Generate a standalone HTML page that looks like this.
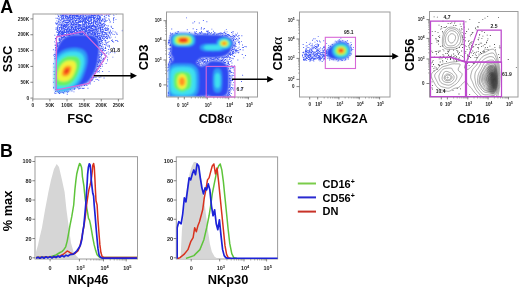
<!DOCTYPE html>
<html><head><meta charset="utf-8"><style>
html,body{margin:0;padding:0;background:#fff;width:520px;height:289px;overflow:hidden}
svg{display:block;will-change:transform}
</style></head><body>
<svg width="520" height="289" viewBox="0 0 520 289">
<defs><filter id="bl" x="-20%" y="-20%" width="140%" height="140%"><feGaussianBlur stdDeviation="0.9"/></filter><filter id="bl2"><feGaussianBlur stdDeviation="0.4"/></filter></defs>
<rect width="520" height="289" fill="#fff"/>
<clipPath id="c3"><rect x="33" y="14" width="90" height="85"/></clipPath>
<g clip-path="url(#c3)">
<path fill="#3a52f5" d="M60.5 13.6h0.9v0.9h-0.9zM63.2 14.0h0.9v0.9h-0.9zM66.7 13.6h0.9v0.9h-0.9zM71.3 13.6h0.9v0.9h-0.9zM79.7 13.7h0.9v0.9h-0.9zM83.2 13.8h0.9v0.9h-0.9zM91.4 13.1h0.9v0.9h-0.9zM92.8 13.5h0.9v0.9h-0.9zM97.3 13.2h0.9v0.9h-0.9zM99.8 13.9h0.9v0.9h-0.9zM106.6 13.5h0.9v0.9h-0.9zM109.0 13.5h0.9v0.9h-0.9zM56.9 14.4h0.9v0.9h-0.9zM74.5 14.7h0.9v0.9h-0.9zM78.3 14.2h0.9v0.9h-0.9zM79.5 14.2h0.9v0.9h-0.9zM84.6 15.0h0.9v0.9h-0.9zM86.8 14.3h0.9v0.9h-0.9zM87.2 14.7h0.9v0.9h-0.9zM91.0 14.7h0.9v0.9h-0.9zM93.9 15.0h0.9v0.9h-0.9zM98.1 15.0h0.9v0.9h-0.9zM101.7 14.6h0.9v0.9h-0.9zM107.7 14.5h0.9v0.9h-0.9zM108.8 14.3h0.9v0.9h-0.9zM60.2 15.2h0.9v0.9h-0.9zM64.7 15.9h0.9v0.9h-0.9zM65.5 16.0h0.9v0.9h-0.9zM71.9 15.6h0.9v0.9h-0.9zM75.8 15.6h0.9v0.9h-0.9zM80.7 15.2h0.9v0.9h-0.9zM82.6 15.3h0.9v0.9h-0.9zM84.6 15.6h0.9v0.9h-0.9zM88.7 15.8h0.9v0.9h-0.9zM91.9 15.2h0.9v0.9h-0.9zM108.8 15.9h0.9v0.9h-0.9zM62.0 16.4h0.9v0.9h-0.9zM63.1 16.8h0.9v0.9h-0.9zM66.9 17.0h0.9v0.9h-0.9zM67.4 16.4h0.9v0.9h-0.9zM73.5 16.1h0.9v0.9h-0.9zM75.6 16.3h0.9v0.9h-0.9zM80.0 16.1h0.9v0.9h-0.9zM84.7 16.9h0.9v0.9h-0.9zM87.2 16.4h0.9v0.9h-0.9zM90.1 16.9h0.9v0.9h-0.9zM91.2 16.2h0.9v0.9h-0.9zM93.2 16.5h0.9v0.9h-0.9zM94.2 16.9h0.9v0.9h-0.9zM96.8 17.0h0.9v0.9h-0.9zM103.8 16.3h0.9v0.9h-0.9zM61.2 17.5h0.9v0.9h-0.9zM62.4 17.8h0.9v0.9h-0.9zM69.8 17.3h0.9v0.9h-0.9zM72.0 18.0h0.9v0.9h-0.9zM73.9 17.4h0.9v0.9h-0.9zM74.7 17.5h0.9v0.9h-0.9zM80.4 17.2h0.9v0.9h-0.9zM81.7 18.0h0.9v0.9h-0.9zM88.9 17.1h0.9v0.9h-0.9zM90.3 17.6h0.9v0.9h-0.9zM91.8 17.2h0.9v0.9h-0.9zM92.9 18.0h0.9v0.9h-0.9zM93.5 17.8h0.9v0.9h-0.9zM98.1 17.8h0.9v0.9h-0.9zM99.3 17.5h0.9v0.9h-0.9zM100.4 17.4h0.9v0.9h-0.9zM58.4 18.2h0.9v0.9h-0.9zM69.5 18.8h0.9v0.9h-0.9zM70.1 18.6h0.9v0.9h-0.9zM72.1 18.2h0.9v0.9h-0.9zM74.9 18.1h0.9v0.9h-0.9zM83.8 18.8h0.9v0.9h-0.9zM85.7 18.8h0.9v0.9h-0.9zM86.7 18.6h0.9v0.9h-0.9zM90.7 18.8h0.9v0.9h-0.9zM97.7 18.8h0.9v0.9h-0.9zM99.1 18.7h0.9v0.9h-0.9zM100.1 18.5h0.9v0.9h-0.9zM108.7 18.7h0.9v0.9h-0.9zM113.2 18.1h0.9v0.9h-0.9zM60.5 19.4h0.9v0.9h-0.9zM64.1 19.9h0.9v0.9h-0.9zM66.4 19.9h0.9v0.9h-0.9zM71.8 19.2h0.9v0.9h-0.9zM73.4 19.6h0.9v0.9h-0.9zM74.7 20.0h0.9v0.9h-0.9zM75.7 20.0h0.9v0.9h-0.9zM76.7 19.7h0.9v0.9h-0.9zM78.2 19.7h0.9v0.9h-0.9zM79.4 19.3h0.9v0.9h-0.9zM84.8 20.0h0.9v0.9h-0.9zM85.3 19.8h0.9v0.9h-0.9zM95.2 19.7h0.9v0.9h-0.9zM97.4 20.0h0.9v0.9h-0.9zM99.1 20.0h0.9v0.9h-0.9zM101.3 19.7h0.9v0.9h-0.9zM102.7 19.9h0.9v0.9h-0.9zM106.6 20.0h0.9v0.9h-0.9zM109.2 19.8h0.9v0.9h-0.9zM115.5 19.2h0.9v0.9h-0.9zM56.4 20.4h0.9v0.9h-0.9zM60.7 20.4h0.9v0.9h-0.9zM63.3 20.7h0.9v0.9h-0.9zM69.2 20.6h0.9v0.9h-0.9zM70.3 20.4h0.9v0.9h-0.9zM74.8 20.3h0.9v0.9h-0.9zM75.6 20.2h0.9v0.9h-0.9zM82.8 20.1h0.9v0.9h-0.9zM83.8 20.8h0.9v0.9h-0.9zM90.8 20.7h0.9v0.9h-0.9zM93.8 20.5h0.9v0.9h-0.9zM94.4 20.8h0.9v0.9h-0.9zM95.7 21.0h0.9v0.9h-0.9zM104.3 20.8h0.9v0.9h-0.9zM105.6 20.8h0.9v0.9h-0.9zM61.7 21.7h0.9v0.9h-0.9zM62.2 21.6h0.9v0.9h-0.9zM68.5 21.3h0.9v0.9h-0.9zM71.9 21.1h0.9v0.9h-0.9zM73.1 21.6h0.9v0.9h-0.9zM78.6 21.8h0.9v0.9h-0.9zM80.3 21.3h0.9v0.9h-0.9zM81.9 21.1h0.9v0.9h-0.9zM83.4 21.1h0.9v0.9h-0.9zM85.9 21.3h0.9v0.9h-0.9zM90.9 22.0h0.9v0.9h-0.9zM97.0 21.5h0.9v0.9h-0.9zM99.8 21.5h0.9v0.9h-0.9zM101.1 21.4h0.9v0.9h-0.9zM104.6 21.4h0.9v0.9h-0.9zM109.5 21.7h0.9v0.9h-0.9zM110.1 21.4h0.9v0.9h-0.9zM55.1 22.6h0.9v0.9h-0.9zM57.2 22.5h0.9v0.9h-0.9zM67.4 22.1h0.9v0.9h-0.9zM71.9 22.2h0.9v0.9h-0.9zM75.7 22.1h0.9v0.9h-0.9zM78.1 22.1h0.9v0.9h-0.9zM84.3 23.0h0.9v0.9h-0.9zM87.7 22.9h0.9v0.9h-0.9zM91.6 22.2h0.9v0.9h-0.9zM95.8 22.2h0.9v0.9h-0.9zM98.4 22.8h0.9v0.9h-0.9zM100.3 23.0h0.9v0.9h-0.9zM103.0 23.0h0.9v0.9h-0.9zM104.1 22.7h0.9v0.9h-0.9zM59.1 23.4h0.9v0.9h-0.9zM63.9 23.9h0.9v0.9h-0.9zM68.0 23.7h0.9v0.9h-0.9zM69.5 23.3h0.9v0.9h-0.9zM70.5 23.7h0.9v0.9h-0.9zM71.3 23.8h0.9v0.9h-0.9zM72.7 23.7h0.9v0.9h-0.9zM73.1 23.8h0.9v0.9h-0.9zM89.4 23.4h0.9v0.9h-0.9zM102.0 24.0h0.9v0.9h-0.9zM102.9 23.1h0.9v0.9h-0.9zM104.5 24.0h0.9v0.9h-0.9zM61.4 24.5h0.9v0.9h-0.9zM62.4 24.5h0.9v0.9h-0.9zM63.5 25.0h0.9v0.9h-0.9zM64.1 24.5h0.9v0.9h-0.9zM72.8 24.8h0.9v0.9h-0.9zM74.5 24.2h0.9v0.9h-0.9zM75.5 24.2h0.9v0.9h-0.9zM76.3 24.7h0.9v0.9h-0.9zM77.6 24.5h0.9v0.9h-0.9zM79.4 24.9h0.9v0.9h-0.9zM80.1 24.2h0.9v0.9h-0.9zM84.3 24.5h0.9v0.9h-0.9zM86.0 24.2h0.9v0.9h-0.9zM90.5 24.9h0.9v0.9h-0.9zM91.5 25.0h0.9v0.9h-0.9zM93.0 24.5h0.9v0.9h-0.9zM93.6 24.8h0.9v0.9h-0.9zM96.0 24.2h0.9v0.9h-0.9zM97.2 25.0h0.9v0.9h-0.9zM101.5 24.3h0.9v0.9h-0.9zM104.8 24.2h0.9v0.9h-0.9zM65.2 25.3h0.9v0.9h-0.9zM66.7 25.6h0.9v0.9h-0.9zM71.7 25.4h0.9v0.9h-0.9zM72.3 25.4h0.9v0.9h-0.9zM82.8 25.9h0.9v0.9h-0.9zM85.6 26.0h0.9v0.9h-0.9zM86.3 25.5h0.9v0.9h-0.9zM88.0 26.0h0.9v0.9h-0.9zM91.6 25.6h0.9v0.9h-0.9zM92.3 25.1h0.9v0.9h-0.9zM93.2 25.5h0.9v0.9h-0.9zM94.7 25.6h0.9v0.9h-0.9zM96.7 25.9h0.9v0.9h-0.9zM99.5 25.1h0.9v0.9h-0.9zM101.4 25.8h0.9v0.9h-0.9zM104.0 25.5h0.9v0.9h-0.9zM104.1 25.7h0.9v0.9h-0.9zM107.8 25.5h0.9v0.9h-0.9zM57.9 26.4h0.9v0.9h-0.9zM60.9 26.6h0.9v0.9h-0.9zM62.6 26.3h0.9v0.9h-0.9zM63.5 26.3h0.9v0.9h-0.9zM68.6 26.1h0.9v0.9h-0.9zM71.1 26.3h0.9v0.9h-0.9zM72.1 27.0h0.9v0.9h-0.9zM74.5 26.9h0.9v0.9h-0.9zM75.5 26.7h0.9v0.9h-0.9zM78.9 26.2h0.9v0.9h-0.9zM79.4 26.7h0.9v0.9h-0.9zM83.6 26.2h0.9v0.9h-0.9zM85.0 27.0h0.9v0.9h-0.9zM85.5 26.8h0.9v0.9h-0.9zM86.5 26.8h0.9v0.9h-0.9zM89.1 26.1h0.9v0.9h-0.9zM91.3 26.4h0.9v0.9h-0.9zM95.0 26.8h0.9v0.9h-0.9zM95.2 26.6h0.9v0.9h-0.9zM96.7 26.1h0.9v0.9h-0.9zM100.4 27.0h0.9v0.9h-0.9zM101.5 26.5h0.9v0.9h-0.9zM58.6 27.7h0.9v0.9h-0.9zM61.7 27.7h0.9v0.9h-0.9zM63.0 27.5h0.9v0.9h-0.9zM63.8 27.8h0.9v0.9h-0.9zM73.7 27.7h0.9v0.9h-0.9zM75.2 27.9h0.9v0.9h-0.9zM77.7 27.9h0.9v0.9h-0.9zM79.5 27.3h0.9v0.9h-0.9zM80.4 27.4h0.9v0.9h-0.9zM81.2 27.9h0.9v0.9h-0.9zM85.4 27.9h0.9v0.9h-0.9zM86.1 27.5h0.9v0.9h-0.9zM90.0 27.9h0.9v0.9h-0.9zM90.4 27.4h0.9v0.9h-0.9zM91.6 28.0h0.9v0.9h-0.9zM96.3 27.5h0.9v0.9h-0.9zM98.0 28.0h0.9v0.9h-0.9zM99.6 27.7h0.9v0.9h-0.9zM105.0 27.3h0.9v0.9h-0.9zM106.7 27.2h0.9v0.9h-0.9zM61.2 28.2h0.9v0.9h-0.9zM63.8 28.4h0.9v0.9h-0.9zM64.4 28.9h0.9v0.9h-0.9zM66.5 29.0h0.9v0.9h-0.9zM71.5 28.8h0.9v0.9h-0.9zM72.8 28.1h0.9v0.9h-0.9zM73.3 28.1h0.9v0.9h-0.9zM75.6 28.9h0.9v0.9h-0.9zM76.4 28.3h0.9v0.9h-0.9zM77.1 28.1h0.9v0.9h-0.9zM78.7 28.2h0.9v0.9h-0.9zM79.7 28.1h0.9v0.9h-0.9zM81.0 28.1h0.9v0.9h-0.9zM81.4 28.9h0.9v0.9h-0.9zM82.4 28.8h0.9v0.9h-0.9zM83.3 28.2h0.9v0.9h-0.9zM85.6 28.7h0.9v0.9h-0.9zM86.1 28.8h0.9v0.9h-0.9zM88.4 28.9h0.9v0.9h-0.9zM89.1 28.7h0.9v0.9h-0.9zM90.8 28.1h0.9v0.9h-0.9zM91.7 28.2h0.9v0.9h-0.9zM94.5 28.9h0.9v0.9h-0.9zM98.8 28.4h0.9v0.9h-0.9zM99.9 28.5h0.9v0.9h-0.9zM102.1 28.7h0.9v0.9h-0.9zM104.7 28.8h0.9v0.9h-0.9zM107.3 28.8h0.9v0.9h-0.9zM112.0 28.2h0.9v0.9h-0.9zM57.3 29.5h0.9v0.9h-0.9zM61.0 29.1h0.9v0.9h-0.9zM62.5 29.5h0.9v0.9h-0.9zM65.5 29.2h0.9v0.9h-0.9zM68.8 29.1h0.9v0.9h-0.9zM69.3 30.0h0.9v0.9h-0.9zM73.0 29.1h0.9v0.9h-0.9zM73.7 29.9h0.9v0.9h-0.9zM74.6 29.6h0.9v0.9h-0.9zM75.7 29.1h0.9v0.9h-0.9zM80.0 29.5h0.9v0.9h-0.9zM80.2 29.8h0.9v0.9h-0.9zM81.8 29.2h0.9v0.9h-0.9zM82.4 29.5h0.9v0.9h-0.9zM83.8 29.5h0.9v0.9h-0.9zM84.6 29.5h0.9v0.9h-0.9zM85.4 29.7h0.9v0.9h-0.9zM88.0 29.6h0.9v0.9h-0.9zM89.7 29.8h0.9v0.9h-0.9zM92.8 29.3h0.9v0.9h-0.9zM93.3 29.6h0.9v0.9h-0.9zM95.0 29.4h0.9v0.9h-0.9zM96.0 29.1h0.9v0.9h-0.9zM97.7 29.6h0.9v0.9h-0.9zM100.4 29.1h0.9v0.9h-0.9zM102.1 29.4h0.9v0.9h-0.9zM109.9 29.8h0.9v0.9h-0.9zM122.9 29.1h0.9v0.9h-0.9zM57.0 30.1h0.9v0.9h-0.9zM57.7 30.6h0.9v0.9h-0.9zM61.6 30.4h0.9v0.9h-0.9zM63.4 30.3h0.9v0.9h-0.9zM64.2 30.5h0.9v0.9h-0.9zM65.7 30.7h0.9v0.9h-0.9zM66.3 30.4h0.9v0.9h-0.9zM68.3 31.0h0.9v0.9h-0.9zM70.5 30.4h0.9v0.9h-0.9zM72.5 30.9h0.9v0.9h-0.9zM73.2 30.9h0.9v0.9h-0.9zM74.7 30.4h0.9v0.9h-0.9zM76.0 30.7h0.9v0.9h-0.9zM77.2 30.8h0.9v0.9h-0.9zM79.0 30.1h0.9v0.9h-0.9zM79.9 30.2h0.9v0.9h-0.9zM81.5 30.8h0.9v0.9h-0.9zM82.2 30.2h0.9v0.9h-0.9zM84.9 30.1h0.9v0.9h-0.9zM87.3 30.4h0.9v0.9h-0.9zM88.8 30.4h0.9v0.9h-0.9zM89.5 30.4h0.9v0.9h-0.9zM91.5 30.4h0.9v0.9h-0.9zM92.4 30.5h0.9v0.9h-0.9zM93.6 30.4h0.9v0.9h-0.9zM95.4 30.9h0.9v0.9h-0.9zM99.9 30.7h0.9v0.9h-0.9zM100.6 30.9h0.9v0.9h-0.9zM112.5 30.7h0.9v0.9h-0.9zM121.8 30.3h0.9v0.9h-0.9zM56.1 31.5h0.9v0.9h-0.9zM57.1 31.9h0.9v0.9h-0.9zM59.7 31.3h0.9v0.9h-0.9zM60.3 31.2h0.9v0.9h-0.9zM61.9 32.0h0.9v0.9h-0.9zM62.5 31.6h0.9v0.9h-0.9zM64.7 31.5h0.9v0.9h-0.9zM66.0 31.3h0.9v0.9h-0.9zM66.5 31.1h0.9v0.9h-0.9zM67.3 31.5h0.9v0.9h-0.9zM69.8 31.1h0.9v0.9h-0.9zM71.0 32.0h0.9v0.9h-0.9zM71.4 31.9h0.9v0.9h-0.9zM72.2 31.8h0.9v0.9h-0.9zM73.5 31.1h0.9v0.9h-0.9zM74.1 32.0h0.9v0.9h-0.9zM75.9 31.7h0.9v0.9h-0.9zM76.5 31.2h0.9v0.9h-0.9zM77.4 31.8h0.9v0.9h-0.9zM80.0 31.1h0.9v0.9h-0.9zM80.4 31.9h0.9v0.9h-0.9zM82.2 31.7h0.9v0.9h-0.9zM83.8 31.7h0.9v0.9h-0.9zM84.7 31.1h0.9v0.9h-0.9zM86.2 31.1h0.9v0.9h-0.9zM87.3 31.6h0.9v0.9h-0.9zM88.3 31.8h0.9v0.9h-0.9zM90.3 31.2h0.9v0.9h-0.9zM92.0 31.5h0.9v0.9h-0.9zM93.4 31.9h0.9v0.9h-0.9zM94.1 31.7h0.9v0.9h-0.9zM96.9 31.1h0.9v0.9h-0.9zM97.4 31.2h0.9v0.9h-0.9zM100.6 31.8h0.9v0.9h-0.9zM101.8 31.5h0.9v0.9h-0.9zM102.1 31.1h0.9v0.9h-0.9zM105.5 32.0h0.9v0.9h-0.9zM110.1 31.3h0.9v0.9h-0.9zM114.7 31.6h0.9v0.9h-0.9zM57.9 32.2h0.9v0.9h-0.9zM58.1 32.9h0.9v0.9h-0.9zM60.9 32.4h0.9v0.9h-0.9zM63.4 32.5h0.9v0.9h-0.9zM64.6 32.1h0.9v0.9h-0.9zM65.9 32.2h0.9v0.9h-0.9zM68.1 32.3h0.9v0.9h-0.9zM69.1 32.9h0.9v0.9h-0.9zM70.5 32.1h0.9v0.9h-0.9zM71.1 32.8h0.9v0.9h-0.9zM72.2 32.9h0.9v0.9h-0.9zM74.3 32.5h0.9v0.9h-0.9zM75.7 32.8h0.9v0.9h-0.9zM77.9 32.2h0.9v0.9h-0.9zM78.6 32.7h0.9v0.9h-0.9zM79.4 32.7h0.9v0.9h-0.9zM80.7 33.0h0.9v0.9h-0.9zM82.5 32.5h0.9v0.9h-0.9zM85.2 32.9h0.9v0.9h-0.9zM87.1 32.1h0.9v0.9h-0.9zM88.7 32.8h0.9v0.9h-0.9zM89.7 32.3h0.9v0.9h-0.9zM90.1 32.7h0.9v0.9h-0.9zM91.6 32.4h0.9v0.9h-0.9zM92.5 32.2h0.9v0.9h-0.9zM93.7 32.1h0.9v0.9h-0.9zM94.6 32.4h0.9v0.9h-0.9zM95.2 33.0h0.9v0.9h-0.9zM97.0 32.4h0.9v0.9h-0.9zM98.9 32.9h0.9v0.9h-0.9zM103.9 32.1h0.9v0.9h-0.9zM104.7 32.2h0.9v0.9h-0.9zM105.2 32.9h0.9v0.9h-0.9zM111.3 32.6h0.9v0.9h-0.9zM115.8 32.7h0.9v0.9h-0.9zM58.5 33.5h0.9v0.9h-0.9zM60.5 33.7h0.9v0.9h-0.9zM62.0 33.2h0.9v0.9h-0.9zM62.7 34.0h0.9v0.9h-0.9zM64.2 34.0h0.9v0.9h-0.9zM65.2 34.0h0.9v0.9h-0.9zM66.3 33.4h0.9v0.9h-0.9zM67.1 33.7h0.9v0.9h-0.9zM68.3 33.5h0.9v0.9h-0.9zM69.3 33.7h0.9v0.9h-0.9zM70.4 33.5h0.9v0.9h-0.9zM71.8 33.7h0.9v0.9h-0.9zM72.6 34.0h0.9v0.9h-0.9zM74.7 33.6h0.9v0.9h-0.9zM75.7 33.1h0.9v0.9h-0.9zM76.3 33.5h0.9v0.9h-0.9zM77.8 33.4h0.9v0.9h-0.9zM79.9 34.0h0.9v0.9h-0.9zM80.1 33.5h0.9v0.9h-0.9zM81.1 34.0h0.9v0.9h-0.9zM82.1 34.0h0.9v0.9h-0.9zM83.1 33.1h0.9v0.9h-0.9zM84.5 33.5h0.9v0.9h-0.9zM86.7 33.1h0.9v0.9h-0.9zM87.4 33.9h0.9v0.9h-0.9zM88.4 33.9h0.9v0.9h-0.9zM90.4 33.4h0.9v0.9h-0.9zM91.9 33.4h0.9v0.9h-0.9zM92.2 33.9h0.9v0.9h-0.9zM94.0 33.7h0.9v0.9h-0.9zM94.3 33.9h0.9v0.9h-0.9zM95.1 33.3h0.9v0.9h-0.9zM96.6 33.5h0.9v0.9h-0.9zM99.0 33.1h0.9v0.9h-0.9zM99.8 33.4h0.9v0.9h-0.9zM101.3 33.9h0.9v0.9h-0.9zM104.4 33.5h0.9v0.9h-0.9zM109.5 33.2h0.9v0.9h-0.9zM54.4 34.8h0.9v0.9h-0.9zM57.7 35.0h0.9v0.9h-0.9zM58.1 34.2h0.9v0.9h-0.9zM60.7 34.1h0.9v0.9h-0.9zM61.6 34.2h0.9v0.9h-0.9zM62.1 34.2h0.9v0.9h-0.9zM63.1 34.6h0.9v0.9h-0.9zM64.4 34.1h0.9v0.9h-0.9zM65.6 34.3h0.9v0.9h-0.9zM66.4 34.8h0.9v0.9h-0.9zM68.0 34.9h0.9v0.9h-0.9zM68.7 35.0h0.9v0.9h-0.9zM69.3 34.6h0.9v0.9h-0.9zM91.3 34.2h0.9v0.9h-0.9zM93.0 34.8h0.9v0.9h-0.9zM93.1 34.8h0.9v0.9h-0.9zM94.4 34.3h0.9v0.9h-0.9zM95.4 34.6h0.9v0.9h-0.9zM96.8 34.1h0.9v0.9h-0.9zM98.9 34.9h0.9v0.9h-0.9zM102.4 34.1h0.9v0.9h-0.9zM103.5 34.2h0.9v0.9h-0.9zM105.6 34.1h0.9v0.9h-0.9zM110.0 34.5h0.9v0.9h-0.9zM58.8 35.4h0.9v0.9h-0.9zM60.9 35.5h0.9v0.9h-0.9zM62.9 35.8h0.9v0.9h-0.9zM63.8 35.7h0.9v0.9h-0.9zM64.3 35.6h0.9v0.9h-0.9zM65.6 35.2h0.9v0.9h-0.9zM66.7 35.3h0.9v0.9h-0.9zM94.6 35.4h0.9v0.9h-0.9zM95.1 36.0h0.9v0.9h-0.9zM96.9 35.9h0.9v0.9h-0.9zM97.8 35.2h0.9v0.9h-0.9zM98.3 35.3h0.9v0.9h-0.9zM99.8 35.1h0.9v0.9h-0.9zM100.5 35.9h0.9v0.9h-0.9zM101.4 36.0h0.9v0.9h-0.9zM103.0 35.8h0.9v0.9h-0.9zM103.3 35.4h0.9v0.9h-0.9zM104.4 35.8h0.9v0.9h-0.9zM107.8 35.8h0.9v0.9h-0.9zM57.0 36.1h0.9v0.9h-0.9zM57.4 36.3h0.9v0.9h-0.9zM61.2 36.9h0.9v0.9h-0.9zM62.3 37.0h0.9v0.9h-0.9zM63.4 36.5h0.9v0.9h-0.9zM64.9 37.0h0.9v0.9h-0.9zM96.0 36.4h0.9v0.9h-0.9zM96.9 36.2h0.9v0.9h-0.9zM97.7 36.1h0.9v0.9h-0.9zM99.2 36.2h0.9v0.9h-0.9zM100.3 37.0h0.9v0.9h-0.9zM102.4 37.0h0.9v0.9h-0.9zM103.5 36.2h0.9v0.9h-0.9zM104.9 37.0h0.9v0.9h-0.9zM105.4 36.5h0.9v0.9h-0.9zM107.0 36.8h0.9v0.9h-0.9zM109.0 36.4h0.9v0.9h-0.9zM110.6 36.7h0.9v0.9h-0.9zM114.9 36.7h0.9v0.9h-0.9zM54.9 38.0h0.9v0.9h-0.9zM55.6 38.0h0.9v0.9h-0.9zM56.2 37.3h0.9v0.9h-0.9zM59.5 37.9h0.9v0.9h-0.9zM60.7 37.5h0.9v0.9h-0.9zM61.6 37.5h0.9v0.9h-0.9zM62.9 37.2h0.9v0.9h-0.9zM96.8 37.3h0.9v0.9h-0.9zM97.7 37.7h0.9v0.9h-0.9zM98.8 37.3h0.9v0.9h-0.9zM99.9 37.8h0.9v0.9h-0.9zM100.3 37.7h0.9v0.9h-0.9zM102.5 37.9h0.9v0.9h-0.9zM106.1 37.8h0.9v0.9h-0.9zM108.6 37.2h0.9v0.9h-0.9zM109.5 37.8h0.9v0.9h-0.9zM55.7 38.8h0.9v0.9h-0.9zM58.4 38.6h0.9v0.9h-0.9zM59.4 38.8h0.9v0.9h-0.9zM60.8 39.0h0.9v0.9h-0.9zM61.4 38.4h0.9v0.9h-0.9zM97.8 38.1h0.9v0.9h-0.9zM98.6 38.7h0.9v0.9h-0.9zM99.5 38.5h0.9v0.9h-0.9zM101.8 38.1h0.9v0.9h-0.9zM102.9 38.9h0.9v0.9h-0.9zM103.7 38.1h0.9v0.9h-0.9zM106.4 38.1h0.9v0.9h-0.9zM107.2 38.4h0.9v0.9h-0.9zM55.6 39.8h0.9v0.9h-0.9zM58.7 39.8h0.9v0.9h-0.9zM59.8 39.8h0.9v0.9h-0.9zM60.1 39.4h0.9v0.9h-0.9zM99.0 39.4h0.9v0.9h-0.9zM99.1 39.1h0.9v0.9h-0.9zM100.9 39.4h0.9v0.9h-0.9zM104.4 39.9h0.9v0.9h-0.9zM111.9 39.5h0.9v0.9h-0.9zM58.8 40.1h0.9v0.9h-0.9zM59.9 40.9h0.9v0.9h-0.9zM98.9 40.9h0.9v0.9h-0.9zM99.5 41.0h0.9v0.9h-0.9zM100.5 40.7h0.9v0.9h-0.9zM101.3 40.1h0.9v0.9h-0.9zM105.3 40.1h0.9v0.9h-0.9zM108.6 40.9h0.9v0.9h-0.9zM112.0 41.0h0.9v0.9h-0.9zM116.6 40.1h0.9v0.9h-0.9zM54.1 41.4h0.9v0.9h-0.9zM55.9 41.7h0.9v0.9h-0.9zM56.3 41.7h0.9v0.9h-0.9zM58.6 41.9h0.9v0.9h-0.9zM59.5 41.4h0.9v0.9h-0.9zM98.9 41.4h0.9v0.9h-0.9zM101.3 41.1h0.9v0.9h-0.9zM104.8 41.5h0.9v0.9h-0.9zM107.5 41.9h0.9v0.9h-0.9zM113.2 41.5h0.9v0.9h-0.9zM55.6 42.4h0.9v0.9h-0.9zM56.1 42.9h0.9v0.9h-0.9zM57.4 42.3h0.9v0.9h-0.9zM58.5 42.9h0.9v0.9h-0.9zM99.1 42.3h0.9v0.9h-0.9zM100.1 42.7h0.9v0.9h-0.9zM101.2 42.4h0.9v0.9h-0.9zM102.2 42.2h0.9v0.9h-0.9zM106.5 42.2h0.9v0.9h-0.9zM55.6 43.9h0.9v0.9h-0.9zM56.9 44.0h0.9v0.9h-0.9zM57.2 43.2h0.9v0.9h-0.9zM99.8 43.5h0.9v0.9h-0.9zM100.4 43.1h0.9v0.9h-0.9zM102.5 43.5h0.9v0.9h-0.9zM104.0 44.0h0.9v0.9h-0.9zM105.3 43.7h0.9v0.9h-0.9zM106.2 43.3h0.9v0.9h-0.9zM54.5 44.7h0.9v0.9h-0.9zM55.4 45.0h0.9v0.9h-0.9zM56.4 44.6h0.9v0.9h-0.9zM57.3 45.0h0.9v0.9h-0.9zM99.4 44.7h0.9v0.9h-0.9zM101.9 44.4h0.9v0.9h-0.9zM105.6 44.8h0.9v0.9h-0.9zM107.6 44.8h0.9v0.9h-0.9zM56.6 45.9h0.9v0.9h-0.9zM99.1 45.1h0.9v0.9h-0.9zM101.4 45.8h0.9v0.9h-0.9zM109.1 45.2h0.9v0.9h-0.9zM55.1 47.0h0.9v0.9h-0.9zM57.0 46.1h0.9v0.9h-0.9zM100.8 46.3h0.9v0.9h-0.9zM101.2 46.1h0.9v0.9h-0.9zM102.7 46.6h0.9v0.9h-0.9zM105.0 46.8h0.9v0.9h-0.9zM107.4 46.2h0.9v0.9h-0.9zM108.8 46.3h0.9v0.9h-0.9zM109.1 46.5h0.9v0.9h-0.9zM55.7 47.5h0.9v0.9h-0.9zM100.8 47.7h0.9v0.9h-0.9zM102.0 47.9h0.9v0.9h-0.9zM102.6 47.7h0.9v0.9h-0.9zM104.8 47.8h0.9v0.9h-0.9zM105.3 48.0h0.9v0.9h-0.9zM113.0 47.6h0.9v0.9h-0.9zM55.5 48.1h0.9v0.9h-0.9zM100.0 48.6h0.9v0.9h-0.9zM101.4 48.2h0.9v0.9h-0.9zM102.5 48.9h0.9v0.9h-0.9zM104.6 48.2h0.9v0.9h-0.9zM52.9 49.3h0.9v0.9h-0.9zM54.9 49.6h0.9v0.9h-0.9zM55.5 49.8h0.9v0.9h-0.9zM99.6 49.5h0.9v0.9h-0.9zM100.4 49.7h0.9v0.9h-0.9zM101.5 49.8h0.9v0.9h-0.9zM103.0 49.1h0.9v0.9h-0.9zM108.2 49.1h0.9v0.9h-0.9zM56.0 50.3h0.9v0.9h-0.9zM99.4 50.9h0.9v0.9h-0.9zM102.3 50.1h0.9v0.9h-0.9zM103.5 50.2h0.9v0.9h-0.9zM105.2 50.1h0.9v0.9h-0.9zM99.6 52.0h0.9v0.9h-0.9zM100.8 51.9h0.9v0.9h-0.9zM102.3 51.4h0.9v0.9h-0.9zM107.8 51.4h0.9v0.9h-0.9zM109.8 52.0h0.9v0.9h-0.9zM112.0 51.4h0.9v0.9h-0.9zM101.0 52.9h0.9v0.9h-0.9zM101.7 52.7h0.9v0.9h-0.9zM102.9 52.5h0.9v0.9h-0.9zM106.4 52.3h0.9v0.9h-0.9zM114.4 52.3h0.9v0.9h-0.9zM54.2 54.0h0.9v0.9h-0.9zM99.7 53.8h0.9v0.9h-0.9zM101.1 54.0h0.9v0.9h-0.9zM104.0 53.1h0.9v0.9h-0.9zM105.7 53.2h0.9v0.9h-0.9zM108.4 53.5h0.9v0.9h-0.9zM53.1 54.7h0.9v0.9h-0.9zM55.0 54.6h0.9v0.9h-0.9zM98.2 54.5h0.9v0.9h-0.9zM99.4 54.3h0.9v0.9h-0.9zM102.2 54.2h0.9v0.9h-0.9zM104.6 55.0h0.9v0.9h-0.9zM54.1 55.9h0.9v0.9h-0.9zM98.4 55.7h0.9v0.9h-0.9zM101.1 55.1h0.9v0.9h-0.9zM104.8 55.2h0.9v0.9h-0.9zM105.4 55.5h0.9v0.9h-0.9zM98.9 56.5h0.9v0.9h-0.9zM99.8 56.4h0.9v0.9h-0.9zM100.5 56.2h0.9v0.9h-0.9zM104.7 56.9h0.9v0.9h-0.9zM107.2 56.7h0.9v0.9h-0.9zM112.4 56.7h0.9v0.9h-0.9zM54.6 58.0h0.9v0.9h-0.9zM98.1 57.5h0.9v0.9h-0.9zM99.2 57.1h0.9v0.9h-0.9zM100.7 57.7h0.9v0.9h-0.9zM101.2 57.6h0.9v0.9h-0.9zM102.9 57.8h0.9v0.9h-0.9zM54.3 58.4h0.9v0.9h-0.9zM98.9 58.7h0.9v0.9h-0.9zM102.8 58.9h0.9v0.9h-0.9zM103.1 58.4h0.9v0.9h-0.9zM98.1 59.6h0.9v0.9h-0.9zM99.2 59.6h0.9v0.9h-0.9zM100.3 59.8h0.9v0.9h-0.9zM101.5 59.7h0.9v0.9h-0.9zM102.5 59.3h0.9v0.9h-0.9zM107.0 59.2h0.9v0.9h-0.9zM98.7 60.4h0.9v0.9h-0.9zM99.4 60.5h0.9v0.9h-0.9zM100.6 60.5h0.9v0.9h-0.9zM102.7 61.0h0.9v0.9h-0.9zM107.1 60.4h0.9v0.9h-0.9zM97.2 61.3h0.9v0.9h-0.9zM98.2 61.3h0.9v0.9h-0.9zM99.4 61.1h0.9v0.9h-0.9zM100.3 61.8h0.9v0.9h-0.9zM98.0 62.1h0.9v0.9h-0.9zM98.2 62.3h0.9v0.9h-0.9zM99.4 62.4h0.9v0.9h-0.9zM100.4 62.8h0.9v0.9h-0.9zM53.2 63.3h0.9v0.9h-0.9zM97.4 63.6h0.9v0.9h-0.9zM98.9 63.7h0.9v0.9h-0.9zM101.2 63.7h0.9v0.9h-0.9zM105.7 63.1h0.9v0.9h-0.9zM97.1 64.4h0.9v0.9h-0.9zM98.4 64.9h0.9v0.9h-0.9zM99.1 64.9h0.9v0.9h-0.9zM101.7 64.2h0.9v0.9h-0.9zM97.0 65.8h0.9v0.9h-0.9zM97.9 65.9h0.9v0.9h-0.9zM98.9 65.8h0.9v0.9h-0.9zM99.7 65.8h0.9v0.9h-0.9zM100.1 66.0h0.9v0.9h-0.9zM101.8 65.8h0.9v0.9h-0.9zM53.5 66.7h0.9v0.9h-0.9zM96.6 66.4h0.9v0.9h-0.9zM97.6 66.2h0.9v0.9h-0.9zM96.7 68.0h0.9v0.9h-0.9zM96.3 69.0h0.9v0.9h-0.9zM100.3 68.2h0.9v0.9h-0.9zM95.7 69.9h0.9v0.9h-0.9zM96.3 69.7h0.9v0.9h-0.9zM99.0 69.9h0.9v0.9h-0.9zM95.4 70.6h0.9v0.9h-0.9zM96.4 70.7h0.9v0.9h-0.9zM102.2 71.0h0.9v0.9h-0.9zM53.6 71.1h0.9v0.9h-0.9zM94.4 71.3h0.9v0.9h-0.9zM95.1 71.4h0.9v0.9h-0.9zM96.9 71.7h0.9v0.9h-0.9zM97.8 71.1h0.9v0.9h-0.9zM98.8 71.6h0.9v0.9h-0.9zM108.6 71.2h0.9v0.9h-0.9zM95.0 72.8h0.9v0.9h-0.9zM53.8 74.0h0.9v0.9h-0.9zM93.4 73.4h0.9v0.9h-0.9zM94.6 73.1h0.9v0.9h-0.9zM93.8 74.6h0.9v0.9h-0.9zM93.0 76.7h0.9v0.9h-0.9zM95.5 77.0h0.9v0.9h-0.9zM100.4 76.6h0.9v0.9h-0.9zM91.2 77.3h0.9v0.9h-0.9zM92.9 77.2h0.9v0.9h-0.9zM93.8 77.2h0.9v0.9h-0.9zM98.7 77.2h0.9v0.9h-0.9zM103.6 77.6h0.9v0.9h-0.9zM53.5 78.1h0.9v0.9h-0.9zM90.9 78.9h0.9v0.9h-0.9zM92.0 78.8h0.9v0.9h-0.9zM92.9 78.4h0.9v0.9h-0.9zM89.6 79.8h0.9v0.9h-0.9zM91.6 80.0h0.9v0.9h-0.9zM95.6 79.1h0.9v0.9h-0.9zM97.1 79.2h0.9v0.9h-0.9zM98.3 79.8h0.9v0.9h-0.9zM91.0 80.2h0.9v0.9h-0.9zM91.1 80.4h0.9v0.9h-0.9zM93.8 80.9h0.9v0.9h-0.9zM53.3 81.8h0.9v0.9h-0.9zM88.7 81.5h0.9v0.9h-0.9zM88.3 83.0h0.9v0.9h-0.9zM89.7 82.3h0.9v0.9h-0.9zM85.5 83.8h0.9v0.9h-0.9zM87.7 83.6h0.9v0.9h-0.9zM89.7 83.6h0.9v0.9h-0.9zM83.8 84.8h0.9v0.9h-0.9zM84.3 85.0h0.9v0.9h-0.9zM85.7 84.4h0.9v0.9h-0.9zM86.5 85.0h0.9v0.9h-0.9zM81.2 85.4h0.9v0.9h-0.9zM84.3 85.2h0.9v0.9h-0.9zM53.3 86.7h0.9v0.9h-0.9zM77.1 86.7h0.9v0.9h-0.9zM79.1 86.4h0.9v0.9h-0.9zM53.2 87.5h0.9v0.9h-0.9zM74.5 87.8h0.9v0.9h-0.9zM77.7 87.5h0.9v0.9h-0.9zM80.0 87.7h0.9v0.9h-0.9zM81.6 87.8h0.9v0.9h-0.9zM82.6 88.0h0.9v0.9h-0.9zM83.6 87.8h0.9v0.9h-0.9zM87.5 87.8h0.9v0.9h-0.9zM72.7 88.7h0.9v0.9h-0.9zM74.0 88.5h0.9v0.9h-0.9zM74.2 88.8h0.9v0.9h-0.9zM78.4 88.6h0.9v0.9h-0.9zM79.4 88.1h0.9v0.9h-0.9zM55.0 89.2h0.9v0.9h-0.9zM70.1 89.2h0.9v0.9h-0.9zM55.0 91.0h0.9v0.9h-0.9zM68.2 90.9h0.9v0.9h-0.9zM71.5 90.5h0.9v0.9h-0.9zM56.7 91.1h0.9v0.9h-0.9zM57.9 92.0h0.9v0.9h-0.9zM58.8 91.1h0.9v0.9h-0.9zM59.7 91.8h0.9v0.9h-0.9zM60.9 91.7h0.9v0.9h-0.9zM62.1 91.8h0.9v0.9h-0.9zM63.2 91.9h0.9v0.9h-0.9zM64.3 91.1h0.9v0.9h-0.9zM66.4 91.1h0.9v0.9h-0.9zM67.2 91.8h0.9v0.9h-0.9zM73.5 91.4h0.9v0.9h-0.9zM54.2 92.6h0.9v0.9h-0.9zM55.4 93.0h0.9v0.9h-0.9zM58.8 92.8h0.9v0.9h-0.9zM59.3 93.0h0.9v0.9h-0.9zM63.3 92.8h0.9v0.9h-0.9zM66.8 93.8h0.9v0.9h-0.9zM55.2 13.3h0.9v0.9h-0.9zM59.6 13.3h0.9v0.9h-0.9zM60.9 13.7h0.9v0.9h-0.9zM62.7 13.3h0.9v0.9h-0.9zM64.0 13.7h0.9v0.9h-0.9zM64.4 14.0h0.9v0.9h-0.9zM65.7 13.9h0.9v0.9h-0.9zM66.7 13.8h0.9v0.9h-0.9zM67.5 13.5h0.9v0.9h-0.9zM68.4 13.4h0.9v0.9h-0.9zM69.6 14.0h0.9v0.9h-0.9zM70.6 13.7h0.9v0.9h-0.9zM71.9 13.2h0.9v0.9h-0.9zM73.0 13.7h0.9v0.9h-0.9zM73.2 13.1h0.9v0.9h-0.9zM74.1 13.6h0.9v0.9h-0.9zM76.0 13.3h0.9v0.9h-0.9zM76.1 13.3h0.9v0.9h-0.9zM77.1 13.6h0.9v0.9h-0.9zM78.1 13.9h0.9v0.9h-0.9zM80.0 13.6h0.9v0.9h-0.9zM80.6 13.5h0.9v0.9h-0.9zM81.9 13.8h0.9v0.9h-0.9zM82.8 13.6h0.9v0.9h-0.9zM83.7 13.9h0.9v0.9h-0.9zM85.4 13.3h0.9v0.9h-0.9zM86.3 13.8h0.9v0.9h-0.9zM87.6 13.1h0.9v0.9h-0.9zM88.2 13.4h0.9v0.9h-0.9zM89.3 13.3h0.9v0.9h-0.9zM90.5 13.6h0.9v0.9h-0.9zM91.2 14.0h0.9v0.9h-0.9zM94.3 13.9h0.9v0.9h-0.9zM95.2 13.2h0.9v0.9h-0.9zM96.9 13.8h0.9v0.9h-0.9zM98.1 14.0h0.9v0.9h-0.9zM99.5 13.5h0.9v0.9h-0.9zM100.4 13.4h0.9v0.9h-0.9zM104.1 13.6h0.9v0.9h-0.9zM110.0 13.7h0.9v0.9h-0.9zM112.9 13.6h0.9v0.9h-0.9zM113.6 13.2h0.9v0.9h-0.9zM115.8 13.5h0.9v0.9h-0.9zM58.4 14.7h0.9v0.9h-0.9zM60.6 14.9h0.9v0.9h-0.9zM62.0 14.5h0.9v0.9h-0.9zM62.3 14.3h0.9v0.9h-0.9zM64.6 15.0h0.9v0.9h-0.9zM65.4 14.8h0.9v0.9h-0.9zM66.3 14.3h0.9v0.9h-0.9zM67.4 14.6h0.9v0.9h-0.9zM68.9 14.8h0.9v0.9h-0.9zM70.0 14.8h0.9v0.9h-0.9zM70.6 14.5h0.9v0.9h-0.9zM71.6 14.6h0.9v0.9h-0.9zM72.5 14.9h0.9v0.9h-0.9zM73.4 14.8h0.9v0.9h-0.9zM74.7 14.5h0.9v0.9h-0.9zM76.0 14.5h0.9v0.9h-0.9zM76.8 14.7h0.9v0.9h-0.9zM77.8 14.8h0.9v0.9h-0.9zM78.5 14.6h0.9v0.9h-0.9zM79.7 14.9h0.9v0.9h-0.9zM80.4 15.0h0.9v0.9h-0.9zM81.6 14.4h0.9v0.9h-0.9zM82.6 14.6h0.9v0.9h-0.9zM83.3 14.5h0.9v0.9h-0.9zM85.1 14.4h0.9v0.9h-0.9zM86.5 14.1h0.9v0.9h-0.9zM87.4 14.6h0.9v0.9h-0.9zM88.6 14.5h0.9v0.9h-0.9zM89.5 14.1h0.9v0.9h-0.9zM91.0 15.0h0.9v0.9h-0.9zM91.7 14.8h0.9v0.9h-0.9zM92.7 15.0h0.9v0.9h-0.9zM93.6 14.2h0.9v0.9h-0.9zM94.7 14.5h0.9v0.9h-0.9zM96.0 14.3h0.9v0.9h-0.9zM96.7 14.4h0.9v0.9h-0.9zM98.4 14.6h0.9v0.9h-0.9zM101.0 14.4h0.9v0.9h-0.9zM101.3 14.3h0.9v0.9h-0.9zM106.1 14.4h0.9v0.9h-0.9zM113.4 14.9h0.9v0.9h-0.9zM58.2 15.8h0.9v0.9h-0.9zM60.9 15.5h0.9v0.9h-0.9zM61.9 15.4h0.9v0.9h-0.9zM62.8 15.1h0.9v0.9h-0.9zM63.3 15.3h0.9v0.9h-0.9zM64.7 15.5h0.9v0.9h-0.9zM66.0 15.8h0.9v0.9h-0.9zM66.4 15.7h0.9v0.9h-0.9zM67.3 15.9h0.9v0.9h-0.9zM68.7 15.5h0.9v0.9h-0.9zM69.6 15.5h0.9v0.9h-0.9zM70.3 15.7h0.9v0.9h-0.9zM71.7 15.5h0.9v0.9h-0.9zM72.9 15.2h0.9v0.9h-0.9zM74.0 15.6h0.9v0.9h-0.9zM74.7 15.3h0.9v0.9h-0.9zM75.4 15.2h0.9v0.9h-0.9zM76.6 15.5h0.9v0.9h-0.9zM77.2 15.3h0.9v0.9h-0.9zM78.5 15.9h0.9v0.9h-0.9zM79.6 15.9h0.9v0.9h-0.9zM80.9 15.6h0.9v0.9h-0.9zM82.0 15.7h0.9v0.9h-0.9zM82.4 15.7h0.9v0.9h-0.9zM83.1 15.9h0.9v0.9h-0.9zM85.7 15.2h0.9v0.9h-0.9zM86.3 16.0h0.9v0.9h-0.9zM87.8 15.8h0.9v0.9h-0.9zM88.8 15.3h0.9v0.9h-0.9zM90.0 15.8h0.9v0.9h-0.9zM90.2 15.3h0.9v0.9h-0.9zM91.5 15.9h0.9v0.9h-0.9zM92.8 15.1h0.9v0.9h-0.9zM93.1 15.5h0.9v0.9h-0.9zM94.6 15.6h0.9v0.9h-0.9zM95.4 15.2h0.9v0.9h-0.9zM97.0 15.3h0.9v0.9h-0.9zM97.4 16.0h0.9v0.9h-0.9zM98.7 15.6h0.9v0.9h-0.9zM99.8 15.4h0.9v0.9h-0.9zM101.6 15.1h0.9v0.9h-0.9zM104.0 15.7h0.9v0.9h-0.9zM104.2 15.8h0.9v0.9h-0.9zM105.7 15.1h0.9v0.9h-0.9zM108.2 15.6h0.9v0.9h-0.9zM58.0 16.2h0.9v0.9h-0.9zM58.8 16.7h0.9v0.9h-0.9zM60.3 16.8h0.9v0.9h-0.9zM61.2 16.4h0.9v0.9h-0.9zM63.3 16.2h0.9v0.9h-0.9zM65.2 16.9h0.9v0.9h-0.9zM66.7 16.5h0.9v0.9h-0.9zM67.1 16.3h0.9v0.9h-0.9zM68.9 17.0h0.9v0.9h-0.9zM69.1 16.6h0.9v0.9h-0.9zM70.6 16.8h0.9v0.9h-0.9zM71.8 16.2h0.9v0.9h-0.9zM72.1 16.3h0.9v0.9h-0.9zM73.4 16.9h0.9v0.9h-0.9zM74.2 16.8h0.9v0.9h-0.9zM75.8 16.5h0.9v0.9h-0.9zM76.5 16.4h0.9v0.9h-0.9zM77.5 16.1h0.9v0.9h-0.9zM78.7 16.6h0.9v0.9h-0.9zM80.0 16.1h0.9v0.9h-0.9zM80.1 16.7h0.9v0.9h-0.9zM81.5 17.0h0.9v0.9h-0.9zM82.3 16.7h0.9v0.9h-0.9zM83.1 16.8h0.9v0.9h-0.9zM84.6 16.8h0.9v0.9h-0.9zM86.0 16.7h0.9v0.9h-0.9zM86.1 17.0h0.9v0.9h-0.9zM87.2 16.8h0.9v0.9h-0.9zM89.0 16.2h0.9v0.9h-0.9zM89.3 16.9h0.9v0.9h-0.9zM90.7 16.8h0.9v0.9h-0.9zM92.3 16.7h0.9v0.9h-0.9zM93.1 16.4h0.9v0.9h-0.9zM94.9 17.0h0.9v0.9h-0.9zM95.7 16.2h0.9v0.9h-0.9zM98.9 16.9h0.9v0.9h-0.9zM99.1 16.1h0.9v0.9h-0.9zM100.1 16.5h0.9v0.9h-0.9zM113.5 17.0h0.9v0.9h-0.9zM55.6 17.8h0.9v0.9h-0.9zM57.1 17.8h0.9v0.9h-0.9zM61.0 17.9h0.9v0.9h-0.9zM62.9 17.8h0.9v0.9h-0.9zM63.5 17.8h0.9v0.9h-0.9zM65.0 17.3h0.9v0.9h-0.9zM65.7 17.8h0.9v0.9h-0.9zM66.9 17.9h0.9v0.9h-0.9zM68.0 17.3h0.9v0.9h-0.9zM68.5 17.6h0.9v0.9h-0.9zM69.6 17.2h0.9v0.9h-0.9zM70.4 17.1h0.9v0.9h-0.9zM71.4 17.4h0.9v0.9h-0.9zM72.2 17.2h0.9v0.9h-0.9zM73.7 17.4h0.9v0.9h-0.9zM74.3 17.6h0.9v0.9h-0.9zM75.5 18.0h0.9v0.9h-0.9zM76.9 17.8h0.9v0.9h-0.9zM77.7 17.4h0.9v0.9h-0.9zM78.6 17.3h0.9v0.9h-0.9zM79.2 17.5h0.9v0.9h-0.9zM80.4 17.3h0.9v0.9h-0.9zM81.3 17.4h0.9v0.9h-0.9zM82.3 17.9h0.9v0.9h-0.9zM84.0 17.4h0.9v0.9h-0.9zM84.8 17.5h0.9v0.9h-0.9zM85.9 17.7h0.9v0.9h-0.9zM86.4 17.9h0.9v0.9h-0.9zM87.8 17.1h0.9v0.9h-0.9zM88.1 17.5h0.9v0.9h-0.9zM89.6 17.1h0.9v0.9h-0.9zM90.7 17.9h0.9v0.9h-0.9zM91.2 17.1h0.9v0.9h-0.9zM93.0 17.3h0.9v0.9h-0.9zM93.9 17.9h0.9v0.9h-0.9zM94.1 17.7h0.9v0.9h-0.9zM96.4 18.0h0.9v0.9h-0.9zM97.1 17.6h0.9v0.9h-0.9zM98.4 17.7h0.9v0.9h-0.9zM104.3 17.7h0.9v0.9h-0.9zM105.6 17.3h0.9v0.9h-0.9zM58.4 18.8h0.9v0.9h-0.9zM59.1 18.6h0.9v0.9h-0.9zM61.9 18.6h0.9v0.9h-0.9zM62.1 18.6h0.9v0.9h-0.9zM63.4 18.2h0.9v0.9h-0.9zM64.6 18.5h0.9v0.9h-0.9zM66.3 18.5h0.9v0.9h-0.9zM67.6 18.8h0.9v0.9h-0.9zM68.1 18.2h0.9v0.9h-0.9zM69.6 18.3h0.9v0.9h-0.9zM70.3 18.5h0.9v0.9h-0.9zM71.6 18.8h0.9v0.9h-0.9zM72.3 18.2h0.9v0.9h-0.9zM73.1 18.2h0.9v0.9h-0.9zM74.7 18.1h0.9v0.9h-0.9zM75.9 18.5h0.9v0.9h-0.9zM76.1 18.6h0.9v0.9h-0.9zM77.5 18.1h0.9v0.9h-0.9zM78.2 18.1h0.9v0.9h-0.9zM79.2 18.4h0.9v0.9h-0.9zM80.1 18.2h0.9v0.9h-0.9zM82.0 18.2h0.9v0.9h-0.9zM82.7 18.3h0.9v0.9h-0.9zM83.7 18.2h0.9v0.9h-0.9zM84.7 18.3h0.9v0.9h-0.9zM85.4 18.3h0.9v0.9h-0.9zM86.1 18.8h0.9v0.9h-0.9zM87.9 18.1h0.9v0.9h-0.9zM88.8 18.2h0.9v0.9h-0.9zM89.4 18.4h0.9v0.9h-0.9zM90.4 19.0h0.9v0.9h-0.9zM91.1 18.9h0.9v0.9h-0.9zM93.0 18.4h0.9v0.9h-0.9zM93.2 18.5h0.9v0.9h-0.9zM94.2 18.1h0.9v0.9h-0.9zM95.7 18.5h0.9v0.9h-0.9zM96.9 18.5h0.9v0.9h-0.9zM97.8 18.8h0.9v0.9h-0.9zM98.2 18.7h0.9v0.9h-0.9zM99.3 18.6h0.9v0.9h-0.9zM102.0 18.4h0.9v0.9h-0.9zM102.3 18.6h0.9v0.9h-0.9zM103.4 18.7h0.9v0.9h-0.9zM104.5 18.8h0.9v0.9h-0.9zM108.2 18.4h0.9v0.9h-0.9zM113.0 18.8h0.9v0.9h-0.9zM58.5 19.8h0.9v0.9h-0.9zM60.1 19.8h0.9v0.9h-0.9zM61.2 19.2h0.9v0.9h-0.9zM63.0 19.6h0.9v0.9h-0.9zM63.7 19.6h0.9v0.9h-0.9zM65.3 19.9h0.9v0.9h-0.9zM66.6 19.2h0.9v0.9h-0.9zM68.6 19.6h0.9v0.9h-0.9zM69.6 20.0h0.9v0.9h-0.9zM70.5 19.1h0.9v0.9h-0.9zM71.3 19.3h0.9v0.9h-0.9zM72.6 19.5h0.9v0.9h-0.9zM73.9 19.2h0.9v0.9h-0.9zM74.1 19.4h0.9v0.9h-0.9zM75.7 19.8h0.9v0.9h-0.9zM76.9 19.4h0.9v0.9h-0.9zM77.4 19.4h0.9v0.9h-0.9zM78.5 19.3h0.9v0.9h-0.9zM79.5 19.8h0.9v0.9h-0.9zM81.0 19.2h0.9v0.9h-0.9zM81.9 19.6h0.9v0.9h-0.9zM82.7 19.2h0.9v0.9h-0.9zM83.2 19.5h0.9v0.9h-0.9zM84.7 19.1h0.9v0.9h-0.9zM85.2 19.9h0.9v0.9h-0.9zM87.0 19.8h0.9v0.9h-0.9zM87.5 19.3h0.9v0.9h-0.9zM88.2 19.3h0.9v0.9h-0.9zM89.7 20.0h0.9v0.9h-0.9zM90.7 19.7h0.9v0.9h-0.9zM91.5 19.2h0.9v0.9h-0.9zM93.6 19.5h0.9v0.9h-0.9zM94.3 19.6h0.9v0.9h-0.9zM95.8 19.3h0.9v0.9h-0.9zM97.0 20.0h0.9v0.9h-0.9zM97.4 19.9h0.9v0.9h-0.9zM98.1 19.1h0.9v0.9h-0.9zM99.5 19.6h0.9v0.9h-0.9zM102.0 19.2h0.9v0.9h-0.9zM104.9 19.8h0.9v0.9h-0.9zM57.9 21.0h0.9v0.9h-0.9zM60.7 20.7h0.9v0.9h-0.9zM62.5 20.8h0.9v0.9h-0.9zM63.6 20.9h0.9v0.9h-0.9zM64.7 20.7h0.9v0.9h-0.9zM65.4 20.1h0.9v0.9h-0.9zM66.7 20.2h0.9v0.9h-0.9zM67.4 20.2h0.9v0.9h-0.9zM68.4 20.1h0.9v0.9h-0.9zM69.5 20.9h0.9v0.9h-0.9zM70.3 20.9h0.9v0.9h-0.9zM71.7 20.6h0.9v0.9h-0.9zM72.2 20.7h0.9v0.9h-0.9zM73.5 20.8h0.9v0.9h-0.9zM74.9 20.2h0.9v0.9h-0.9zM75.2 20.8h0.9v0.9h-0.9zM76.3 20.1h0.9v0.9h-0.9zM77.9 20.7h0.9v0.9h-0.9zM79.0 20.9h0.9v0.9h-0.9zM79.9 20.8h0.9v0.9h-0.9zM80.3 20.2h0.9v0.9h-0.9zM81.4 20.6h0.9v0.9h-0.9zM82.3 21.0h0.9v0.9h-0.9zM83.7 20.2h0.9v0.9h-0.9zM84.8 20.9h0.9v0.9h-0.9zM86.0 21.0h0.9v0.9h-0.9zM86.9 20.2h0.9v0.9h-0.9zM87.6 20.2h0.9v0.9h-0.9zM88.5 20.5h0.9v0.9h-0.9zM89.2 21.0h0.9v0.9h-0.9zM91.0 20.3h0.9v0.9h-0.9zM91.2 20.4h0.9v0.9h-0.9zM92.9 20.5h0.9v0.9h-0.9zM94.4 20.7h0.9v0.9h-0.9zM96.0 20.7h0.9v0.9h-0.9zM96.6 20.9h0.9v0.9h-0.9zM97.4 20.1h0.9v0.9h-0.9zM98.7 20.8h0.9v0.9h-0.9zM99.1 20.3h0.9v0.9h-0.9zM100.7 20.1h0.9v0.9h-0.9zM101.6 20.6h0.9v0.9h-0.9zM113.2 20.3h0.9v0.9h-0.9zM57.9 21.7h0.9v0.9h-0.9zM58.8 21.7h0.9v0.9h-0.9zM59.3 21.5h0.9v0.9h-0.9zM61.9 21.8h0.9v0.9h-0.9zM63.0 21.4h0.9v0.9h-0.9zM64.5 21.9h0.9v0.9h-0.9zM65.5 21.7h0.9v0.9h-0.9zM66.4 21.8h0.9v0.9h-0.9zM67.5 21.4h0.9v0.9h-0.9zM69.0 21.2h0.9v0.9h-0.9zM69.2 21.1h0.9v0.9h-0.9zM70.6 21.9h0.9v0.9h-0.9zM72.7 21.6h0.9v0.9h-0.9zM73.7 21.9h0.9v0.9h-0.9zM75.0 21.7h0.9v0.9h-0.9zM75.7 21.7h0.9v0.9h-0.9zM76.7 21.9h0.9v0.9h-0.9zM77.3 21.7h0.9v0.9h-0.9zM78.2 21.4h0.9v0.9h-0.9zM79.4 21.1h0.9v0.9h-0.9zM80.8 21.2h0.9v0.9h-0.9zM81.2 21.2h0.9v0.9h-0.9zM82.4 21.7h0.9v0.9h-0.9zM83.7 21.2h0.9v0.9h-0.9zM84.4 22.0h0.9v0.9h-0.9zM85.2 21.3h0.9v0.9h-0.9zM86.1 22.0h0.9v0.9h-0.9zM87.9 21.3h0.9v0.9h-0.9zM88.8 21.2h0.9v0.9h-0.9zM89.1 21.5h0.9v0.9h-0.9zM90.4 21.1h0.9v0.9h-0.9zM91.2 21.9h0.9v0.9h-0.9zM93.0 21.4h0.9v0.9h-0.9zM93.2 22.0h0.9v0.9h-0.9zM94.9 21.1h0.9v0.9h-0.9zM95.1 21.4h0.9v0.9h-0.9zM97.4 21.5h0.9v0.9h-0.9zM98.8 22.0h0.9v0.9h-0.9zM99.7 21.6h0.9v0.9h-0.9zM101.3 21.2h0.9v0.9h-0.9zM103.6 21.3h0.9v0.9h-0.9zM113.0 21.9h0.9v0.9h-0.9zM55.7 22.7h0.9v0.9h-0.9zM56.6 23.0h0.9v0.9h-0.9zM60.3 22.3h0.9v0.9h-0.9zM62.4 22.9h0.9v0.9h-0.9zM63.6 22.7h0.9v0.9h-0.9zM64.8 22.3h0.9v0.9h-0.9zM65.5 22.4h0.9v0.9h-0.9zM66.4 22.7h0.9v0.9h-0.9zM67.2 22.3h0.9v0.9h-0.9zM68.3 22.1h0.9v0.9h-0.9zM69.8 22.2h0.9v0.9h-0.9zM71.0 22.8h0.9v0.9h-0.9zM71.1 22.7h0.9v0.9h-0.9zM72.6 22.4h0.9v0.9h-0.9zM73.5 22.9h0.9v0.9h-0.9zM74.6 22.7h0.9v0.9h-0.9zM76.0 22.6h0.9v0.9h-0.9zM76.7 22.7h0.9v0.9h-0.9zM77.9 22.2h0.9v0.9h-0.9zM78.1 22.5h0.9v0.9h-0.9zM79.3 22.2h0.9v0.9h-0.9zM80.3 22.1h0.9v0.9h-0.9zM81.8 22.3h0.9v0.9h-0.9zM82.1 22.5h0.9v0.9h-0.9zM84.0 22.2h0.9v0.9h-0.9zM84.7 23.0h0.9v0.9h-0.9zM85.3 22.1h0.9v0.9h-0.9zM87.0 22.2h0.9v0.9h-0.9zM87.7 22.3h0.9v0.9h-0.9zM88.5 22.8h0.9v0.9h-0.9zM89.5 23.0h0.9v0.9h-0.9zM90.6 23.0h0.9v0.9h-0.9zM91.4 23.0h0.9v0.9h-0.9zM92.4 22.4h0.9v0.9h-0.9zM93.4 22.6h0.9v0.9h-0.9zM94.7 22.3h0.9v0.9h-0.9zM95.1 22.9h0.9v0.9h-0.9zM96.5 22.6h0.9v0.9h-0.9zM98.4 22.4h0.9v0.9h-0.9zM100.0 22.5h0.9v0.9h-0.9zM55.9 23.8h0.9v0.9h-0.9zM57.8 23.8h0.9v0.9h-0.9zM59.7 23.8h0.9v0.9h-0.9zM61.0 23.4h0.9v0.9h-0.9zM61.2 24.0h0.9v0.9h-0.9zM62.7 23.7h0.9v0.9h-0.9zM64.0 23.9h0.9v0.9h-0.9zM64.7 23.9h0.9v0.9h-0.9zM65.9 23.8h0.9v0.9h-0.9zM66.7 23.7h0.9v0.9h-0.9zM67.5 23.4h0.9v0.9h-0.9zM68.2 23.9h0.9v0.9h-0.9zM69.4 23.1h0.9v0.9h-0.9zM70.8 23.5h0.9v0.9h-0.9zM71.3 23.9h0.9v0.9h-0.9zM72.3 23.8h0.9v0.9h-0.9zM73.8 23.1h0.9v0.9h-0.9zM75.0 23.8h0.9v0.9h-0.9zM75.6 24.0h0.9v0.9h-0.9zM76.1 23.7h0.9v0.9h-0.9zM77.4 23.3h0.9v0.9h-0.9zM78.2 24.0h0.9v0.9h-0.9zM79.1 23.9h0.9v0.9h-0.9zM80.7 23.9h0.9v0.9h-0.9zM82.0 23.8h0.9v0.9h-0.9zM83.0 23.6h0.9v0.9h-0.9zM83.5 23.7h0.9v0.9h-0.9zM84.3 23.9h0.9v0.9h-0.9zM85.2 23.3h0.9v0.9h-0.9zM86.3 23.3h0.9v0.9h-0.9zM87.9 23.5h0.9v0.9h-0.9zM88.4 23.6h0.9v0.9h-0.9zM89.9 23.7h0.9v0.9h-0.9zM90.3 23.9h0.9v0.9h-0.9zM91.1 23.1h0.9v0.9h-0.9zM93.0 23.4h0.9v0.9h-0.9zM93.2 23.7h0.9v0.9h-0.9zM95.0 23.3h0.9v0.9h-0.9zM95.7 24.0h0.9v0.9h-0.9zM97.4 23.6h0.9v0.9h-0.9zM98.4 23.9h0.9v0.9h-0.9zM99.4 23.2h0.9v0.9h-0.9zM100.6 23.3h0.9v0.9h-0.9zM101.9 23.8h0.9v0.9h-0.9zM102.8 23.6h0.9v0.9h-0.9zM57.6 24.6h0.9v0.9h-0.9zM58.7 24.9h0.9v0.9h-0.9zM59.4 24.2h0.9v0.9h-0.9zM60.5 24.7h0.9v0.9h-0.9zM61.1 25.0h0.9v0.9h-0.9zM62.7 25.0h0.9v0.9h-0.9zM64.3 24.8h0.9v0.9h-0.9zM65.4 24.7h0.9v0.9h-0.9zM66.1 24.6h0.9v0.9h-0.9zM67.4 24.5h0.9v0.9h-0.9zM68.6 24.4h0.9v0.9h-0.9zM69.9 24.7h0.9v0.9h-0.9zM70.9 24.2h0.9v0.9h-0.9zM71.7 24.4h0.9v0.9h-0.9zM73.0 24.6h0.9v0.9h-0.9zM73.7 24.2h0.9v0.9h-0.9zM74.6 24.2h0.9v0.9h-0.9zM75.8 24.6h0.9v0.9h-0.9zM76.5 24.2h0.9v0.9h-0.9zM77.7 25.0h0.9v0.9h-0.9zM78.4 24.5h0.9v0.9h-0.9zM79.2 24.7h0.9v0.9h-0.9zM80.3 24.9h0.9v0.9h-0.9zM81.6 25.0h0.9v0.9h-0.9zM82.8 24.2h0.9v0.9h-0.9zM83.3 24.7h0.9v0.9h-0.9zM84.2 24.1h0.9v0.9h-0.9zM85.8 24.3h0.9v0.9h-0.9zM86.8 24.9h0.9v0.9h-0.9zM87.9 24.4h0.9v0.9h-0.9zM88.8 25.0h0.9v0.9h-0.9zM89.8 24.9h0.9v0.9h-0.9zM91.9 24.6h0.9v0.9h-0.9zM93.1 24.7h0.9v0.9h-0.9zM96.4 24.2h0.9v0.9h-0.9zM97.6 24.5h0.9v0.9h-0.9zM99.0 25.0h0.9v0.9h-0.9zM99.6 24.8h0.9v0.9h-0.9zM100.6 24.4h0.9v0.9h-0.9zM101.3 25.0h0.9v0.9h-0.9zM104.0 24.7h0.9v0.9h-0.9zM105.8 24.9h0.9v0.9h-0.9zM57.2 25.8h0.9v0.9h-0.9zM60.5 25.6h0.9v0.9h-0.9zM61.4 25.1h0.9v0.9h-0.9zM62.9 25.5h0.9v0.9h-0.9zM63.8 25.9h0.9v0.9h-0.9zM64.8 25.8h0.9v0.9h-0.9zM66.5 25.2h0.9v0.9h-0.9zM67.6 25.6h0.9v0.9h-0.9zM69.0 25.9h0.9v0.9h-0.9zM69.9 25.2h0.9v0.9h-0.9zM70.6 26.0h0.9v0.9h-0.9zM71.1 25.6h0.9v0.9h-0.9zM72.3 25.6h0.9v0.9h-0.9zM73.8 25.2h0.9v0.9h-0.9zM74.8 25.5h0.9v0.9h-0.9zM75.4 25.8h0.9v0.9h-0.9zM76.1 26.0h0.9v0.9h-0.9zM77.4 25.5h0.9v0.9h-0.9zM78.5 25.7h0.9v0.9h-0.9zM79.2 25.1h0.9v0.9h-0.9zM80.1 25.5h0.9v0.9h-0.9zM81.5 25.9h0.9v0.9h-0.9zM82.2 25.4h0.9v0.9h-0.9zM83.4 25.3h0.9v0.9h-0.9zM84.3 25.8h0.9v0.9h-0.9zM85.6 25.4h0.9v0.9h-0.9zM86.5 25.7h0.9v0.9h-0.9zM87.6 26.0h0.9v0.9h-0.9zM88.4 25.8h0.9v0.9h-0.9zM89.1 26.0h0.9v0.9h-0.9zM91.0 26.0h0.9v0.9h-0.9zM91.8 26.0h0.9v0.9h-0.9zM92.3 25.6h0.9v0.9h-0.9zM94.0 25.5h0.9v0.9h-0.9zM94.1 25.4h0.9v0.9h-0.9zM95.9 25.4h0.9v0.9h-0.9zM97.0 25.9h0.9v0.9h-0.9zM97.5 25.9h0.9v0.9h-0.9zM99.8 25.5h0.9v0.9h-0.9zM101.6 25.3h0.9v0.9h-0.9zM103.1 25.5h0.9v0.9h-0.9zM107.6 25.3h0.9v0.9h-0.9zM110.7 25.8h0.9v0.9h-0.9zM57.1 26.9h0.9v0.9h-0.9zM59.2 26.9h0.9v0.9h-0.9zM60.1 26.7h0.9v0.9h-0.9zM61.6 26.5h0.9v0.9h-0.9zM62.6 26.3h0.9v0.9h-0.9zM64.1 26.2h0.9v0.9h-0.9zM65.7 26.1h0.9v0.9h-0.9zM66.2 26.6h0.9v0.9h-0.9zM68.2 26.9h0.9v0.9h-0.9zM70.0 26.7h0.9v0.9h-0.9zM71.0 26.7h0.9v0.9h-0.9zM71.7 26.5h0.9v0.9h-0.9zM72.3 26.7h0.9v0.9h-0.9zM73.7 26.3h0.9v0.9h-0.9zM74.9 26.2h0.9v0.9h-0.9zM75.6 27.0h0.9v0.9h-0.9zM76.3 26.6h0.9v0.9h-0.9zM77.5 26.6h0.9v0.9h-0.9zM78.1 26.2h0.9v0.9h-0.9zM79.6 26.6h0.9v0.9h-0.9zM80.7 27.0h0.9v0.9h-0.9zM81.9 26.9h0.9v0.9h-0.9zM82.2 26.6h0.9v0.9h-0.9zM83.7 26.8h0.9v0.9h-0.9zM84.2 26.5h0.9v0.9h-0.9zM85.8 26.9h0.9v0.9h-0.9zM86.4 26.6h0.9v0.9h-0.9zM87.9 27.0h0.9v0.9h-0.9zM88.5 26.5h0.9v0.9h-0.9zM89.6 26.3h0.9v0.9h-0.9zM90.5 26.3h0.9v0.9h-0.9zM91.2 26.5h0.9v0.9h-0.9zM92.7 26.1h0.9v0.9h-0.9zM94.0 26.3h0.9v0.9h-0.9zM94.5 26.6h0.9v0.9h-0.9zM95.4 26.1h0.9v0.9h-0.9zM96.3 26.9h0.9v0.9h-0.9zM98.0 26.7h0.9v0.9h-0.9zM99.0 26.5h0.9v0.9h-0.9zM99.9 26.8h0.9v0.9h-0.9zM101.7 26.2h0.9v0.9h-0.9zM102.7 26.8h0.9v0.9h-0.9zM110.9 26.8h0.9v0.9h-0.9zM55.6 27.6h0.9v0.9h-0.9zM56.7 27.6h0.9v0.9h-0.9zM57.1 28.0h0.9v0.9h-0.9zM59.0 27.1h0.9v0.9h-0.9zM59.6 27.6h0.9v0.9h-0.9zM61.0 27.6h0.9v0.9h-0.9zM61.4 28.0h0.9v0.9h-0.9zM62.7 27.2h0.9v0.9h-0.9zM63.2 27.9h0.9v0.9h-0.9zM65.0 27.1h0.9v0.9h-0.9zM65.2 27.1h0.9v0.9h-0.9zM66.5 27.7h0.9v0.9h-0.9zM67.4 27.3h0.9v0.9h-0.9zM68.5 27.8h0.9v0.9h-0.9zM69.3 27.6h0.9v0.9h-0.9zM71.0 27.3h0.9v0.9h-0.9zM71.9 27.1h0.9v0.9h-0.9zM73.0 27.6h0.9v0.9h-0.9zM73.2 27.6h0.9v0.9h-0.9zM74.7 27.3h0.9v0.9h-0.9zM75.1 27.2h0.9v0.9h-0.9zM76.9 28.0h0.9v0.9h-0.9zM77.6 27.2h0.9v0.9h-0.9zM78.3 27.6h0.9v0.9h-0.9zM79.3 27.7h0.9v0.9h-0.9zM80.1 27.2h0.9v0.9h-0.9zM81.1 27.6h0.9v0.9h-0.9zM82.9 27.7h0.9v0.9h-0.9zM83.7 28.0h0.9v0.9h-0.9zM85.0 27.5h0.9v0.9h-0.9zM85.9 27.9h0.9v0.9h-0.9zM86.4 27.4h0.9v0.9h-0.9zM87.2 27.5h0.9v0.9h-0.9zM88.7 27.4h0.9v0.9h-0.9zM89.4 27.1h0.9v0.9h-0.9zM90.7 27.2h0.9v0.9h-0.9zM91.2 27.7h0.9v0.9h-0.9zM92.1 27.9h0.9v0.9h-0.9zM93.2 27.6h0.9v0.9h-0.9zM94.3 27.7h0.9v0.9h-0.9zM95.1 27.4h0.9v0.9h-0.9zM96.5 28.0h0.9v0.9h-0.9zM97.6 27.6h0.9v0.9h-0.9zM99.5 27.4h0.9v0.9h-0.9zM100.2 27.8h0.9v0.9h-0.9zM101.7 27.4h0.9v0.9h-0.9zM102.4 27.3h0.9v0.9h-0.9zM104.1 27.9h0.9v0.9h-0.9zM106.4 27.9h0.9v0.9h-0.9zM107.7 27.9h0.9v0.9h-0.9zM112.6 27.9h0.9v0.9h-0.9zM57.1 28.7h0.9v0.9h-0.9zM59.0 28.8h0.9v0.9h-0.9zM61.0 28.8h0.9v0.9h-0.9zM62.0 28.4h0.9v0.9h-0.9zM62.6 28.7h0.9v0.9h-0.9zM63.6 28.4h0.9v0.9h-0.9zM64.1 28.6h0.9v0.9h-0.9zM65.1 28.4h0.9v0.9h-0.9zM67.0 28.6h0.9v0.9h-0.9zM67.5 28.1h0.9v0.9h-0.9zM68.5 28.9h0.9v0.9h-0.9zM69.7 28.7h0.9v0.9h-0.9zM70.7 28.6h0.9v0.9h-0.9zM71.1 28.1h0.9v0.9h-0.9zM72.6 28.2h0.9v0.9h-0.9zM73.8 29.0h0.9v0.9h-0.9zM75.0 28.4h0.9v0.9h-0.9zM76.5 28.4h0.9v0.9h-0.9zM77.7 28.1h0.9v0.9h-0.9zM78.1 28.6h0.9v0.9h-0.9zM79.1 28.1h0.9v0.9h-0.9zM81.0 28.8h0.9v0.9h-0.9zM81.4 28.4h0.9v0.9h-0.9zM82.2 28.3h0.9v0.9h-0.9zM83.1 29.0h0.9v0.9h-0.9zM84.2 28.2h0.9v0.9h-0.9zM85.9 28.8h0.9v0.9h-0.9zM86.5 28.3h0.9v0.9h-0.9zM87.5 28.1h0.9v0.9h-0.9zM88.8 28.8h0.9v0.9h-0.9zM89.6 28.9h0.9v0.9h-0.9zM90.8 28.6h0.9v0.9h-0.9zM91.9 28.6h0.9v0.9h-0.9zM92.2 28.2h0.9v0.9h-0.9zM93.3 29.0h0.9v0.9h-0.9zM94.8 28.7h0.9v0.9h-0.9zM95.2 28.5h0.9v0.9h-0.9zM96.3 28.4h0.9v0.9h-0.9zM97.4 28.9h0.9v0.9h-0.9zM100.0 28.2h0.9v0.9h-0.9zM102.4 28.9h0.9v0.9h-0.9zM105.0 28.4h0.9v0.9h-0.9zM105.7 28.6h0.9v0.9h-0.9zM107.6 29.0h0.9v0.9h-0.9zM108.2 28.4h0.9v0.9h-0.9zM55.6 29.1h0.9v0.9h-0.9zM57.8 29.5h0.9v0.9h-0.9zM59.5 29.8h0.9v0.9h-0.9zM60.8 29.6h0.9v0.9h-0.9zM64.2 29.1h0.9v0.9h-0.9zM65.3 29.2h0.9v0.9h-0.9zM66.2 29.1h0.9v0.9h-0.9zM67.3 29.6h0.9v0.9h-0.9zM68.5 29.8h0.9v0.9h-0.9zM69.3 29.6h0.9v0.9h-0.9zM70.3 29.3h0.9v0.9h-0.9zM71.6 29.6h0.9v0.9h-0.9zM72.1 29.4h0.9v0.9h-0.9zM74.0 30.0h0.9v0.9h-0.9zM74.6 29.8h0.9v0.9h-0.9zM75.1 29.3h0.9v0.9h-0.9zM76.4 29.3h0.9v0.9h-0.9zM78.0 29.2h0.9v0.9h-0.9zM78.3 29.1h0.9v0.9h-0.9zM79.8 29.5h0.9v0.9h-0.9zM80.6 29.5h0.9v0.9h-0.9zM81.6 29.2h0.9v0.9h-0.9zM82.6 29.7h0.9v0.9h-0.9zM84.0 29.1h0.9v0.9h-0.9zM84.1 29.2h0.9v0.9h-0.9zM85.1 29.6h0.9v0.9h-0.9zM86.5 29.8h0.9v0.9h-0.9zM87.9 29.5h0.9v0.9h-0.9zM88.6 29.3h0.9v0.9h-0.9zM89.5 30.0h0.9v0.9h-0.9zM90.5 29.9h0.9v0.9h-0.9zM91.5 29.7h0.9v0.9h-0.9zM92.5 30.0h0.9v0.9h-0.9zM93.7 29.2h0.9v0.9h-0.9zM94.8 29.2h0.9v0.9h-0.9zM95.9 29.7h0.9v0.9h-0.9zM96.5 29.7h0.9v0.9h-0.9zM97.6 29.7h0.9v0.9h-0.9zM99.8 29.5h0.9v0.9h-0.9zM100.5 30.0h0.9v0.9h-0.9zM101.6 29.2h0.9v0.9h-0.9zM103.3 29.6h0.9v0.9h-0.9zM104.9 30.0h0.9v0.9h-0.9zM105.7 29.9h0.9v0.9h-0.9zM106.9 29.7h0.9v0.9h-0.9zM107.5 29.7h0.9v0.9h-0.9zM57.9 30.8h0.9v0.9h-0.9zM59.0 30.9h0.9v0.9h-0.9zM59.9 30.1h0.9v0.9h-0.9zM60.3 30.9h0.9v0.9h-0.9zM61.4 31.0h0.9v0.9h-0.9zM62.4 30.9h0.9v0.9h-0.9zM63.8 30.1h0.9v0.9h-0.9zM64.4 30.2h0.9v0.9h-0.9zM66.0 30.1h0.9v0.9h-0.9zM66.7 30.6h0.9v0.9h-0.9zM67.9 30.8h0.9v0.9h-0.9zM68.6 30.5h0.9v0.9h-0.9zM69.5 30.8h0.9v0.9h-0.9zM70.2 31.0h0.9v0.9h-0.9zM71.4 30.1h0.9v0.9h-0.9zM73.4 30.4h0.9v0.9h-0.9zM74.2 30.6h0.9v0.9h-0.9zM75.8 30.1h0.9v0.9h-0.9zM76.2 30.2h0.9v0.9h-0.9zM77.1 30.4h0.9v0.9h-0.9zM78.4 30.1h0.9v0.9h-0.9zM79.2 30.9h0.9v0.9h-0.9zM81.0 30.8h0.9v0.9h-0.9zM81.9 30.6h0.9v0.9h-0.9zM82.2 30.8h0.9v0.9h-0.9zM83.5 31.0h0.9v0.9h-0.9zM84.7 30.1h0.9v0.9h-0.9zM85.5 30.8h0.9v0.9h-0.9zM86.2 30.3h0.9v0.9h-0.9zM87.7 30.4h0.9v0.9h-0.9zM88.6 30.7h0.9v0.9h-0.9zM89.7 30.3h0.9v0.9h-0.9zM90.7 30.4h0.9v0.9h-0.9zM91.1 30.8h0.9v0.9h-0.9zM92.4 30.1h0.9v0.9h-0.9zM94.5 30.3h0.9v0.9h-0.9zM95.9 30.7h0.9v0.9h-0.9zM96.3 30.5h0.9v0.9h-0.9zM98.2 30.6h0.9v0.9h-0.9zM102.9 30.8h0.9v0.9h-0.9zM106.0 30.2h0.9v0.9h-0.9zM107.7 30.7h0.9v0.9h-0.9zM58.8 31.3h0.9v0.9h-0.9zM60.7 31.9h0.9v0.9h-0.9zM61.2 31.9h0.9v0.9h-0.9zM62.2 31.6h0.9v0.9h-0.9zM63.5 31.6h0.9v0.9h-0.9zM64.3 31.4h0.9v0.9h-0.9zM65.3 32.0h0.9v0.9h-0.9zM66.9 31.7h0.9v0.9h-0.9zM67.5 31.3h0.9v0.9h-0.9zM69.4 31.8h0.9v0.9h-0.9zM70.8 31.4h0.9v0.9h-0.9zM71.5 31.1h0.9v0.9h-0.9zM72.7 31.1h0.9v0.9h-0.9zM74.0 31.2h0.9v0.9h-0.9zM74.6 31.9h0.9v0.9h-0.9zM75.1 32.0h0.9v0.9h-0.9zM76.1 31.8h0.9v0.9h-0.9zM77.9 31.2h0.9v0.9h-0.9zM79.0 32.0h0.9v0.9h-0.9zM79.7 31.6h0.9v0.9h-0.9zM80.8 31.4h0.9v0.9h-0.9zM81.6 31.7h0.9v0.9h-0.9zM83.0 31.7h0.9v0.9h-0.9zM84.0 32.0h0.9v0.9h-0.9zM84.8 31.2h0.9v0.9h-0.9zM85.2 31.7h0.9v0.9h-0.9zM88.0 32.0h0.9v0.9h-0.9zM88.6 31.8h0.9v0.9h-0.9zM89.1 31.5h0.9v0.9h-0.9zM90.3 31.4h0.9v0.9h-0.9zM93.3 31.5h0.9v0.9h-0.9zM94.5 31.4h0.9v0.9h-0.9zM95.7 32.0h0.9v0.9h-0.9zM97.0 31.4h0.9v0.9h-0.9zM99.4 31.6h0.9v0.9h-0.9zM101.0 31.8h0.9v0.9h-0.9zM102.3 32.0h0.9v0.9h-0.9zM103.4 31.6h0.9v0.9h-0.9zM109.0 31.9h0.9v0.9h-0.9zM109.1 31.6h0.9v0.9h-0.9zM57.7 32.2h0.9v0.9h-0.9zM58.8 32.2h0.9v0.9h-0.9zM59.3 32.3h0.9v0.9h-0.9zM61.9 32.9h0.9v0.9h-0.9zM62.7 32.6h0.9v0.9h-0.9zM64.0 32.2h0.9v0.9h-0.9zM65.3 32.1h0.9v0.9h-0.9zM66.1 32.9h0.9v0.9h-0.9zM67.4 32.4h0.9v0.9h-0.9zM68.1 32.8h0.9v0.9h-0.9zM69.5 32.1h0.9v0.9h-0.9zM70.1 32.2h0.9v0.9h-0.9zM72.0 32.7h0.9v0.9h-0.9zM73.0 32.4h0.9v0.9h-0.9zM73.5 32.9h0.9v0.9h-0.9zM74.5 33.0h0.9v0.9h-0.9zM75.8 32.6h0.9v0.9h-0.9zM76.2 33.0h0.9v0.9h-0.9zM77.1 32.4h0.9v0.9h-0.9zM78.9 32.2h0.9v0.9h-0.9zM79.5 32.8h0.9v0.9h-0.9zM80.5 32.7h0.9v0.9h-0.9zM81.8 32.7h0.9v0.9h-0.9zM82.3 32.6h0.9v0.9h-0.9zM83.8 32.2h0.9v0.9h-0.9zM85.0 32.7h0.9v0.9h-0.9zM85.5 32.2h0.9v0.9h-0.9zM86.7 32.6h0.9v0.9h-0.9zM87.8 32.1h0.9v0.9h-0.9zM89.0 32.2h0.9v0.9h-0.9zM89.8 32.6h0.9v0.9h-0.9zM90.7 32.9h0.9v0.9h-0.9zM91.7 32.5h0.9v0.9h-0.9zM92.1 32.4h0.9v0.9h-0.9zM93.5 33.0h0.9v0.9h-0.9zM94.5 32.8h0.9v0.9h-0.9zM95.9 32.4h0.9v0.9h-0.9zM96.5 32.4h0.9v0.9h-0.9zM97.3 32.8h0.9v0.9h-0.9zM98.2 32.5h0.9v0.9h-0.9zM102.1 32.9h0.9v0.9h-0.9zM105.9 32.8h0.9v0.9h-0.9zM107.5 32.3h0.9v0.9h-0.9zM108.8 32.5h0.9v0.9h-0.9zM110.9 32.3h0.9v0.9h-0.9zM116.4 32.7h0.9v0.9h-0.9zM58.0 33.5h0.9v0.9h-0.9zM59.0 33.5h0.9v0.9h-0.9zM59.8 33.2h0.9v0.9h-0.9zM60.7 33.1h0.9v0.9h-0.9zM61.7 33.8h0.9v0.9h-0.9zM62.8 33.3h0.9v0.9h-0.9zM63.5 33.2h0.9v0.9h-0.9zM64.7 33.9h0.9v0.9h-0.9zM65.8 33.9h0.9v0.9h-0.9zM68.3 33.3h0.9v0.9h-0.9zM69.2 33.4h0.9v0.9h-0.9zM70.9 33.5h0.9v0.9h-0.9zM71.3 33.8h0.9v0.9h-0.9zM73.0 33.4h0.9v0.9h-0.9zM73.4 33.7h0.9v0.9h-0.9zM75.2 33.2h0.9v0.9h-0.9zM77.0 33.4h0.9v0.9h-0.9zM77.8 33.4h0.9v0.9h-0.9zM78.5 33.3h0.9v0.9h-0.9zM79.2 33.6h0.9v0.9h-0.9zM80.6 33.9h0.9v0.9h-0.9zM81.6 33.6h0.9v0.9h-0.9zM82.1 33.4h0.9v0.9h-0.9zM84.0 34.0h0.9v0.9h-0.9zM84.8 33.5h0.9v0.9h-0.9zM85.1 33.4h0.9v0.9h-0.9zM87.0 33.1h0.9v0.9h-0.9zM87.6 33.3h0.9v0.9h-0.9zM88.1 33.7h0.9v0.9h-0.9zM90.3 33.9h0.9v0.9h-0.9zM91.5 33.8h0.9v0.9h-0.9zM92.5 33.8h0.9v0.9h-0.9zM93.4 33.2h0.9v0.9h-0.9zM94.2 33.8h0.9v0.9h-0.9zM95.1 33.8h0.9v0.9h-0.9zM97.2 33.4h0.9v0.9h-0.9zM98.4 33.2h0.9v0.9h-0.9zM100.7 33.2h0.9v0.9h-0.9zM102.3 33.7h0.9v0.9h-0.9zM103.9 33.9h0.9v0.9h-0.9zM106.5 33.8h0.9v0.9h-0.9zM109.5 33.4h0.9v0.9h-0.9zM112.4 33.8h0.9v0.9h-0.9zM113.9 33.9h0.9v0.9h-0.9zM56.9 34.6h0.9v0.9h-0.9zM57.1 34.3h0.9v0.9h-0.9zM59.2 34.8h0.9v0.9h-0.9zM60.3 34.7h0.9v0.9h-0.9zM62.6 34.4h0.9v0.9h-0.9zM63.3 34.9h0.9v0.9h-0.9zM64.1 35.0h0.9v0.9h-0.9zM65.6 34.3h0.9v0.9h-0.9zM66.6 35.0h0.9v0.9h-0.9zM67.9 34.8h0.9v0.9h-0.9zM68.2 34.4h0.9v0.9h-0.9zM69.6 35.0h0.9v0.9h-0.9zM93.6 34.4h0.9v0.9h-0.9zM94.6 34.6h0.9v0.9h-0.9zM95.2 34.7h0.9v0.9h-0.9zM96.9 34.4h0.9v0.9h-0.9zM97.5 34.6h0.9v0.9h-0.9zM99.1 34.4h0.9v0.9h-0.9zM101.6 34.9h0.9v0.9h-0.9zM106.8 34.5h0.9v0.9h-0.9zM108.2 34.7h0.9v0.9h-0.9zM116.6 34.1h0.9v0.9h-0.9zM58.0 35.8h0.9v0.9h-0.9zM59.5 35.5h0.9v0.9h-0.9zM61.3 35.9h0.9v0.9h-0.9zM62.2 35.1h0.9v0.9h-0.9zM64.4 35.2h0.9v0.9h-0.9zM66.4 35.2h0.9v0.9h-0.9zM94.5 35.4h0.9v0.9h-0.9zM95.9 35.7h0.9v0.9h-0.9zM96.7 35.7h0.9v0.9h-0.9zM97.7 35.2h0.9v0.9h-0.9zM101.1 35.3h0.9v0.9h-0.9zM103.4 35.3h0.9v0.9h-0.9zM106.0 35.7h0.9v0.9h-0.9zM108.0 35.6h0.9v0.9h-0.9zM59.7 36.4h0.9v0.9h-0.9zM60.6 36.1h0.9v0.9h-0.9zM64.1 36.5h0.9v0.9h-0.9zM99.0 37.0h0.9v0.9h-0.9zM100.4 36.9h0.9v0.9h-0.9zM102.1 36.5h0.9v0.9h-0.9zM106.2 36.1h0.9v0.9h-0.9zM59.2 37.7h0.9v0.9h-0.9zM60.8 37.2h0.9v0.9h-0.9zM61.4 37.1h0.9v0.9h-0.9zM62.3 37.4h0.9v0.9h-0.9zM96.7 37.7h0.9v0.9h-0.9zM97.1 37.1h0.9v0.9h-0.9zM99.6 37.3h0.9v0.9h-0.9zM100.1 38.0h0.9v0.9h-0.9zM104.2 37.7h0.9v0.9h-0.9zM106.9 37.9h0.9v0.9h-0.9zM59.2 38.3h0.9v0.9h-0.9zM100.1 38.8h0.9v0.9h-0.9zM59.2 39.1h0.9v0.9h-0.9zM98.2 39.3h0.9v0.9h-0.9zM99.8 39.5h0.9v0.9h-0.9zM100.9 39.2h0.9v0.9h-0.9zM101.8 40.0h0.9v0.9h-0.9zM102.2 39.9h0.9v0.9h-0.9zM104.4 39.5h0.9v0.9h-0.9zM111.2 40.0h0.9v0.9h-0.9zM59.5 40.4h0.9v0.9h-0.9zM115.3 40.1h0.9v0.9h-0.9zM117.4 41.0h0.9v0.9h-0.9zM59.3 41.8h0.9v0.9h-0.9zM98.7 41.3h0.9v0.9h-0.9zM105.3 41.6h0.9v0.9h-0.9zM107.6 41.7h0.9v0.9h-0.9zM59.0 42.1h0.9v0.9h-0.9zM100.2 44.9h0.9v0.9h-0.9zM100.2 45.1h0.9v0.9h-0.9zM104.1 50.4h0.9v0.9h-0.9z"/>
<g filter="url(#bl)">
<path d="M66.5 91.5 65.5 91.6 64.5 91.7 63.5 91.7 62.5 91.7 61.5 91.7 60.5 91.7 59.5 91.7 58.5 91.7 57.5 91.6 56.5 91.5 56.0 91.3 55.5 90.9 55.1 90.0 55.0 89.5 54.8 88.5 54.7 87.5 54.6 86.5 54.6 85.5 54.5 84.5 54.5 83.8 54.5 83.0 54.4 82.0 54.4 81.0 54.4 80.0 54.4 79.0 54.3 78.0 54.3 77.0 54.3 76.0 54.4 75.0 54.4 74.0 54.4 73.0 54.4 72.0 54.4 71.0 54.5 70.0 54.5 69.4 54.5 68.5 54.5 67.5 54.6 66.5 54.6 65.5 54.7 64.5 54.7 63.5 54.8 62.5 54.8 61.5 54.9 60.5 55.0 59.5 55.0 59.0 55.1 58.0 55.2 57.0 55.3 56.0 55.4 55.0 55.5 54.2 55.6 53.5 55.8 52.5 55.9 51.5 56.0 51.0 56.3 50.0 56.5 49.2 56.7 48.5 57.0 47.8 57.3 47.0 57.6 46.5 58.0 45.6 58.3 45.0 58.6 44.5 59.0 43.8 59.5 43.0 59.8 42.5 60.1 42.0 60.5 41.5 61.0 40.8 61.5 40.2 62.0 39.6 62.5 39.1 63.0 38.6 63.5 38.2 64.0 37.8 64.5 37.5 65.2 37.0 66.0 36.5 66.5 36.3 67.1 36.0 68.0 35.7 68.5 35.5 69.5 35.2 70.4 35.0 71.0 34.9 72.0 34.7 73.0 34.6 74.0 34.5 74.8 34.5 75.5 34.5 76.5 34.4 77.5 34.4 78.5 34.4 79.5 34.4 80.5 34.4 81.5 34.4 82.5 34.4 83.5 34.4 84.5 34.4 85.5 34.4 86.5 34.4 87.5 34.5 88.0 34.5 89.0 34.6 90.0 34.7 91.0 34.9 91.5 35.0 92.5 35.3 93.2 35.5 94.0 35.8 94.5 36.1 95.2 36.5 95.9 37.0 96.5 37.5 96.9 38.0 97.3 38.5 97.6 39.0 98.0 39.7 98.4 40.5 98.6 41.0 98.9 42.0 99.0 42.5 99.2 43.5 99.3 44.5 99.4 45.5 99.5 46.5 99.5 47.0 99.5 48.0 99.5 49.0 99.5 49.5 99.4 50.5 99.3 51.5 99.2 52.5 99.1 53.5 99.0 54.5 98.9 55.0 98.8 56.0 98.7 57.0 98.5 58.0 98.4 58.5 98.3 59.5 98.1 60.5 98.0 61.2 97.9 62.0 97.7 63.0 97.5 63.8 97.4 64.5 97.1 65.5 97.0 66.0 96.7 67.0 96.5 67.6 96.2 68.5 96.0 69.0 95.6 70.0 95.4 70.5 95.0 71.4 94.7 72.0 94.5 72.5 94.0 73.5 93.7 74.0 93.5 74.5 93.0 75.3 92.6 76.0 92.3 76.5 92.0 77.0 91.5 77.8 91.0 78.5 90.7 79.0 90.3 79.5 90.0 80.0 89.5 80.6 89.0 81.2 88.5 81.8 88.0 82.3 87.5 82.7 87.0 83.1 86.4 83.5 85.5 84.0 85.0 84.2 84.3 84.5 83.5 84.8 83.0 85.0 82.0 85.4 81.5 85.5 80.5 85.9 80.0 86.1 79.0 86.4 78.5 86.6 77.5 86.9 77.0 87.1 76.0 87.4 75.5 87.6 74.6 88.0 74.0 88.3 73.5 88.5 72.6 89.0 72.0 89.3 71.5 89.6 70.8 90.0 70.0 90.4 69.5 90.6 68.5 91.0 68.0 91.1 67.0 91.4 66.5 91.5Z" fill="#2f4af2"/>
<path d="M63.0 91.5 62.0 91.5 61.0 91.5 60.0 91.5 59.0 91.5 58.0 91.5 57.3 91.5 56.5 91.4 55.7 91.0 55.4 90.5 55.0 89.5 54.9 89.0 54.8 88.0 54.7 87.0 54.6 86.0 54.6 85.0 54.5 84.0 54.5 83.0 54.5 82.5 54.4 81.5 54.4 80.5 54.4 79.5 54.4 78.5 54.4 77.5 54.4 76.5 54.4 75.5 54.4 74.5 54.5 73.5 54.5 72.5 54.5 72.0 54.5 71.0 54.6 70.0 54.6 69.0 54.6 68.0 54.7 67.0 54.7 66.0 54.8 65.0 54.8 64.0 54.9 63.0 55.0 62.4 55.1 61.5 55.2 60.5 55.4 59.5 55.5 58.7 55.7 58.0 56.0 57.0 56.2 56.5 56.5 55.9 57.0 55.2 57.5 54.6 58.0 54.1 58.5 53.6 59.0 53.2 59.5 52.8 60.0 52.4 60.6 52.0 61.3 51.5 62.0 51.1 62.5 50.8 63.0 50.5 64.0 50.0 64.5 49.8 65.2 49.5 66.0 49.2 66.7 49.0 67.5 48.8 68.5 48.5 69.0 48.5 70.0 48.3 71.0 48.2 72.0 48.1 73.0 48.1 74.0 48.1 75.0 48.1 76.0 48.1 77.0 48.1 78.0 48.2 79.0 48.4 79.5 48.5 80.5 48.8 81.2 49.0 82.0 49.3 82.5 49.6 83.2 50.0 83.9 50.5 84.5 51.0 85.0 51.5 85.4 52.0 85.7 52.5 86.0 53.0 86.5 54.0 86.7 54.5 87.0 55.5 87.1 56.0 87.3 57.0 87.4 58.0 87.5 59.0 87.4 60.0 87.4 61.0 87.3 62.0 87.2 63.0 87.0 63.9 86.9 64.5 86.7 65.5 86.5 66.1 86.3 67.0 86.0 68.0 85.8 68.5 85.5 69.5 85.4 70.0 85.0 71.0 84.9 71.5 84.5 72.5 84.4 73.0 84.0 74.0 83.8 74.5 83.5 75.3 83.2 76.0 83.0 76.6 82.6 77.5 82.4 78.0 82.0 78.7 81.6 79.5 81.4 80.0 81.0 80.6 80.5 81.5 80.2 82.0 79.9 82.5 79.5 83.0 79.0 83.7 78.5 84.3 78.0 84.8 77.5 85.3 77.0 85.7 76.5 86.0 75.8 86.5 75.0 87.0 74.5 87.2 74.0 87.5 73.1 88.0 72.5 88.4 72.0 88.6 71.4 89.0 70.5 89.5 70.0 89.8 69.5 90.1 68.6 90.5 68.0 90.7 67.2 91.0 66.5 91.2 65.5 91.4 64.5 91.4 63.5 91.5 63.0 91.5Z" fill="#2f9cf8"/>
<path d="M66.0 89.5 65.0 89.7 64.0 89.8 63.0 89.9 62.0 89.9 61.0 89.9 60.0 89.9 59.0 89.9 58.0 89.9 57.0 89.7 56.5 89.5 56.0 89.0 55.6 88.0 55.5 87.5 55.3 86.5 55.2 85.5 55.1 84.5 55.0 83.5 55.0 83.0 54.9 82.0 54.9 81.0 54.9 80.0 54.9 79.0 54.9 78.0 54.9 77.0 54.9 76.0 54.9 75.0 54.9 74.0 54.9 73.0 55.0 72.0 55.0 71.5 55.0 70.5 55.1 69.5 55.1 68.5 55.2 67.5 55.3 66.5 55.4 65.5 55.5 64.5 55.5 64.0 55.7 63.0 55.9 62.0 56.0 61.5 56.4 60.5 56.6 60.0 57.0 59.3 57.5 58.6 58.0 58.0 58.4 57.5 58.9 57.0 59.5 56.5 60.0 56.0 60.5 55.6 61.0 55.2 61.5 54.8 62.0 54.5 62.8 54.0 63.5 53.6 64.0 53.4 64.8 53.0 65.5 52.7 66.1 52.5 67.0 52.2 67.9 52.0 68.5 51.9 69.5 51.7 70.5 51.6 71.5 51.5 72.5 51.5 73.5 51.5 74.5 51.5 75.5 51.6 76.5 51.7 77.5 51.9 78.1 52.0 79.0 52.3 79.5 52.5 80.5 53.0 81.0 53.3 81.5 53.7 82.0 54.2 82.5 54.8 83.0 55.5 83.3 56.0 83.5 56.5 83.9 57.5 84.0 58.0 84.2 59.0 84.3 60.0 84.3 61.0 84.3 62.0 84.2 63.0 84.1 64.0 84.0 64.7 83.8 65.5 83.6 66.5 83.5 67.0 83.2 68.0 83.0 68.8 82.8 69.5 82.5 70.4 82.3 71.0 82.0 71.9 81.8 72.5 81.5 73.3 81.2 74.0 81.0 74.6 80.7 75.5 80.4 76.0 80.0 77.0 79.7 77.5 79.5 78.0 79.0 78.9 78.7 79.5 78.4 80.0 78.0 80.6 77.5 81.4 77.0 82.0 76.7 82.5 76.3 83.0 75.8 83.5 75.4 84.0 74.9 84.5 74.3 85.0 73.7 85.5 73.0 86.0 72.5 86.4 72.0 86.7 71.5 87.0 70.5 87.5 70.0 87.8 69.5 88.0 68.5 88.5 68.0 88.7 67.3 89.0 66.5 89.3 66.0 89.5Z" fill="#3ee0f0"/>
<path d="M64.0 86.0 63.0 86.1 62.0 86.1 61.0 86.1 60.0 86.1 59.4 86.0 58.5 85.9 57.5 85.5 57.0 85.2 56.5 84.7 56.2 84.0 56.0 83.3 55.9 82.5 55.8 81.5 55.7 80.5 55.6 79.5 55.6 78.5 55.6 77.5 55.6 76.5 55.6 75.5 55.6 74.5 55.7 73.5 55.8 72.5 55.8 71.5 55.9 70.5 56.0 69.7 56.1 69.0 56.3 68.0 56.5 67.0 56.6 66.5 57.0 65.5 57.2 65.0 57.5 64.4 58.0 63.5 58.3 63.0 58.7 62.5 59.0 62.0 59.5 61.4 60.0 60.8 60.5 60.3 61.0 59.8 61.5 59.4 62.0 59.0 62.6 58.5 63.4 58.0 64.0 57.6 64.5 57.4 65.3 57.0 66.0 56.7 66.7 56.5 67.5 56.3 68.5 56.1 69.2 56.0 70.0 55.9 71.0 55.9 72.0 55.9 73.0 55.9 74.0 56.0 74.5 56.1 75.5 56.3 76.3 56.5 77.0 56.8 77.5 57.1 78.1 57.5 78.6 58.0 79.0 58.5 79.5 59.3 79.8 60.0 80.0 60.5 80.2 61.5 80.4 62.5 80.4 63.5 80.3 64.5 80.2 65.5 80.0 66.5 79.9 67.0 79.7 68.0 79.5 68.7 79.3 69.5 79.0 70.4 78.8 71.0 78.5 71.9 78.3 72.5 78.0 73.3 77.7 74.0 77.5 74.5 77.1 75.5 76.8 76.0 76.5 76.7 76.0 77.5 75.7 78.0 75.4 78.5 75.0 79.1 74.5 79.8 74.0 80.5 73.5 81.0 73.1 81.5 72.6 82.0 72.0 82.5 71.5 82.9 71.0 83.3 70.5 83.7 70.0 84.0 69.1 84.5 68.5 84.8 68.0 85.0 67.0 85.4 66.5 85.5 65.5 85.8 64.5 86.0 64.0 86.0Z" fill="#66f266"/>
<path d="M66.5 81.1 65.5 81.3 64.5 81.4 63.5 81.4 62.5 81.4 61.5 81.3 60.5 81.1 60.0 81.0 59.1 80.5 58.5 80.0 58.2 79.5 57.9 79.0 57.5 78.0 57.5 77.5 57.4 76.5 57.4 75.5 57.5 74.5 57.6 74.0 57.8 73.0 58.0 72.2 58.2 71.5 58.5 70.6 58.7 70.0 59.0 69.2 59.3 68.5 59.5 68.0 60.0 67.0 60.3 66.5 60.6 66.0 61.0 65.3 61.5 64.7 62.0 64.1 62.5 63.5 63.0 63.1 63.5 62.7 64.0 62.3 64.5 62.0 65.4 61.5 66.0 61.2 66.7 61.0 67.5 60.8 68.5 60.6 69.5 60.6 70.5 60.6 71.5 60.6 72.5 60.8 73.3 61.0 74.0 61.3 74.5 61.7 75.0 62.1 75.5 62.8 75.8 63.5 76.0 64.2 76.1 65.0 76.1 66.0 76.1 67.0 76.0 67.5 75.8 68.5 75.5 69.5 75.4 70.0 75.0 71.0 74.9 71.5 74.5 72.5 74.3 73.0 74.0 73.8 73.7 74.5 73.4 75.0 73.0 75.7 72.5 76.5 72.2 77.0 71.8 77.5 71.3 78.0 70.8 78.5 70.3 79.0 69.7 79.5 69.0 80.0 68.5 80.3 68.0 80.5 67.0 80.9 66.5 81.1Z" fill="#f2f23a"/>
<path d="M67.0 76.0 66.0 76.3 65.0 76.3 64.0 76.3 63.1 76.0 62.5 75.6 62.1 75.0 62.0 74.5 61.9 73.5 62.0 72.6 62.1 72.0 62.4 71.0 62.6 70.5 63.0 69.5 63.3 69.0 63.5 68.5 64.0 67.8 64.5 67.3 65.0 66.8 65.5 66.4 66.4 66.0 67.0 65.8 68.0 65.7 69.0 65.7 70.0 65.9 70.5 66.1 71.0 66.5 71.4 67.5 71.5 68.0 71.5 68.7 71.4 69.5 71.1 70.5 71.0 71.0 70.6 72.0 70.4 72.5 70.0 73.3 69.5 74.0 69.1 74.5 68.6 75.0 68.0 75.5 67.5 75.8 67.0 76.0Z" fill="#ff9422"/>
<path d="M67.0 73.5 66.5 73.7 66.0 73.8 65.5 73.8 65.0 73.7 64.7 73.5 64.5 73.4 64.3 73.0 64.2 72.5 64.2 72.0 64.3 71.5 64.5 71.0 64.5 70.9 64.7 70.5 64.9 70.0 65.0 69.8 65.2 69.5 65.5 69.1 65.6 69.0 66.0 68.7 66.3 68.5 66.5 68.4 67.0 68.3 67.5 68.2 68.0 68.3 68.5 68.4 68.7 68.5 69.0 68.8 69.1 69.0 69.2 69.5 69.2 70.0 69.1 70.5 69.0 70.7 68.9 71.0 68.7 71.5 68.5 72.0 68.5 72.0 68.2 72.5 68.0 72.8 67.8 73.0 67.5 73.2 67.1 73.5 67.0 73.5Z" fill="#f03a1e"/>
</g></g>
<rect x="33" y="14" width="90" height="85" fill="none" stroke="#9c9c9c" stroke-width="1.0"/>
<line x1="62" y1="14.3" x2="110" y2="14.3" stroke="#d8a0d8" stroke-width="0.9" opacity="0.8"/>
<line x1="30.4" y1="98.1" x2="33" y2="98.1" stroke="#666" stroke-width="0.8"/>
<text x="29.2" y="99.83" text-anchor="end" font-size="4.8" font-weight="bold" fill="#222" font-family="Liberation Sans, sans-serif">0</text>
<line x1="30.4" y1="82.26" x2="33" y2="82.26" stroke="#666" stroke-width="0.8"/>
<text x="29.2" y="83.99" text-anchor="end" font-size="4.8" font-weight="bold" fill="#222" font-family="Liberation Sans, sans-serif">50K</text>
<line x1="30.4" y1="66.42" x2="33" y2="66.42" stroke="#666" stroke-width="0.8"/>
<text x="29.2" y="68.15" text-anchor="end" font-size="4.8" font-weight="bold" fill="#222" font-family="Liberation Sans, sans-serif">100K</text>
<line x1="30.4" y1="50.58" x2="33" y2="50.58" stroke="#666" stroke-width="0.8"/>
<text x="29.2" y="52.31" text-anchor="end" font-size="4.8" font-weight="bold" fill="#222" font-family="Liberation Sans, sans-serif">150K</text>
<line x1="30.4" y1="34.74" x2="33" y2="34.74" stroke="#666" stroke-width="0.8"/>
<text x="29.2" y="36.47" text-anchor="end" font-size="4.8" font-weight="bold" fill="#222" font-family="Liberation Sans, sans-serif">200K</text>
<line x1="30.4" y1="18.9" x2="33" y2="18.9" stroke="#666" stroke-width="0.8"/>
<text x="29.2" y="20.63" text-anchor="end" font-size="4.8" font-weight="bold" fill="#222" font-family="Liberation Sans, sans-serif">250K</text>
<line x1="32.8" y1="99" x2="32.8" y2="101.4" stroke="#666" stroke-width="0.8"/>
<text x="32.8" y="106.8" text-anchor="middle" font-size="4.8" font-weight="bold" fill="#222" font-family="Liberation Sans, sans-serif">0</text>
<line x1="49.92" y1="99" x2="49.92" y2="101.4" stroke="#666" stroke-width="0.8"/>
<text x="49.92" y="106.8" text-anchor="middle" font-size="4.8" font-weight="bold" fill="#222" font-family="Liberation Sans, sans-serif">50K</text>
<line x1="67.04" y1="99" x2="67.04" y2="101.4" stroke="#666" stroke-width="0.8"/>
<text x="67.04" y="106.8" text-anchor="middle" font-size="4.8" font-weight="bold" fill="#222" font-family="Liberation Sans, sans-serif">100K</text>
<line x1="84.16" y1="99" x2="84.16" y2="101.4" stroke="#666" stroke-width="0.8"/>
<text x="84.16" y="106.8" text-anchor="middle" font-size="4.8" font-weight="bold" fill="#222" font-family="Liberation Sans, sans-serif">150K</text>
<line x1="101.28" y1="99" x2="101.28" y2="101.4" stroke="#666" stroke-width="0.8"/>
<text x="101.28" y="106.8" text-anchor="middle" font-size="4.8" font-weight="bold" fill="#222" font-family="Liberation Sans, sans-serif">200K</text>
<line x1="118.4" y1="99" x2="118.4" y2="101.4" stroke="#666" stroke-width="0.8"/>
<text x="118.4" y="106.8" text-anchor="middle" font-size="4.8" font-weight="bold" fill="#222" font-family="Liberation Sans, sans-serif">250K</text>
<polygon points="56.5,36.8 82.7,31.6 106.3,56 88.8,83.4 56.2,90" fill="none" stroke="#d868d8" stroke-width="1.2"/>
<text x="115.2" y="51.8" text-anchor="middle" font-size="5.0" font-weight="bold" fill="#1a1a1a" font-family="Liberation Sans, sans-serif">91.8</text>
<text transform="translate(11.8 59) rotate(-90)" text-anchor="middle" font-size="12.8" font-weight="bold" font-family="Liberation Sans, sans-serif">SSC</text>
<text x="80" y="123.2" text-anchor="middle" font-size="12.8" font-weight="bold" font-family="Liberation Sans, sans-serif">FSC</text>
<line x1="93.8" y1="75.8" x2="131" y2="75.8" stroke="#000" stroke-width="1.5"/>
<polygon points="137,75.8 130.5,72.5 130.5,79.1" fill="#000"/>
<clipPath id="c47"><rect x="166.5" y="12" width="91" height="85"/></clipPath>
<g clip-path="url(#c47)">
<path fill="#3a52f5" d="M186.1 17.4h0.9v0.9h-0.9zM202.9 20.1h0.9v0.9h-0.9zM194.2 21.3h0.9v0.9h-0.9zM206.4 21.3h0.9v0.9h-0.9zM192.5 22.5h0.9v0.9h-0.9zM198.8 22.5h0.9v0.9h-0.9zM201.0 27.3h0.9v0.9h-0.9zM171.3 28.6h0.9v0.9h-0.9zM192.7 28.3h0.9v0.9h-0.9zM196.3 29.0h0.9v0.9h-0.9zM200.8 28.6h0.9v0.9h-0.9zM203.2 28.7h0.9v0.9h-0.9zM203.9 28.1h0.9v0.9h-0.9zM211.4 28.7h0.9v0.9h-0.9zM186.8 29.3h0.9v0.9h-0.9zM225.9 29.2h0.9v0.9h-0.9zM206.0 30.8h0.9v0.9h-0.9zM207.6 30.2h0.9v0.9h-0.9zM213.1 30.8h0.9v0.9h-0.9zM224.4 30.7h0.9v0.9h-0.9zM176.9 31.4h0.9v0.9h-0.9zM178.0 31.3h0.9v0.9h-0.9zM193.9 31.6h0.9v0.9h-0.9zM195.8 31.1h0.9v0.9h-0.9zM201.1 31.1h0.9v0.9h-0.9zM207.1 31.1h0.9v0.9h-0.9zM208.1 31.6h0.9v0.9h-0.9zM208.9 32.0h0.9v0.9h-0.9zM214.2 31.9h0.9v0.9h-0.9zM223.4 31.9h0.9v0.9h-0.9zM224.1 31.9h0.9v0.9h-0.9zM226.6 31.4h0.9v0.9h-0.9zM232.6 31.1h0.9v0.9h-0.9zM169.9 32.6h0.9v0.9h-0.9zM171.8 33.0h0.9v0.9h-0.9zM175.0 32.5h0.9v0.9h-0.9zM176.0 33.0h0.9v0.9h-0.9zM177.0 32.9h0.9v0.9h-0.9zM189.1 32.2h0.9v0.9h-0.9zM194.8 32.2h0.9v0.9h-0.9zM199.3 32.1h0.9v0.9h-0.9zM200.2 32.6h0.9v0.9h-0.9zM201.4 32.1h0.9v0.9h-0.9zM205.3 32.9h0.9v0.9h-0.9zM207.1 32.6h0.9v0.9h-0.9zM211.1 32.3h0.9v0.9h-0.9zM213.5 33.0h0.9v0.9h-0.9zM214.6 32.5h0.9v0.9h-0.9zM218.5 33.0h0.9v0.9h-0.9zM219.7 32.4h0.9v0.9h-0.9zM220.7 32.6h0.9v0.9h-0.9zM222.3 33.0h0.9v0.9h-0.9zM224.5 32.5h0.9v0.9h-0.9zM224.8 32.9h0.9v0.9h-0.9zM231.0 32.1h0.9v0.9h-0.9zM232.5 32.5h0.9v0.9h-0.9zM237.0 32.7h0.9v0.9h-0.9zM170.0 33.7h0.9v0.9h-0.9zM171.5 33.4h0.9v0.9h-0.9zM194.5 33.3h0.9v0.9h-0.9zM195.3 33.2h0.9v0.9h-0.9zM195.8 33.1h0.9v0.9h-0.9zM197.0 33.7h0.9v0.9h-0.9zM198.6 33.3h0.9v0.9h-0.9zM199.9 33.2h0.9v0.9h-0.9zM201.6 33.2h0.9v0.9h-0.9zM203.2 33.5h0.9v0.9h-0.9zM203.8 33.2h0.9v0.9h-0.9zM204.6 34.0h0.9v0.9h-0.9zM206.5 33.8h0.9v0.9h-0.9zM207.1 33.8h0.9v0.9h-0.9zM208.3 33.3h0.9v0.9h-0.9zM208.6 33.3h0.9v0.9h-0.9zM210.2 33.3h0.9v0.9h-0.9zM212.5 34.0h0.9v0.9h-0.9zM213.7 33.9h0.9v0.9h-0.9zM216.2 33.8h0.9v0.9h-0.9zM217.4 33.6h0.9v0.9h-0.9zM217.7 33.9h0.9v0.9h-0.9zM219.4 33.4h0.9v0.9h-0.9zM219.9 33.5h0.9v0.9h-0.9zM221.3 33.3h0.9v0.9h-0.9zM222.5 33.6h0.9v0.9h-0.9zM222.7 33.7h0.9v0.9h-0.9zM225.3 33.6h0.9v0.9h-0.9zM225.7 33.2h0.9v0.9h-0.9zM227.0 34.0h0.9v0.9h-0.9zM228.3 34.0h0.9v0.9h-0.9zM234.9 33.7h0.9v0.9h-0.9zM169.7 35.0h0.9v0.9h-0.9zM171.5 34.3h0.9v0.9h-0.9zM222.3 35.0h0.9v0.9h-0.9zM224.3 34.8h0.9v0.9h-0.9zM225.0 34.9h0.9v0.9h-0.9zM226.0 34.8h0.9v0.9h-0.9zM227.6 34.5h0.9v0.9h-0.9zM231.8 34.4h0.9v0.9h-0.9zM233.0 35.0h0.9v0.9h-0.9zM236.2 34.2h0.9v0.9h-0.9zM238.4 35.0h0.9v0.9h-0.9zM169.7 35.6h0.9v0.9h-0.9zM225.6 35.8h0.9v0.9h-0.9zM227.2 35.8h0.9v0.9h-0.9zM228.5 35.3h0.9v0.9h-0.9zM229.3 35.1h0.9v0.9h-0.9zM230.2 36.0h0.9v0.9h-0.9zM231.3 35.9h0.9v0.9h-0.9zM232.9 35.3h0.9v0.9h-0.9zM234.1 35.6h0.9v0.9h-0.9zM235.4 35.3h0.9v0.9h-0.9zM235.9 35.2h0.9v0.9h-0.9zM237.4 36.0h0.9v0.9h-0.9zM238.6 35.2h0.9v0.9h-0.9zM241.4 35.3h0.9v0.9h-0.9zM230.3 36.3h0.9v0.9h-0.9zM232.4 36.1h0.9v0.9h-0.9zM234.0 36.3h0.9v0.9h-0.9zM234.7 36.7h0.9v0.9h-0.9zM169.3 37.4h0.9v0.9h-0.9zM231.5 37.6h0.9v0.9h-0.9zM231.9 37.7h0.9v0.9h-0.9zM233.1 37.2h0.9v0.9h-0.9zM236.2 38.0h0.9v0.9h-0.9zM238.5 37.5h0.9v0.9h-0.9zM238.9 38.0h0.9v0.9h-0.9zM232.5 38.2h0.9v0.9h-0.9zM233.2 38.7h0.9v0.9h-0.9zM234.1 38.4h0.9v0.9h-0.9zM235.2 38.9h0.9v0.9h-0.9zM236.1 38.4h0.9v0.9h-0.9zM168.2 39.8h0.9v0.9h-0.9zM169.2 39.5h0.9v0.9h-0.9zM233.1 39.6h0.9v0.9h-0.9zM234.8 39.3h0.9v0.9h-0.9zM237.2 39.4h0.9v0.9h-0.9zM237.7 39.5h0.9v0.9h-0.9zM169.2 40.1h0.9v0.9h-0.9zM233.0 40.1h0.9v0.9h-0.9zM236.4 40.7h0.9v0.9h-0.9zM168.0 41.5h0.9v0.9h-0.9zM169.0 41.6h0.9v0.9h-0.9zM234.3 41.5h0.9v0.9h-0.9zM234.7 41.5h0.9v0.9h-0.9zM238.7 41.1h0.9v0.9h-0.9zM241.0 41.2h0.9v0.9h-0.9zM167.9 42.3h0.9v0.9h-0.9zM168.7 42.5h0.9v0.9h-0.9zM234.9 42.8h0.9v0.9h-0.9zM238.0 42.1h0.9v0.9h-0.9zM239.2 42.2h0.9v0.9h-0.9zM167.8 43.7h0.9v0.9h-0.9zM170.4 43.4h0.9v0.9h-0.9zM234.4 43.7h0.9v0.9h-0.9zM235.4 43.7h0.9v0.9h-0.9zM238.9 43.6h0.9v0.9h-0.9zM169.9 44.3h0.9v0.9h-0.9zM232.6 44.5h0.9v0.9h-0.9zM234.0 44.8h0.9v0.9h-0.9zM242.1 44.5h0.9v0.9h-0.9zM169.4 45.1h0.9v0.9h-0.9zM170.3 45.1h0.9v0.9h-0.9zM233.3 45.2h0.9v0.9h-0.9zM234.8 45.2h0.9v0.9h-0.9zM235.6 46.0h0.9v0.9h-0.9zM232.5 46.3h0.9v0.9h-0.9zM233.9 46.2h0.9v0.9h-0.9zM235.0 46.4h0.9v0.9h-0.9zM238.7 46.7h0.9v0.9h-0.9zM244.5 46.1h0.9v0.9h-0.9zM245.8 46.3h0.9v0.9h-0.9zM170.2 48.0h0.9v0.9h-0.9zM232.1 47.2h0.9v0.9h-0.9zM233.8 47.6h0.9v0.9h-0.9zM237.6 47.8h0.9v0.9h-0.9zM242.3 47.1h0.9v0.9h-0.9zM243.0 47.1h0.9v0.9h-0.9zM167.8 48.6h0.9v0.9h-0.9zM169.0 48.6h0.9v0.9h-0.9zM170.5 48.8h0.9v0.9h-0.9zM230.8 48.4h0.9v0.9h-0.9zM232.1 48.6h0.9v0.9h-0.9zM233.0 48.9h0.9v0.9h-0.9zM233.7 48.4h0.9v0.9h-0.9zM235.6 48.8h0.9v0.9h-0.9zM240.1 48.9h0.9v0.9h-0.9zM170.1 49.7h0.9v0.9h-0.9zM230.9 49.9h0.9v0.9h-0.9zM232.0 49.3h0.9v0.9h-0.9zM233.5 49.9h0.9v0.9h-0.9zM233.7 49.1h0.9v0.9h-0.9zM234.9 49.7h0.9v0.9h-0.9zM235.7 49.8h0.9v0.9h-0.9zM239.4 49.3h0.9v0.9h-0.9zM242.6 49.6h0.9v0.9h-0.9zM170.1 50.9h0.9v0.9h-0.9zM231.0 50.1h0.9v0.9h-0.9zM231.8 51.0h0.9v0.9h-0.9zM233.0 50.9h0.9v0.9h-0.9zM235.1 50.2h0.9v0.9h-0.9zM235.8 50.7h0.9v0.9h-0.9zM236.6 50.2h0.9v0.9h-0.9zM237.6 50.1h0.9v0.9h-0.9zM230.2 51.9h0.9v0.9h-0.9zM231.9 51.9h0.9v0.9h-0.9zM232.9 51.4h0.9v0.9h-0.9zM233.7 51.7h0.9v0.9h-0.9zM235.4 51.1h0.9v0.9h-0.9zM236.7 51.6h0.9v0.9h-0.9zM238.5 51.7h0.9v0.9h-0.9zM168.8 52.3h0.9v0.9h-0.9zM229.5 52.8h0.9v0.9h-0.9zM229.6 52.9h0.9v0.9h-0.9zM232.1 52.7h0.9v0.9h-0.9zM233.5 52.6h0.9v0.9h-0.9zM235.3 52.6h0.9v0.9h-0.9zM237.9 52.3h0.9v0.9h-0.9zM169.3 53.6h0.9v0.9h-0.9zM228.3 53.6h0.9v0.9h-0.9zM228.8 53.2h0.9v0.9h-0.9zM230.1 53.6h0.9v0.9h-0.9zM231.5 53.6h0.9v0.9h-0.9zM232.2 53.6h0.9v0.9h-0.9zM232.9 53.1h0.9v0.9h-0.9zM168.2 54.2h0.9v0.9h-0.9zM169.9 54.8h0.9v0.9h-0.9zM227.2 54.8h0.9v0.9h-0.9zM227.9 54.7h0.9v0.9h-0.9zM229.0 54.1h0.9v0.9h-0.9zM230.0 54.4h0.9v0.9h-0.9zM231.2 54.1h0.9v0.9h-0.9zM231.9 54.9h0.9v0.9h-0.9zM241.8 54.1h0.9v0.9h-0.9zM245.0 55.0h0.9v0.9h-0.9zM169.3 55.5h0.9v0.9h-0.9zM170.0 55.5h0.9v0.9h-0.9zM224.9 55.7h0.9v0.9h-0.9zM226.0 55.9h0.9v0.9h-0.9zM226.6 55.9h0.9v0.9h-0.9zM227.7 55.5h0.9v0.9h-0.9zM229.9 55.2h0.9v0.9h-0.9zM233.4 55.7h0.9v0.9h-0.9zM168.8 57.0h0.9v0.9h-0.9zM170.8 56.4h0.9v0.9h-0.9zM222.2 56.8h0.9v0.9h-0.9zM223.8 56.6h0.9v0.9h-0.9zM226.3 56.5h0.9v0.9h-0.9zM228.3 56.2h0.9v0.9h-0.9zM228.7 56.8h0.9v0.9h-0.9zM229.9 56.9h0.9v0.9h-0.9zM234.1 56.1h0.9v0.9h-0.9zM169.4 57.4h0.9v0.9h-0.9zM170.2 58.0h0.9v0.9h-0.9zM171.4 57.9h0.9v0.9h-0.9zM171.6 57.1h0.9v0.9h-0.9zM205.7 57.9h0.9v0.9h-0.9zM215.0 57.5h0.9v0.9h-0.9zM215.8 57.1h0.9v0.9h-0.9zM217.2 57.7h0.9v0.9h-0.9zM218.0 57.5h0.9v0.9h-0.9zM218.9 57.3h0.9v0.9h-0.9zM221.2 57.5h0.9v0.9h-0.9zM222.5 57.3h0.9v0.9h-0.9zM223.1 57.4h0.9v0.9h-0.9zM224.4 57.1h0.9v0.9h-0.9zM225.1 57.2h0.9v0.9h-0.9zM226.5 57.5h0.9v0.9h-0.9zM227.3 57.2h0.9v0.9h-0.9zM229.2 57.7h0.9v0.9h-0.9zM229.7 57.6h0.9v0.9h-0.9zM231.5 57.8h0.9v0.9h-0.9zM243.3 57.4h0.9v0.9h-0.9zM169.9 58.5h0.9v0.9h-0.9zM170.7 58.8h0.9v0.9h-0.9zM199.8 58.2h0.9v0.9h-0.9zM201.2 58.9h0.9v0.9h-0.9zM202.4 58.4h0.9v0.9h-0.9zM202.7 58.4h0.9v0.9h-0.9zM205.5 58.2h0.9v0.9h-0.9zM206.0 58.1h0.9v0.9h-0.9zM207.2 58.5h0.9v0.9h-0.9zM207.7 58.9h0.9v0.9h-0.9zM209.0 58.5h0.9v0.9h-0.9zM210.0 58.2h0.9v0.9h-0.9zM210.7 58.1h0.9v0.9h-0.9zM212.5 58.8h0.9v0.9h-0.9zM213.1 58.6h0.9v0.9h-0.9zM214.2 58.3h0.9v0.9h-0.9zM214.6 58.3h0.9v0.9h-0.9zM216.4 58.2h0.9v0.9h-0.9zM217.1 58.6h0.9v0.9h-0.9zM218.2 58.9h0.9v0.9h-0.9zM222.3 59.0h0.9v0.9h-0.9zM222.8 58.6h0.9v0.9h-0.9zM223.6 58.4h0.9v0.9h-0.9zM225.0 59.0h0.9v0.9h-0.9zM232.7 58.3h0.9v0.9h-0.9zM169.2 59.2h0.9v0.9h-0.9zM170.2 59.6h0.9v0.9h-0.9zM171.0 59.5h0.9v0.9h-0.9zM171.6 59.4h0.9v0.9h-0.9zM199.3 59.7h0.9v0.9h-0.9zM200.4 59.3h0.9v0.9h-0.9zM201.4 59.9h0.9v0.9h-0.9zM202.4 59.3h0.9v0.9h-0.9zM203.2 59.2h0.9v0.9h-0.9zM204.2 59.1h0.9v0.9h-0.9zM205.5 59.2h0.9v0.9h-0.9zM205.6 59.4h0.9v0.9h-0.9zM207.0 59.7h0.9v0.9h-0.9zM209.3 59.9h0.9v0.9h-0.9zM210.4 59.2h0.9v0.9h-0.9zM210.6 59.6h0.9v0.9h-0.9zM211.6 59.1h0.9v0.9h-0.9zM213.4 59.3h0.9v0.9h-0.9zM213.7 59.5h0.9v0.9h-0.9zM215.5 59.5h0.9v0.9h-0.9zM215.7 59.9h0.9v0.9h-0.9zM216.7 59.7h0.9v0.9h-0.9zM218.3 59.3h0.9v0.9h-0.9zM219.2 59.7h0.9v0.9h-0.9zM220.4 59.4h0.9v0.9h-0.9zM220.7 59.7h0.9v0.9h-0.9zM221.7 59.8h0.9v0.9h-0.9zM223.9 59.8h0.9v0.9h-0.9zM225.2 59.1h0.9v0.9h-0.9zM226.3 59.7h0.9v0.9h-0.9zM227.5 59.6h0.9v0.9h-0.9zM229.3 59.1h0.9v0.9h-0.9zM237.4 59.6h0.9v0.9h-0.9zM169.0 60.5h0.9v0.9h-0.9zM170.5 60.5h0.9v0.9h-0.9zM171.1 60.8h0.9v0.9h-0.9zM172.5 60.8h0.9v0.9h-0.9zM197.8 60.9h0.9v0.9h-0.9zM199.2 60.5h0.9v0.9h-0.9zM200.4 60.4h0.9v0.9h-0.9zM200.8 60.9h0.9v0.9h-0.9zM202.0 60.3h0.9v0.9h-0.9zM203.0 60.3h0.9v0.9h-0.9zM203.7 61.0h0.9v0.9h-0.9zM204.8 60.6h0.9v0.9h-0.9zM206.9 60.6h0.9v0.9h-0.9zM207.6 60.9h0.9v0.9h-0.9zM209.2 60.3h0.9v0.9h-0.9zM220.5 60.6h0.9v0.9h-0.9zM221.1 60.3h0.9v0.9h-0.9zM222.0 60.2h0.9v0.9h-0.9zM222.8 60.8h0.9v0.9h-0.9zM224.5 60.3h0.9v0.9h-0.9zM228.2 60.9h0.9v0.9h-0.9zM230.9 60.3h0.9v0.9h-0.9zM169.4 61.4h0.9v0.9h-0.9zM196.8 61.1h0.9v0.9h-0.9zM198.1 61.9h0.9v0.9h-0.9zM199.4 61.7h0.9v0.9h-0.9zM199.8 61.7h0.9v0.9h-0.9zM202.2 61.1h0.9v0.9h-0.9zM204.1 61.2h0.9v0.9h-0.9zM204.9 61.3h0.9v0.9h-0.9zM206.3 61.4h0.9v0.9h-0.9zM207.1 61.3h0.9v0.9h-0.9zM223.2 61.5h0.9v0.9h-0.9zM224.0 62.0h0.9v0.9h-0.9zM224.8 62.0h0.9v0.9h-0.9zM226.5 61.2h0.9v0.9h-0.9zM226.9 61.3h0.9v0.9h-0.9zM228.0 61.9h0.9v0.9h-0.9zM229.8 61.1h0.9v0.9h-0.9zM168.8 62.3h0.9v0.9h-0.9zM197.2 63.0h0.9v0.9h-0.9zM198.5 62.8h0.9v0.9h-0.9zM198.9 62.4h0.9v0.9h-0.9zM200.3 62.4h0.9v0.9h-0.9zM201.6 62.4h0.9v0.9h-0.9zM202.9 62.2h0.9v0.9h-0.9zM203.9 62.1h0.9v0.9h-0.9zM205.0 62.4h0.9v0.9h-0.9zM206.3 62.3h0.9v0.9h-0.9zM206.6 62.5h0.9v0.9h-0.9zM225.1 62.1h0.9v0.9h-0.9zM227.7 62.8h0.9v0.9h-0.9zM231.5 62.5h0.9v0.9h-0.9zM168.0 63.5h0.9v0.9h-0.9zM197.8 63.3h0.9v0.9h-0.9zM198.9 63.7h0.9v0.9h-0.9zM200.5 63.9h0.9v0.9h-0.9zM201.4 63.4h0.9v0.9h-0.9zM203.4 63.1h0.9v0.9h-0.9zM203.6 63.9h0.9v0.9h-0.9zM205.5 63.3h0.9v0.9h-0.9zM205.6 63.7h0.9v0.9h-0.9zM227.3 63.2h0.9v0.9h-0.9zM228.1 63.1h0.9v0.9h-0.9zM229.1 63.9h0.9v0.9h-0.9zM167.9 64.3h0.9v0.9h-0.9zM198.8 64.6h0.9v0.9h-0.9zM201.7 64.5h0.9v0.9h-0.9zM202.6 64.7h0.9v0.9h-0.9zM227.4 64.8h0.9v0.9h-0.9zM228.5 64.3h0.9v0.9h-0.9zM168.5 65.3h0.9v0.9h-0.9zM226.8 65.2h0.9v0.9h-0.9zM227.8 66.0h0.9v0.9h-0.9zM230.4 66.0h0.9v0.9h-0.9zM231.4 65.3h0.9v0.9h-0.9zM234.0 65.4h0.9v0.9h-0.9zM168.4 66.4h0.9v0.9h-0.9zM227.8 66.4h0.9v0.9h-0.9zM229.7 66.2h0.9v0.9h-0.9zM231.6 66.8h0.9v0.9h-0.9zM167.6 67.1h0.9v0.9h-0.9zM227.9 67.9h0.9v0.9h-0.9zM229.7 67.4h0.9v0.9h-0.9zM232.2 67.4h0.9v0.9h-0.9zM233.1 67.3h0.9v0.9h-0.9zM230.4 68.1h0.9v0.9h-0.9zM168.3 69.6h0.9v0.9h-0.9zM229.3 69.9h0.9v0.9h-0.9zM229.7 69.8h0.9v0.9h-0.9zM233.6 69.5h0.9v0.9h-0.9zM166.2 70.8h0.9v0.9h-0.9zM166.7 70.5h0.9v0.9h-0.9zM229.0 70.6h0.9v0.9h-0.9zM230.4 70.7h0.9v0.9h-0.9zM228.7 71.1h0.9v0.9h-0.9zM230.1 71.3h0.9v0.9h-0.9zM230.8 72.0h0.9v0.9h-0.9zM229.5 72.7h0.9v0.9h-0.9zM231.7 72.2h0.9v0.9h-0.9zM233.1 72.6h0.9v0.9h-0.9zM229.1 75.0h0.9v0.9h-0.9zM231.4 74.7h0.9v0.9h-0.9zM232.4 74.8h0.9v0.9h-0.9zM242.2 74.8h0.9v0.9h-0.9zM229.2 75.4h0.9v0.9h-0.9zM230.1 75.6h0.9v0.9h-0.9zM231.5 75.8h0.9v0.9h-0.9zM233.4 75.2h0.9v0.9h-0.9zM228.9 77.8h0.9v0.9h-0.9zM229.7 77.6h0.9v0.9h-0.9zM231.4 77.3h0.9v0.9h-0.9zM167.5 78.6h0.9v0.9h-0.9zM228.9 78.8h0.9v0.9h-0.9zM230.4 78.2h0.9v0.9h-0.9zM233.4 78.7h0.9v0.9h-0.9zM230.0 79.5h0.9v0.9h-0.9zM231.2 79.4h0.9v0.9h-0.9zM232.2 79.6h0.9v0.9h-0.9zM228.9 80.5h0.9v0.9h-0.9zM229.6 80.6h0.9v0.9h-0.9zM230.7 80.2h0.9v0.9h-0.9zM232.0 80.2h0.9v0.9h-0.9zM241.1 81.0h0.9v0.9h-0.9zM167.5 81.4h0.9v0.9h-0.9zM228.9 81.9h0.9v0.9h-0.9zM230.6 81.4h0.9v0.9h-0.9zM233.2 81.9h0.9v0.9h-0.9zM229.5 82.5h0.9v0.9h-0.9zM230.4 82.5h0.9v0.9h-0.9zM229.2 83.8h0.9v0.9h-0.9zM229.3 85.0h0.9v0.9h-0.9zM230.5 84.2h0.9v0.9h-0.9zM232.4 84.6h0.9v0.9h-0.9zM167.1 85.6h0.9v0.9h-0.9zM229.2 85.7h0.9v0.9h-0.9zM230.0 85.4h0.9v0.9h-0.9zM229.4 86.4h0.9v0.9h-0.9zM231.8 86.9h0.9v0.9h-0.9zM228.7 87.1h0.9v0.9h-0.9zM230.3 87.6h0.9v0.9h-0.9zM231.0 87.1h0.9v0.9h-0.9zM233.5 87.6h0.9v0.9h-0.9zM230.3 88.4h0.9v0.9h-0.9zM232.1 88.3h0.9v0.9h-0.9zM240.8 88.5h0.9v0.9h-0.9zM228.9 89.6h0.9v0.9h-0.9zM229.8 89.5h0.9v0.9h-0.9zM230.9 89.4h0.9v0.9h-0.9zM233.2 89.6h0.9v0.9h-0.9zM228.3 90.3h0.9v0.9h-0.9zM228.8 90.1h0.9v0.9h-0.9zM167.9 91.8h0.9v0.9h-0.9zM228.2 91.6h0.9v0.9h-0.9zM229.2 91.8h0.9v0.9h-0.9zM229.9 91.4h0.9v0.9h-0.9zM167.8 92.7h0.9v0.9h-0.9zM228.1 92.8h0.9v0.9h-0.9zM228.9 92.6h0.9v0.9h-0.9zM168.0 93.4h0.9v0.9h-0.9zM227.4 94.0h0.9v0.9h-0.9zM227.8 93.5h0.9v0.9h-0.9zM229.1 94.0h0.9v0.9h-0.9zM230.8 93.1h0.9v0.9h-0.9zM167.6 94.7h0.9v0.9h-0.9zM227.3 94.4h0.9v0.9h-0.9zM227.6 94.9h0.9v0.9h-0.9zM228.9 94.1h0.9v0.9h-0.9zM229.8 95.0h0.9v0.9h-0.9zM167.8 95.5h0.9v0.9h-0.9zM205.7 96.0h0.9v0.9h-0.9zM207.1 95.3h0.9v0.9h-0.9zM224.9 95.6h0.9v0.9h-0.9zM226.5 95.1h0.9v0.9h-0.9zM227.0 96.0h0.9v0.9h-0.9zM228.0 95.2h0.9v0.9h-0.9zM228.8 95.8h0.9v0.9h-0.9zM168.3 96.9h0.9v0.9h-0.9zM199.3 96.4h0.9v0.9h-0.9zM200.2 96.5h0.9v0.9h-0.9zM200.8 96.1h0.9v0.9h-0.9zM202.0 96.9h0.9v0.9h-0.9zM203.3 96.2h0.9v0.9h-0.9zM203.9 96.3h0.9v0.9h-0.9zM206.0 96.7h0.9v0.9h-0.9zM207.7 96.9h0.9v0.9h-0.9zM209.3 97.0h0.9v0.9h-0.9zM209.7 96.3h0.9v0.9h-0.9zM221.6 96.7h0.9v0.9h-0.9zM222.8 96.1h0.9v0.9h-0.9zM223.7 96.1h0.9v0.9h-0.9zM224.7 96.4h0.9v0.9h-0.9zM226.2 96.5h0.9v0.9h-0.9zM227.5 96.8h0.9v0.9h-0.9zM228.0 96.8h0.9v0.9h-0.9zM230.5 96.2h0.9v0.9h-0.9z"/>
<g filter="url(#bl)">
<path d="M221.5 97.0 220.5 97.0 219.5 97.0 218.5 97.0 217.5 97.0 216.5 97.0 215.5 97.0 214.5 97.0 213.5 97.0 212.5 97.0 211.5 97.0 211.0 96.9 210.0 96.7 209.3 96.5 208.5 96.1 208.0 95.9 207.0 95.7 206.2 96.0 205.5 96.4 205.0 96.6 204.0 96.8 203.0 96.7 202.0 96.5 201.5 96.5 201.0 96.5 200.0 96.7 199.2 97.0 198.5 97.1 197.5 97.1 196.5 97.2 195.5 97.2 194.5 97.3 193.5 97.3 192.5 97.3 191.5 97.3 190.5 97.3 189.5 97.3 188.5 97.3 187.5 97.3 186.5 97.3 185.5 97.3 184.5 97.3 183.5 97.3 182.5 97.3 181.5 97.3 180.5 97.3 179.5 97.3 178.5 97.3 177.5 97.3 176.5 97.3 175.5 97.3 174.5 97.3 173.5 97.3 172.5 97.3 171.5 97.3 170.5 97.2 169.5 97.2 169.0 97.0 168.8 96.0 168.7 95.0 168.6 94.0 168.6 93.0 168.5 92.0 168.5 91.3 168.5 90.5 168.4 89.5 168.4 88.5 168.4 87.5 168.4 86.5 168.4 85.5 168.4 84.5 168.4 83.5 168.4 82.5 168.4 81.5 168.4 80.5 168.4 79.5 168.4 78.5 168.4 77.5 168.4 76.5 168.4 75.5 168.4 74.5 168.4 73.5 168.4 72.5 168.5 71.5 168.5 70.7 168.5 70.0 168.6 69.0 168.6 68.0 168.7 67.0 168.8 66.0 169.0 65.0 169.1 64.5 169.3 63.5 169.5 63.0 170.0 62.2 170.5 61.7 171.0 61.5 172.0 61.2 172.5 61.0 172.7 60.0 172.8 59.0 172.7 58.0 172.4 57.5 172.0 56.8 171.5 56.2 171.0 55.5 170.7 55.0 170.5 54.5 170.3 53.5 170.3 52.5 170.4 51.5 170.5 51.0 170.7 50.0 170.7 49.0 170.7 48.0 170.7 47.0 170.7 46.0 170.7 45.0 170.5 44.0 170.3 43.5 170.1 42.5 170.0 41.5 170.0 40.5 170.0 39.5 170.0 38.5 170.2 37.5 170.5 36.5 170.7 36.0 171.1 35.5 171.6 35.0 172.3 34.5 173.0 34.1 173.5 33.9 174.5 33.6 175.0 33.4 176.0 33.2 177.0 33.1 177.6 33.0 178.5 32.9 179.5 32.8 180.5 32.8 181.5 32.8 182.5 32.8 183.5 32.8 184.5 32.8 185.5 32.8 186.5 32.8 187.5 32.9 188.5 32.9 189.0 33.0 190.0 33.1 191.0 33.3 191.9 33.5 192.5 33.7 193.3 34.0 194.0 34.2 195.0 34.3 196.0 34.3 197.0 34.3 198.0 34.3 199.0 34.3 200.0 34.3 201.0 34.3 202.0 34.3 203.0 34.3 204.0 34.3 205.0 34.3 206.0 34.3 207.0 34.3 208.0 34.3 209.0 34.4 210.0 34.4 211.0 34.4 212.0 34.4 213.0 34.4 214.0 34.5 215.0 34.5 215.5 34.5 216.5 34.6 217.5 34.6 218.5 34.7 219.5 34.8 220.5 34.9 221.5 35.0 222.0 35.1 223.0 35.2 224.0 35.4 224.5 35.5 225.5 35.8 226.2 36.0 227.0 36.3 227.5 36.5 228.5 36.9 229.0 37.1 229.7 37.5 230.5 38.0 231.0 38.3 231.5 38.8 232.0 39.3 232.5 39.9 232.9 40.5 233.2 41.0 233.5 42.0 233.6 42.5 233.7 43.5 233.6 44.5 233.5 45.0 233.1 46.0 232.8 46.5 232.4 47.0 232.0 47.5 231.5 48.1 231.3 49.0 231.1 50.0 230.9 50.5 230.5 51.4 230.1 52.0 229.7 52.5 229.3 53.0 228.9 53.5 228.3 54.0 227.7 54.5 227.0 55.0 226.5 55.3 226.0 55.5 225.0 56.0 224.5 56.2 223.8 56.5 223.0 56.8 222.1 57.0 221.5 57.2 220.5 57.4 219.5 57.5 219.0 57.6 218.0 57.7 217.0 57.8 216.0 57.9 215.0 58.0 214.5 58.0 213.5 58.1 212.5 58.1 211.5 58.2 210.5 58.2 209.5 58.1 208.5 58.1 207.5 58.0 206.6 58.0 206.0 58.0 205.5 58.0 204.5 58.0 203.5 58.1 202.5 58.3 201.5 58.5 201.0 58.6 200.1 59.0 199.5 59.4 199.0 59.8 198.5 60.3 198.0 60.9 197.5 61.4 197.0 61.9 196.5 62.4 196.5 62.5 197.1 63.0 197.7 63.5 198.3 64.0 198.7 64.5 199.2 65.0 199.9 65.5 200.5 65.7 201.5 65.9 202.5 65.7 203.0 65.5 204.0 65.1 204.5 64.9 205.5 64.6 206.0 64.4 206.8 64.0 207.3 63.5 207.7 63.0 208.1 62.5 208.5 62.0 209.0 61.5 210.0 61.0 210.5 60.8 211.5 60.7 212.5 60.6 213.5 60.6 214.5 60.6 215.5 60.7 216.5 60.7 217.5 60.8 218.5 60.9 219.5 61.0 220.0 61.0 221.0 61.2 222.0 61.4 222.5 61.6 223.4 62.0 224.0 62.4 224.5 62.7 225.0 63.1 225.5 63.6 226.0 64.1 226.5 64.6 227.0 65.2 227.5 66.0 227.7 66.5 228.0 67.1 228.3 68.0 228.5 68.8 228.6 69.5 228.8 70.5 228.9 71.5 229.0 72.5 229.0 73.2 229.0 74.0 229.0 75.0 229.1 76.0 229.1 77.0 229.1 78.0 229.1 79.0 229.1 80.0 229.0 81.0 229.0 82.0 229.0 83.0 229.0 84.0 229.0 85.0 229.0 85.5 229.0 86.5 228.9 87.5 228.8 88.5 228.7 89.5 228.5 90.5 228.4 91.0 228.2 92.0 228.0 92.5 227.6 93.5 227.3 94.0 227.0 94.5 226.5 95.1 226.0 95.5 225.3 96.0 224.5 96.4 224.0 96.6 223.0 96.8 222.0 97.0 221.5 97.0Z" fill="#2f4af2"/>
<path d="M187.5 46.5 186.5 46.6 185.5 46.6 184.5 46.6 183.5 46.6 182.5 46.6 181.5 46.6 180.5 46.6 179.5 46.6 178.7 46.5 178.0 46.4 177.0 46.3 176.0 46.1 175.5 45.9 174.5 45.6 174.0 45.3 173.5 45.0 172.9 44.5 172.5 44.0 172.0 43.2 171.8 42.5 171.6 41.5 171.6 40.5 171.6 39.5 171.7 38.5 171.9 37.5 172.1 37.0 172.5 36.4 173.0 35.8 173.5 35.4 174.2 35.0 175.0 34.6 175.5 34.5 176.5 34.2 177.5 34.0 178.0 34.0 179.0 33.9 180.0 33.8 181.0 33.8 182.0 33.8 183.0 33.8 184.0 33.8 185.0 33.8 186.0 33.8 187.0 33.8 188.0 33.9 188.8 34.0 189.5 34.1 190.5 34.3 191.2 34.5 192.0 34.8 192.5 35.0 193.2 35.5 193.8 36.0 194.2 36.5 194.5 37.0 194.9 38.0 195.0 39.0 195.0 39.5 195.0 40.5 195.0 41.1 194.9 42.0 194.7 43.0 194.5 43.5 194.0 44.2 193.5 44.7 193.0 45.1 192.2 45.5 191.5 45.8 190.8 46.0 190.0 46.2 189.0 46.4 188.0 46.5 187.5 46.5Z M219.0 51.0 218.0 51.1 217.0 51.1 216.0 51.1 215.0 51.1 214.0 51.2 213.0 51.2 212.0 51.2 211.0 51.1 210.0 51.1 209.0 51.1 208.0 51.1 207.0 51.0 206.5 51.0 205.5 50.9 204.5 50.7 203.5 50.6 203.0 50.4 202.0 50.1 201.5 49.8 201.0 49.5 200.5 48.9 200.2 48.0 200.2 47.0 200.5 46.1 201.0 45.5 201.5 45.2 202.0 44.9 203.0 44.6 203.5 44.4 204.5 44.3 205.5 44.1 206.5 44.0 207.0 44.0 208.0 43.9 209.0 43.9 210.0 43.9 211.0 43.9 212.0 43.8 213.0 43.8 214.0 43.8 215.0 43.9 216.0 43.9 216.5 43.5 216.6 42.5 217.0 41.5 217.2 41.0 217.6 40.5 218.0 40.0 218.5 39.5 219.2 39.0 220.0 38.5 220.5 38.3 221.3 38.0 222.0 37.8 223.0 37.6 224.0 37.6 225.0 37.6 226.0 37.7 227.0 38.0 227.5 38.1 228.4 38.5 229.0 38.8 229.5 39.2 230.0 39.6 230.5 40.1 231.0 40.7 231.4 41.5 231.6 42.0 231.8 43.0 231.8 44.0 231.6 45.0 231.4 45.5 231.0 46.1 230.5 46.7 230.0 47.2 229.5 47.6 228.9 48.0 228.0 48.5 227.5 48.7 226.5 49.0 226.0 49.1 225.0 49.5 224.5 49.8 224.0 50.1 223.0 50.4 222.5 50.6 221.5 50.7 220.5 50.9 219.5 51.0 219.0 51.0Z M193.0 97.0 192.0 97.0 191.0 97.1 190.0 97.1 189.0 97.1 188.0 97.1 187.0 97.1 186.0 97.1 185.0 97.1 184.0 97.1 183.0 97.1 182.0 97.1 181.0 97.1 180.0 97.1 179.0 97.1 178.0 97.1 177.0 97.1 176.0 97.1 175.0 97.1 174.0 97.1 173.0 97.0 172.0 97.0 171.5 97.0 170.8 96.5 170.4 96.0 170.0 95.4 169.7 94.5 169.5 93.6 169.4 93.0 169.3 92.0 169.2 91.0 169.2 90.0 169.1 89.0 169.1 88.0 169.1 87.0 169.1 86.0 169.1 85.0 169.0 84.0 169.0 83.0 169.0 82.0 169.0 81.0 169.0 80.0 169.0 79.0 169.0 78.0 169.1 77.0 169.1 76.0 169.1 75.0 169.1 74.0 169.1 73.0 169.2 72.0 169.2 71.0 169.3 70.0 169.4 69.0 169.5 68.4 169.7 67.5 170.0 66.6 170.4 66.0 170.8 65.5 171.5 65.0 172.0 64.8 172.8 64.5 173.5 64.3 174.5 64.1 175.0 64.0 176.0 63.9 177.0 63.8 178.0 63.7 179.0 63.7 180.0 63.7 181.0 63.7 182.0 63.7 183.0 63.7 184.0 63.7 185.0 63.7 186.0 63.7 187.0 63.7 188.0 63.8 189.0 63.9 190.0 64.0 190.5 64.1 191.5 64.3 192.2 64.5 193.0 64.8 193.5 65.0 194.4 65.5 195.0 65.9 195.5 66.4 196.0 66.9 196.5 67.5 196.9 68.0 197.2 68.5 197.5 69.2 197.8 70.0 198.0 70.5 198.3 71.5 198.5 72.5 198.5 73.0 198.7 74.0 198.7 75.0 198.8 76.0 198.8 77.0 198.8 78.0 198.9 79.0 198.9 80.0 198.9 81.0 198.9 82.0 198.9 83.0 198.8 84.0 198.8 85.0 198.8 86.0 198.7 87.0 198.7 88.0 198.5 89.0 198.5 89.5 198.3 90.5 198.0 91.5 197.8 92.0 197.5 92.8 197.2 93.5 196.9 94.0 196.5 94.5 196.0 95.1 195.5 95.6 195.0 96.1 194.4 96.5 193.5 97.0 193.0 97.0Z M218.0 92.5 217.0 92.5 216.5 92.5 215.5 92.2 215.0 91.8 214.5 91.2 214.1 90.5 213.9 90.0 213.6 89.0 213.5 88.5 213.3 87.5 213.2 86.5 213.1 85.5 213.1 84.5 213.0 83.5 213.0 82.5 213.0 81.5 213.0 80.5 213.0 79.5 213.0 78.5 213.0 77.5 213.1 76.5 213.1 75.5 213.2 74.5 213.3 73.5 213.5 72.5 213.6 72.0 213.9 71.0 214.1 70.5 214.5 69.8 215.0 69.2 215.5 68.8 216.5 68.5 217.0 68.5 218.0 68.5 218.5 68.5 219.5 68.8 220.0 69.2 220.5 69.8 220.9 70.5 221.1 71.0 221.4 72.0 221.5 72.5 221.7 73.5 221.8 74.5 221.9 75.5 221.9 76.5 222.0 77.5 222.0 78.5 222.0 79.5 222.0 80.5 222.0 81.5 222.0 82.5 222.0 83.5 221.9 84.5 221.9 85.5 221.8 86.5 221.7 87.5 221.5 88.5 221.4 89.0 221.1 90.0 220.9 90.5 220.5 91.2 220.0 91.8 219.5 92.2 218.5 92.5 218.0 92.5Z" fill="#2f9cf8"/>
<path d="M188.5 45.6 187.5 45.7 186.5 45.8 185.5 45.8 184.5 45.8 183.5 45.8 182.5 45.8 181.5 45.8 180.5 45.8 179.5 45.7 178.5 45.6 177.6 45.5 177.0 45.4 176.0 45.1 175.5 44.9 174.8 44.5 174.2 44.0 173.8 43.5 173.5 43.0 173.1 42.0 173.0 41.0 173.0 40.0 173.1 39.0 173.2 38.0 173.5 37.3 174.0 36.6 174.5 36.2 175.0 35.8 175.6 35.5 176.5 35.2 177.1 35.0 178.0 34.8 179.0 34.7 180.0 34.6 181.0 34.6 182.0 34.6 183.0 34.6 184.0 34.6 185.0 34.6 186.0 34.6 187.0 34.6 188.0 34.7 189.0 34.9 189.5 35.0 190.5 35.3 191.0 35.5 191.9 36.0 192.5 36.5 192.9 37.0 193.2 37.5 193.5 38.5 193.5 39.0 193.6 40.0 193.6 41.0 193.5 41.7 193.3 42.5 193.0 43.2 192.5 43.9 192.0 44.3 191.5 44.6 190.8 45.0 190.0 45.3 189.0 45.5 188.5 45.6Z M216.5 50.0 215.5 50.1 214.5 50.1 213.5 50.1 212.5 50.1 211.5 50.1 210.5 50.1 209.5 50.0 209.0 50.0 208.0 49.9 207.0 49.8 206.0 49.6 205.5 49.4 204.6 49.0 204.2 48.5 204.0 47.7 204.0 47.3 204.2 46.5 204.6 46.0 205.5 45.6 206.0 45.4 207.0 45.2 208.0 45.1 209.0 45.0 209.5 45.0 210.5 44.9 211.5 44.9 212.5 44.9 213.5 44.9 214.5 44.9 215.5 44.9 216.5 45.0 217.0 45.0 218.0 45.1 218.1 44.5 218.0 44.0 218.0 43.0 218.1 42.5 218.5 41.5 218.8 41.0 219.2 40.5 219.8 40.0 220.5 39.6 221.0 39.3 221.8 39.0 222.5 38.8 223.5 38.7 224.5 38.6 225.5 38.7 226.5 39.0 227.0 39.1 227.8 39.5 228.5 39.9 229.0 40.3 229.5 40.9 229.9 41.5 230.2 42.0 230.4 43.0 230.4 44.0 230.1 45.0 229.8 45.5 229.4 46.0 229.0 46.5 228.3 47.0 227.5 47.5 227.0 47.7 226.0 48.0 225.5 48.1 224.5 48.2 223.5 48.1 222.6 48.0 222.0 48.0 221.8 48.5 221.4 49.0 220.5 49.4 220.0 49.6 219.0 49.8 218.0 49.9 217.0 50.0 216.5 50.0Z M187.5 95.0 186.5 95.1 185.5 95.1 184.5 95.2 183.5 95.2 182.5 95.2 181.5 95.2 180.5 95.2 179.5 95.1 178.5 95.1 177.5 95.0 177.0 95.0 176.0 94.8 175.0 94.6 174.5 94.4 173.5 94.0 173.0 93.8 172.5 93.4 172.0 93.0 171.5 92.5 171.0 91.8 170.7 91.0 170.5 90.5 170.3 89.5 170.2 88.5 170.1 87.5 170.0 86.5 170.0 85.9 170.0 85.0 170.0 84.0 170.0 83.0 170.0 82.0 170.0 81.0 170.0 80.0 170.0 79.0 170.0 78.0 170.0 77.0 170.0 76.1 170.0 75.5 170.1 74.5 170.2 73.5 170.3 72.5 170.5 71.5 170.7 71.0 171.0 70.2 171.5 69.5 172.0 69.0 172.5 68.6 173.0 68.2 173.5 68.0 174.5 67.6 175.0 67.4 176.0 67.2 177.0 67.0 177.5 67.0 178.5 66.9 179.5 66.9 180.5 66.8 181.5 66.8 182.5 66.8 183.5 66.8 184.5 66.8 185.5 66.9 186.5 66.9 187.5 67.0 188.0 67.0 189.0 67.2 190.0 67.4 190.5 67.6 191.5 68.0 192.0 68.2 192.5 68.6 193.1 69.0 193.6 69.5 194.0 70.0 194.5 70.8 194.8 71.5 195.0 72.0 195.3 73.0 195.5 73.9 195.6 74.5 195.7 75.5 195.8 76.5 195.8 77.5 195.8 78.5 195.9 79.5 195.9 80.5 195.9 81.5 195.9 82.5 195.8 83.5 195.8 84.5 195.8 85.5 195.7 86.5 195.6 87.5 195.5 88.1 195.3 89.0 195.0 90.0 194.8 90.5 194.5 91.2 194.0 92.0 193.6 92.5 193.1 93.0 192.5 93.4 192.0 93.8 191.5 94.0 190.5 94.4 190.0 94.6 189.0 94.8 188.0 95.0 187.5 95.0Z M219.0 87.5 218.0 87.9 217.0 87.9 216.0 87.5 215.6 87.0 215.3 86.5 215.0 85.5 214.9 85.0 214.8 84.0 214.8 83.0 214.7 82.0 214.7 81.0 214.7 80.0 214.7 79.0 214.8 78.0 214.8 77.0 214.9 76.0 215.0 75.5 215.3 74.5 215.6 74.0 216.0 73.5 217.0 73.1 218.0 73.1 219.0 73.5 219.4 74.0 219.7 74.5 220.0 75.5 220.1 76.0 220.2 77.0 220.2 78.0 220.3 79.0 220.3 80.0 220.3 81.0 220.3 82.0 220.2 83.0 220.2 84.0 220.1 85.0 220.0 85.5 219.7 86.5 219.4 87.0 219.0 87.5Z" fill="#3ee0f0"/>
<path d="M186.0 45.0 185.0 45.0 184.0 45.1 183.0 45.1 182.0 45.1 181.0 45.0 180.4 45.0 179.5 44.9 178.5 44.8 177.5 44.6 177.0 44.4 176.2 44.0 175.5 43.5 175.1 43.0 174.8 42.5 174.5 41.5 174.5 41.0 174.4 40.0 174.5 39.0 174.6 38.5 175.0 37.5 175.4 37.0 176.0 36.5 176.5 36.2 177.0 36.0 178.0 35.7 179.0 35.5 179.5 35.5 180.5 35.4 181.5 35.4 182.5 35.3 183.5 35.3 184.5 35.3 185.5 35.4 186.5 35.4 187.3 35.5 188.0 35.6 189.0 35.8 189.6 36.0 190.5 36.4 191.0 36.8 191.5 37.3 191.9 38.0 192.0 38.5 192.1 39.5 192.2 40.5 192.1 41.5 192.0 42.0 191.5 43.0 191.1 43.5 190.5 44.0 190.0 44.2 189.3 44.5 188.5 44.7 187.5 44.9 186.5 45.0 186.0 45.0Z M225.5 47.0 224.5 47.2 223.5 47.1 222.7 47.0 222.0 46.8 221.4 46.5 220.6 46.0 220.1 45.5 219.7 45.0 219.5 44.5 219.2 43.5 219.4 42.5 219.6 42.0 220.0 41.4 220.5 40.9 221.0 40.5 222.0 40.0 222.5 39.9 223.5 39.7 224.5 39.6 225.5 39.8 226.3 40.0 227.0 40.3 227.5 40.6 228.0 41.0 228.5 41.5 229.0 42.5 229.1 43.0 229.1 44.0 228.9 44.5 228.5 45.3 228.0 45.8 227.5 46.2 227.0 46.5 226.0 46.9 225.5 47.0Z M183.5 91.6 182.5 91.8 181.5 91.8 180.5 91.6 180.0 91.5 179.0 91.0 178.5 90.7 178.0 90.3 177.5 89.9 176.5 89.5 176.0 89.2 175.5 88.8 175.0 88.2 174.5 87.5 174.3 87.0 174.0 86.0 173.9 85.5 173.8 84.5 173.8 83.5 173.7 82.5 173.7 81.5 173.7 80.5 173.7 79.5 173.8 78.5 173.8 77.5 173.9 76.5 174.0 76.0 174.3 75.0 174.5 74.5 175.0 73.8 175.5 73.2 176.0 72.8 176.5 72.5 177.5 72.1 178.0 72.0 179.0 71.8 180.0 71.5 180.5 71.3 181.5 71.2 182.5 71.2 183.5 71.3 184.0 71.5 185.0 71.7 186.0 71.8 187.0 72.0 187.5 72.1 188.5 72.5 189.0 72.8 189.5 73.2 190.0 73.8 190.5 74.5 190.7 75.0 191.0 76.0 191.1 76.5 191.2 77.5 191.2 78.5 191.3 79.5 191.3 80.5 191.3 81.5 191.3 82.5 191.2 83.5 191.2 84.5 191.1 85.5 191.0 86.0 190.7 87.0 190.5 87.5 190.0 88.2 189.5 88.8 189.0 89.2 188.5 89.5 187.5 89.9 187.0 90.0 186.0 90.3 185.5 90.7 185.0 91.0 184.0 91.5 183.5 91.6Z" fill="#66f266"/>
<path d="M186.5 44.1 185.5 44.1 184.5 44.2 183.5 44.2 182.5 44.2 181.5 44.1 180.5 44.1 179.7 44.0 179.0 43.9 178.0 43.6 177.5 43.3 177.0 43.0 176.5 42.4 176.2 41.5 176.1 40.5 176.1 39.5 176.3 38.5 176.5 38.0 177.0 37.4 177.7 37.0 178.5 36.7 179.1 36.5 180.0 36.4 181.0 36.3 182.0 36.2 183.0 36.2 184.0 36.2 185.0 36.3 186.0 36.3 187.0 36.4 187.5 36.5 188.5 36.8 189.0 37.0 189.7 37.5 190.1 38.0 190.5 39.0 190.5 39.5 190.5 40.5 190.5 41.1 190.3 42.0 190.0 42.5 189.5 43.0 188.7 43.5 188.0 43.8 187.0 44.0 186.5 44.1Z M225.0 46.0 224.5 46.1 224.0 46.1 223.5 46.1 223.2 46.0 223.0 46.0 222.5 45.8 222.0 45.5 221.9 45.5 221.5 45.2 221.3 45.0 221.0 44.6 220.9 44.5 220.7 44.0 220.6 43.5 220.7 43.0 220.8 42.5 221.0 42.2 221.1 42.0 221.5 41.6 221.7 41.5 222.0 41.3 222.5 41.0 222.5 41.0 223.0 40.8 223.5 40.7 224.0 40.7 224.5 40.7 225.0 40.8 225.5 40.9 225.9 41.0 226.0 41.1 226.5 41.3 226.7 41.5 227.0 41.7 227.3 42.0 227.5 42.4 227.6 42.5 227.7 43.0 227.8 43.5 227.7 44.0 227.5 44.4 227.5 44.5 227.1 45.0 227.0 45.1 226.5 45.5 226.5 45.5 226.0 45.7 225.5 45.9 225.2 46.0 225.0 46.0Z M182.5 89.0 181.5 89.0 181.0 88.9 180.0 88.6 179.5 88.3 179.0 87.9 178.5 87.3 178.0 86.5 177.8 86.0 177.5 85.1 177.4 84.5 177.2 83.5 177.1 82.5 177.1 81.5 177.1 80.5 177.2 79.5 177.4 78.5 177.5 77.9 177.8 77.0 178.0 76.5 178.5 75.7 179.0 75.1 179.5 74.7 180.0 74.4 181.0 74.1 181.5 74.0 182.5 74.0 183.0 74.1 184.0 74.4 184.5 74.7 185.0 75.1 185.5 75.7 186.0 76.5 186.2 77.0 186.5 77.9 186.6 78.5 186.8 79.5 186.9 80.5 186.9 81.5 186.9 82.5 186.8 83.5 186.6 84.5 186.5 85.1 186.2 86.0 186.0 86.5 185.5 87.3 185.0 87.9 184.5 88.3 184.0 88.6 183.0 88.9 182.5 89.0Z" fill="#f2f23a"/>
<path d="M186.0 43.0 185.0 43.1 184.0 43.2 183.0 43.2 182.0 43.2 181.0 43.1 180.3 43.0 179.5 42.8 178.9 42.5 178.3 42.0 178.0 41.4 177.9 40.5 177.9 39.5 178.0 39.0 178.5 38.2 179.0 37.8 179.9 37.5 180.5 37.4 181.5 37.3 182.5 37.2 183.5 37.2 184.5 37.2 185.5 37.3 186.5 37.4 187.0 37.6 187.9 38.0 188.4 38.5 188.6 39.0 188.7 40.0 188.7 41.0 188.5 41.6 188.0 42.3 187.5 42.6 186.5 43.0 186.0 43.0Z M224.5 45.0 224.0 45.0 223.9 45.0 223.5 44.9 223.0 44.7 222.6 44.5 222.5 44.4 222.2 44.0 222.1 43.5 222.1 43.0 222.4 42.5 222.5 42.4 223.0 42.1 223.1 42.0 223.5 41.9 224.0 41.8 224.5 41.8 225.0 41.9 225.3 42.0 225.5 42.1 226.0 42.5 226.0 42.5 226.3 43.0 226.3 43.5 226.2 44.0 226.0 44.2 225.8 44.5 225.5 44.7 225.0 44.9 224.6 45.0 224.5 45.0Z M183.0 85.6 182.5 85.8 182.0 85.8 181.5 85.8 181.0 85.6 180.8 85.5 180.5 85.3 180.2 85.0 180.0 84.8 179.8 84.5 179.6 84.0 179.5 83.8 179.4 83.5 179.3 83.0 179.2 82.5 179.2 82.0 179.2 81.5 179.2 81.0 179.2 80.5 179.3 80.0 179.4 79.5 179.5 79.2 179.6 79.0 179.8 78.5 180.0 78.2 180.2 78.0 180.5 77.7 180.8 77.5 181.0 77.4 181.5 77.2 182.0 77.2 182.5 77.2 183.0 77.4 183.2 77.5 183.5 77.7 183.8 78.0 184.0 78.2 184.2 78.5 184.4 79.0 184.5 79.2 184.6 79.5 184.7 80.0 184.8 80.5 184.8 81.0 184.8 81.5 184.8 82.0 184.8 82.5 184.7 83.0 184.6 83.5 184.5 83.8 184.4 84.0 184.2 84.5 184.0 84.8 183.8 85.0 183.5 85.3 183.2 85.5 183.0 85.6Z" fill="#ff9422"/>
<path d="M185.5 42.1 185.0 42.2 184.5 42.2 184.0 42.2 183.5 42.3 183.0 42.3 182.5 42.2 182.0 42.2 181.5 42.2 181.0 42.1 180.6 42.0 180.5 41.9 180.0 41.6 179.9 41.5 179.6 41.0 179.5 40.5 179.5 40.0 179.6 39.5 179.8 39.0 180.0 38.8 180.4 38.5 180.5 38.5 181.0 38.3 181.5 38.2 182.0 38.2 182.5 38.1 183.0 38.1 183.5 38.1 184.0 38.1 184.5 38.2 185.0 38.2 185.5 38.3 186.0 38.4 186.2 38.5 186.5 38.7 186.8 39.0 187.0 39.4 187.0 39.5 187.1 40.0 187.1 40.5 187.0 41.0 187.0 41.0 186.7 41.5 186.5 41.7 186.0 42.0 186.0 42.0 185.5 42.1Z M224.5 43.9 224.0 44.0 223.5 43.6 223.4 43.5 223.5 43.3 223.7 43.0 224.0 42.9 224.5 42.9 224.7 43.0 225.0 43.5 224.5 43.9Z" fill="#f03a1e"/>
</g></g>
<rect x="166.5" y="12" width="91" height="85" fill="none" stroke="#9c9c9c" stroke-width="1.0"/>
<line x1="163.5" y1="20.7" x2="166.5" y2="20.7" stroke="#666" stroke-width="0.8"/>
<text x="161.5" y="22.32" text-anchor="end" font-size="4.5" font-weight="bold" fill="#222" font-family="Liberation Sans, sans-serif">10<tspan font-size="3.24" dy="-1.8">5</tspan></text>
<line x1="163.5" y1="40.3" x2="166.5" y2="40.3" stroke="#666" stroke-width="0.8"/>
<text x="161.5" y="41.92" text-anchor="end" font-size="4.5" font-weight="bold" fill="#222" font-family="Liberation Sans, sans-serif">10<tspan font-size="3.24" dy="-1.8">4</tspan></text>
<line x1="163.5" y1="60" x2="166.5" y2="60" stroke="#666" stroke-width="0.8"/>
<text x="161.5" y="61.62" text-anchor="end" font-size="4.5" font-weight="bold" fill="#222" font-family="Liberation Sans, sans-serif">10<tspan font-size="3.24" dy="-1.8">3</tspan></text>
<line x1="163.5" y1="84.9" x2="166.5" y2="84.9" stroke="#666" stroke-width="0.8"/>
<text x="161.5" y="86.52" text-anchor="end" font-size="4.5" font-weight="bold" fill="#222" font-family="Liberation Sans, sans-serif">0</text>
<path stroke="#777" stroke-width="0.6" d="M165.0 34.40h1.5M165.0 30.95h1.5M165.0 28.50h1.5M165.0 26.60h1.5M165.0 25.05h1.5M165.0 23.74h1.5M165.0 22.60h1.5M165.0 21.60h1.5M165.0 54.07h1.5M165.0 50.60h1.5M165.0 48.14h1.5M165.0 46.23h1.5M165.0 44.67h1.5M165.0 43.35h1.5M165.0 42.21h1.5M165.0 41.20h1.5M165.0 73.63h1.5M165.0 70.20h1.5M165.0 67.76h1.5M165.0 65.87h1.5M165.0 64.33h1.5M165.0 63.02h1.5M165.0 61.89h1.5M165.0 60.89h1.5"/>
<line x1="178.2" y1="97" x2="178.2" y2="99.4" stroke="#666" stroke-width="0.8"/>
<text x="178.2" y="106.7" text-anchor="middle" font-size="4.5" font-weight="bold" fill="#222" font-family="Liberation Sans, sans-serif">0</text>
<line x1="184.3" y1="97" x2="184.3" y2="99.4" stroke="#666" stroke-width="0.8"/>
<text x="185.2" y="106.7" text-anchor="middle" font-size="4.5" font-weight="bold" fill="#222" font-family="Liberation Sans, sans-serif">10<tspan font-size="3.24" dy="-1.8">2</tspan></text>
<line x1="207.3" y1="97" x2="207.3" y2="99.4" stroke="#666" stroke-width="0.8"/>
<text x="208.2" y="106.7" text-anchor="middle" font-size="4.5" font-weight="bold" fill="#222" font-family="Liberation Sans, sans-serif">10<tspan font-size="3.24" dy="-1.8">3</tspan></text>
<line x1="228.7" y1="97" x2="228.7" y2="99.4" stroke="#666" stroke-width="0.8"/>
<text x="229.6" y="106.7" text-anchor="middle" font-size="4.5" font-weight="bold" fill="#222" font-family="Liberation Sans, sans-serif">10<tspan font-size="3.24" dy="-1.8">4</tspan></text>
<line x1="248.4" y1="97" x2="248.4" y2="99.4" stroke="#666" stroke-width="0.8"/>
<text x="249.3" y="106.7" text-anchor="middle" font-size="4.5" font-weight="bold" fill="#222" font-family="Liberation Sans, sans-serif">10<tspan font-size="3.24" dy="-1.8">5</tspan></text>
<path stroke="#777" stroke-width="0.6" d="M191.32 97.0v1.5M195.37 97.0v1.5M198.25 97.0v1.5M200.48 97.0v1.5M202.30 97.0v1.5M203.84 97.0v1.5M205.17 97.0v1.5M206.35 97.0v1.5M213.84 97.0v1.5M217.61 97.0v1.5M220.28 97.0v1.5M222.36 97.0v1.5M224.05 97.0v1.5M225.49 97.0v1.5M226.73 97.0v1.5M227.82 97.0v1.5M234.73 97.0v1.5M238.20 97.0v1.5M240.66 97.0v1.5M242.57 97.0v1.5M244.13 97.0v1.5M245.45 97.0v1.5M246.59 97.0v1.5M247.60 97.0v1.5"/>
<rect x="206.2" y="66.4" width="28.7" height="30.6" fill="none" stroke="#d868d8" stroke-width="1.1"/>
<text x="240.1" y="90.7" text-anchor="middle" font-size="5.0" font-weight="bold" fill="#1a1a1a" font-family="Liberation Sans, sans-serif">6.7</text>
<text transform="translate(147.8 57.5) rotate(-90)" text-anchor="middle" font-size="12.8" font-weight="bold" font-family="Liberation Sans, sans-serif">CD3</text>
<text x="215.5" y="123.3" text-anchor="middle" font-size="12.8" font-weight="bold" font-family="Liberation Sans, sans-serif">CD8<tspan font-weight="normal" font-family="Liberation Serif, serif" font-size="15.5">α</tspan></text>
<line x1="232" y1="79.3" x2="267.6" y2="79.3" stroke="#000" stroke-width="1.5"/>
<polygon points="273.6,79.3 267.1,76 267.1,82.6" fill="#000"/>
<clipPath id="c86"><rect x="299.5" y="12" width="90.5" height="85"/></clipPath>
<g clip-path="url(#c86)">
<path fill="#3a52f5" d="M340.4 37.6h0.9v0.9h-0.9zM338.8 39.3h0.9v0.9h-0.9zM334.8 40.7h0.9v0.9h-0.9zM337.6 40.5h0.9v0.9h-0.9zM338.8 40.7h0.9v0.9h-0.9zM339.8 40.8h0.9v0.9h-0.9zM342.3 40.2h0.9v0.9h-0.9zM346.9 40.3h0.9v0.9h-0.9zM336.0 41.5h0.9v0.9h-0.9zM344.9 41.2h0.9v0.9h-0.9zM345.8 41.8h0.9v0.9h-0.9zM350.5 41.9h0.9v0.9h-0.9zM346.8 42.9h0.9v0.9h-0.9zM331.8 44.0h0.9v0.9h-0.9zM347.8 43.3h0.9v0.9h-0.9zM350.9 44.1h0.9v0.9h-0.9zM328.2 45.2h0.9v0.9h-0.9zM330.1 45.8h0.9v0.9h-0.9zM350.4 45.2h0.9v0.9h-0.9zM328.1 46.9h0.9v0.9h-0.9zM329.5 46.4h0.9v0.9h-0.9zM350.3 46.5h0.9v0.9h-0.9zM353.1 46.9h0.9v0.9h-0.9zM350.7 47.3h0.9v0.9h-0.9zM351.0 48.6h0.9v0.9h-0.9zM325.9 49.9h0.9v0.9h-0.9zM326.8 49.2h0.9v0.9h-0.9zM351.0 49.8h0.9v0.9h-0.9zM352.4 49.1h0.9v0.9h-0.9zM325.3 50.6h0.9v0.9h-0.9zM325.7 51.0h0.9v0.9h-0.9zM326.3 51.6h0.9v0.9h-0.9zM324.7 52.1h0.9v0.9h-0.9zM326.3 52.5h0.9v0.9h-0.9zM325.1 53.1h0.9v0.9h-0.9zM325.6 53.3h0.9v0.9h-0.9zM349.7 53.3h0.9v0.9h-0.9zM350.9 53.5h0.9v0.9h-0.9zM323.2 54.5h0.9v0.9h-0.9zM349.5 55.1h0.9v0.9h-0.9zM324.8 56.5h0.9v0.9h-0.9zM347.6 56.6h0.9v0.9h-0.9zM347.6 57.2h0.9v0.9h-0.9zM329.5 58.1h0.9v0.9h-0.9zM331.4 58.9h0.9v0.9h-0.9zM345.2 58.4h0.9v0.9h-0.9zM347.8 58.5h0.9v0.9h-0.9zM329.2 59.5h0.9v0.9h-0.9zM332.8 59.3h0.9v0.9h-0.9zM336.2 59.2h0.9v0.9h-0.9zM338.1 59.7h0.9v0.9h-0.9zM339.7 59.2h0.9v0.9h-0.9zM341.2 59.5h0.9v0.9h-0.9zM341.8 60.0h0.9v0.9h-0.9zM344.5 59.9h0.9v0.9h-0.9zM345.3 59.2h0.9v0.9h-0.9zM337.5 60.7h0.9v0.9h-0.9zM317.8 36.2h0.9v0.9h-0.9zM313.1 38.4h0.9v0.9h-0.9zM314.6 38.3h0.9v0.9h-0.9zM312.0 39.8h0.9v0.9h-0.9zM316.3 39.9h0.9v0.9h-0.9zM317.0 40.8h0.9v0.9h-0.9zM319.1 40.6h0.9v0.9h-0.9zM323.3 40.3h0.9v0.9h-0.9zM314.5 41.7h0.9v0.9h-0.9zM319.8 41.6h0.9v0.9h-0.9zM306.0 42.2h0.9v0.9h-0.9zM309.7 42.8h0.9v0.9h-0.9zM311.8 43.6h0.9v0.9h-0.9zM316.8 43.5h0.9v0.9h-0.9zM326.2 43.2h0.9v0.9h-0.9zM302.7 44.1h0.9v0.9h-0.9zM308.8 44.1h0.9v0.9h-0.9zM313.9 44.9h0.9v0.9h-0.9zM315.4 44.2h0.9v0.9h-0.9zM317.4 44.7h0.9v0.9h-0.9zM318.3 44.1h0.9v0.9h-0.9zM305.7 45.6h0.9v0.9h-0.9zM306.8 45.4h0.9v0.9h-0.9zM310.6 45.3h0.9v0.9h-0.9zM311.8 45.3h0.9v0.9h-0.9zM315.8 45.9h0.9v0.9h-0.9zM316.5 45.8h0.9v0.9h-0.9zM318.1 45.0h0.9v0.9h-0.9zM324.3 45.9h0.9v0.9h-0.9zM324.6 45.4h0.9v0.9h-0.9zM312.6 46.6h0.9v0.9h-0.9zM314.4 46.6h0.9v0.9h-0.9zM315.0 46.1h0.9v0.9h-0.9zM317.7 46.1h0.9v0.9h-0.9zM323.0 46.5h0.9v0.9h-0.9zM324.6 46.8h0.9v0.9h-0.9zM303.2 47.1h0.9v0.9h-0.9zM305.6 47.9h0.9v0.9h-0.9zM306.8 47.2h0.9v0.9h-0.9zM308.4 47.0h0.9v0.9h-0.9zM311.4 47.5h0.9v0.9h-0.9zM311.7 47.8h0.9v0.9h-0.9zM312.6 47.7h0.9v0.9h-0.9zM313.7 47.1h0.9v0.9h-0.9zM316.0 47.2h0.9v0.9h-0.9zM316.6 47.0h0.9v0.9h-0.9zM320.1 47.4h0.9v0.9h-0.9zM323.3 47.3h0.9v0.9h-0.9zM324.0 47.3h0.9v0.9h-0.9zM305.4 48.9h0.9v0.9h-0.9zM306.3 48.7h0.9v0.9h-0.9zM309.4 49.0h0.9v0.9h-0.9zM309.7 48.2h0.9v0.9h-0.9zM310.7 48.9h0.9v0.9h-0.9zM313.4 48.4h0.9v0.9h-0.9zM315.0 48.1h0.9v0.9h-0.9zM315.8 48.4h0.9v0.9h-0.9zM317.5 48.6h0.9v0.9h-0.9zM317.7 48.6h0.9v0.9h-0.9zM319.3 48.5h0.9v0.9h-0.9zM321.9 48.3h0.9v0.9h-0.9zM323.9 49.0h0.9v0.9h-0.9zM324.9 48.1h0.9v0.9h-0.9zM305.1 49.9h0.9v0.9h-0.9zM306.9 49.9h0.9v0.9h-0.9zM308.6 50.0h0.9v0.9h-0.9zM311.1 49.5h0.9v0.9h-0.9zM311.7 49.6h0.9v0.9h-0.9zM316.3 49.6h0.9v0.9h-0.9zM317.3 49.3h0.9v0.9h-0.9zM318.1 49.9h0.9v0.9h-0.9zM321.8 49.7h0.9v0.9h-0.9zM322.9 50.0h0.9v0.9h-0.9zM324.2 49.9h0.9v0.9h-0.9zM305.4 50.7h0.9v0.9h-0.9zM306.5 50.1h0.9v0.9h-0.9zM308.4 50.1h0.9v0.9h-0.9zM309.2 50.4h0.9v0.9h-0.9zM309.7 50.6h0.9v0.9h-0.9zM311.2 50.5h0.9v0.9h-0.9zM316.3 50.8h0.9v0.9h-0.9zM316.7 50.1h0.9v0.9h-0.9zM317.8 50.2h0.9v0.9h-0.9zM319.8 50.4h0.9v0.9h-0.9zM322.8 50.4h0.9v0.9h-0.9zM303.0 51.7h0.9v0.9h-0.9zM304.9 51.1h0.9v0.9h-0.9zM305.7 51.1h0.9v0.9h-0.9zM306.5 51.1h0.9v0.9h-0.9zM308.0 51.6h0.9v0.9h-0.9zM309.1 51.1h0.9v0.9h-0.9zM310.3 51.7h0.9v0.9h-0.9zM311.0 52.0h0.9v0.9h-0.9zM312.1 51.1h0.9v0.9h-0.9zM313.1 51.5h0.9v0.9h-0.9zM313.8 51.6h0.9v0.9h-0.9zM315.2 51.9h0.9v0.9h-0.9zM315.6 51.1h0.9v0.9h-0.9zM317.3 51.4h0.9v0.9h-0.9zM317.8 51.6h0.9v0.9h-0.9zM319.0 51.1h0.9v0.9h-0.9zM319.8 51.9h0.9v0.9h-0.9zM321.2 52.0h0.9v0.9h-0.9zM322.5 51.6h0.9v0.9h-0.9zM323.2 51.5h0.9v0.9h-0.9zM325.0 51.4h0.9v0.9h-0.9zM325.6 51.1h0.9v0.9h-0.9zM302.4 52.2h0.9v0.9h-0.9zM303.4 52.3h0.9v0.9h-0.9zM305.5 52.1h0.9v0.9h-0.9zM305.8 52.9h0.9v0.9h-0.9zM306.9 52.1h0.9v0.9h-0.9zM308.5 52.1h0.9v0.9h-0.9zM309.6 52.3h0.9v0.9h-0.9zM311.4 52.2h0.9v0.9h-0.9zM313.1 52.8h0.9v0.9h-0.9zM314.2 52.4h0.9v0.9h-0.9zM315.8 52.9h0.9v0.9h-0.9zM317.1 52.5h0.9v0.9h-0.9zM317.6 52.5h0.9v0.9h-0.9zM319.3 52.7h0.9v0.9h-0.9zM319.5 52.7h0.9v0.9h-0.9zM321.5 52.0h0.9v0.9h-0.9zM322.6 52.6h0.9v0.9h-0.9zM324.0 52.3h0.9v0.9h-0.9zM303.8 53.7h0.9v0.9h-0.9zM304.9 53.8h0.9v0.9h-0.9zM305.5 53.1h0.9v0.9h-0.9zM306.6 54.0h0.9v0.9h-0.9zM307.9 53.3h0.9v0.9h-0.9zM309.0 53.7h0.9v0.9h-0.9zM309.9 53.8h0.9v0.9h-0.9zM311.5 53.1h0.9v0.9h-0.9zM313.5 53.6h0.9v0.9h-0.9zM315.0 53.8h0.9v0.9h-0.9zM316.3 53.2h0.9v0.9h-0.9zM317.0 53.7h0.9v0.9h-0.9zM317.6 53.2h0.9v0.9h-0.9zM318.7 53.2h0.9v0.9h-0.9zM320.1 53.5h0.9v0.9h-0.9zM321.5 53.8h0.9v0.9h-0.9zM322.3 53.7h0.9v0.9h-0.9zM322.7 54.0h0.9v0.9h-0.9zM324.9 53.7h0.9v0.9h-0.9zM326.1 53.2h0.9v0.9h-0.9zM302.0 54.5h0.9v0.9h-0.9zM304.2 54.5h0.9v0.9h-0.9zM305.5 54.7h0.9v0.9h-0.9zM305.9 54.1h0.9v0.9h-0.9zM306.8 54.6h0.9v0.9h-0.9zM308.4 54.8h0.9v0.9h-0.9zM309.3 54.6h0.9v0.9h-0.9zM310.2 54.5h0.9v0.9h-0.9zM310.5 54.3h0.9v0.9h-0.9zM311.8 54.3h0.9v0.9h-0.9zM313.3 54.0h0.9v0.9h-0.9zM314.2 54.8h0.9v0.9h-0.9zM314.8 54.2h0.9v0.9h-0.9zM316.0 54.2h0.9v0.9h-0.9zM317.1 54.5h0.9v0.9h-0.9zM318.1 54.9h0.9v0.9h-0.9zM319.4 54.5h0.9v0.9h-0.9zM319.9 54.4h0.9v0.9h-0.9zM321.3 54.2h0.9v0.9h-0.9zM323.1 54.6h0.9v0.9h-0.9zM324.0 54.5h0.9v0.9h-0.9zM302.2 55.5h0.9v0.9h-0.9zM304.4 55.9h0.9v0.9h-0.9zM305.3 55.6h0.9v0.9h-0.9zM305.6 55.3h0.9v0.9h-0.9zM307.4 55.9h0.9v0.9h-0.9zM307.7 55.1h0.9v0.9h-0.9zM308.8 55.0h0.9v0.9h-0.9zM310.3 55.5h0.9v0.9h-0.9zM310.7 55.5h0.9v0.9h-0.9zM311.7 55.9h0.9v0.9h-0.9zM313.4 55.3h0.9v0.9h-0.9zM314.0 55.0h0.9v0.9h-0.9zM315.4 55.3h0.9v0.9h-0.9zM315.8 55.3h0.9v0.9h-0.9zM316.5 55.6h0.9v0.9h-0.9zM318.0 55.6h0.9v0.9h-0.9zM318.8 55.5h0.9v0.9h-0.9zM319.7 56.0h0.9v0.9h-0.9zM320.9 55.3h0.9v0.9h-0.9zM322.0 55.6h0.9v0.9h-0.9zM323.0 55.3h0.9v0.9h-0.9zM323.8 55.6h0.9v0.9h-0.9zM324.9 55.4h0.9v0.9h-0.9zM325.8 55.1h0.9v0.9h-0.9zM327.2 55.3h0.9v0.9h-0.9zM302.8 56.9h0.9v0.9h-0.9zM305.3 56.2h0.9v0.9h-0.9zM306.0 56.9h0.9v0.9h-0.9zM307.3 56.3h0.9v0.9h-0.9zM308.5 56.1h0.9v0.9h-0.9zM309.1 56.9h0.9v0.9h-0.9zM310.0 56.0h0.9v0.9h-0.9zM310.7 57.0h0.9v0.9h-0.9zM311.9 56.9h0.9v0.9h-0.9zM313.5 56.1h0.9v0.9h-0.9zM313.7 56.3h0.9v0.9h-0.9zM315.3 56.1h0.9v0.9h-0.9zM316.1 56.7h0.9v0.9h-0.9zM318.3 56.9h0.9v0.9h-0.9zM318.9 56.0h0.9v0.9h-0.9zM319.5 56.8h0.9v0.9h-0.9zM320.7 56.9h0.9v0.9h-0.9zM322.2 56.6h0.9v0.9h-0.9zM322.7 56.3h0.9v0.9h-0.9zM324.3 56.0h0.9v0.9h-0.9zM324.9 56.7h0.9v0.9h-0.9zM303.4 57.6h0.9v0.9h-0.9zM303.5 57.2h0.9v0.9h-0.9zM304.9 57.8h0.9v0.9h-0.9zM306.1 57.5h0.9v0.9h-0.9zM306.7 57.8h0.9v0.9h-0.9zM308.1 57.1h0.9v0.9h-0.9zM309.1 57.7h0.9v0.9h-0.9zM310.5 57.9h0.9v0.9h-0.9zM310.5 57.6h0.9v0.9h-0.9zM312.4 57.1h0.9v0.9h-0.9zM312.5 57.6h0.9v0.9h-0.9zM314.3 58.0h0.9v0.9h-0.9zM314.8 57.4h0.9v0.9h-0.9zM316.5 57.7h0.9v0.9h-0.9zM317.1 57.2h0.9v0.9h-0.9zM317.9 57.1h0.9v0.9h-0.9zM319.2 57.3h0.9v0.9h-0.9zM320.2 57.5h0.9v0.9h-0.9zM321.3 57.9h0.9v0.9h-0.9zM322.3 57.0h0.9v0.9h-0.9zM323.4 57.9h0.9v0.9h-0.9zM324.4 57.2h0.9v0.9h-0.9zM327.4 57.9h0.9v0.9h-0.9zM303.0 58.9h0.9v0.9h-0.9zM303.7 58.8h0.9v0.9h-0.9zM304.6 58.9h0.9v0.9h-0.9zM306.1 58.1h0.9v0.9h-0.9zM307.0 58.2h0.9v0.9h-0.9zM308.1 59.0h0.9v0.9h-0.9zM309.3 59.0h0.9v0.9h-0.9zM309.6 58.6h0.9v0.9h-0.9zM310.7 58.5h0.9v0.9h-0.9zM311.5 58.1h0.9v0.9h-0.9zM312.9 58.6h0.9v0.9h-0.9zM313.5 58.2h0.9v0.9h-0.9zM314.7 58.3h0.9v0.9h-0.9zM315.6 58.5h0.9v0.9h-0.9zM317.3 58.2h0.9v0.9h-0.9zM318.5 58.3h0.9v0.9h-0.9zM319.0 58.3h0.9v0.9h-0.9zM320.2 58.5h0.9v0.9h-0.9zM320.8 58.2h0.9v0.9h-0.9zM323.4 58.3h0.9v0.9h-0.9zM324.1 58.0h0.9v0.9h-0.9zM303.0 59.3h0.9v0.9h-0.9zM303.7 60.0h0.9v0.9h-0.9zM305.1 59.2h0.9v0.9h-0.9zM306.3 59.7h0.9v0.9h-0.9zM310.1 59.3h0.9v0.9h-0.9zM310.6 59.8h0.9v0.9h-0.9zM312.5 59.9h0.9v0.9h-0.9zM312.7 59.8h0.9v0.9h-0.9zM313.7 59.1h0.9v0.9h-0.9zM318.2 59.4h0.9v0.9h-0.9zM319.4 59.0h0.9v0.9h-0.9zM320.3 59.7h0.9v0.9h-0.9zM322.9 59.5h0.9v0.9h-0.9zM324.6 59.0h0.9v0.9h-0.9zM305.5 60.2h0.9v0.9h-0.9zM309.3 60.5h0.9v0.9h-0.9zM309.7 60.6h0.9v0.9h-0.9zM313.4 60.7h0.9v0.9h-0.9zM319.4 60.4h0.9v0.9h-0.9zM321.7 61.0h0.9v0.9h-0.9z"/>
<g filter="url(#bl)">
<path d="M343.0 59.5 342.0 59.7 341.0 59.8 340.0 59.8 339.0 59.8 338.0 59.8 337.0 59.8 336.0 59.7 335.0 59.6 334.5 59.5 333.5 59.3 332.5 59.1 332.0 59.0 331.0 58.6 330.5 58.4 329.6 58.0 329.0 57.6 328.5 57.3 328.0 56.8 327.5 56.2 327.1 55.5 326.9 55.0 326.8 54.0 326.8 53.0 326.9 52.0 327.0 51.4 327.3 50.5 327.5 50.0 328.0 49.3 328.5 48.6 329.0 48.0 329.5 47.5 330.0 47.0 330.5 46.5 331.0 46.1 331.5 45.7 332.0 45.3 332.5 44.9 333.1 44.5 333.8 44.0 334.5 43.6 335.0 43.3 335.5 43.0 336.4 42.5 337.0 42.2 337.5 41.9 338.3 41.5 339.0 41.2 340.0 41.2 341.0 41.2 342.0 41.3 343.0 41.5 343.5 41.6 344.5 41.8 345.0 42.0 346.0 42.4 346.5 42.7 347.0 43.0 347.6 43.5 348.2 44.0 348.6 44.5 349.0 45.0 349.5 45.8 349.9 46.5 350.2 47.0 350.5 47.8 350.7 48.5 350.9 49.5 350.9 50.5 350.9 51.5 350.7 52.5 350.5 53.4 350.3 54.0 350.0 54.6 349.5 55.4 349.0 56.0 348.6 56.5 348.2 57.0 347.6 57.5 347.0 58.0 346.5 58.3 346.0 58.6 345.0 59.0 344.5 59.2 343.5 59.4 343.0 59.5Z" fill="#2f4af2"/>
<path d="M343.0 58.1 342.0 58.2 341.0 58.2 340.0 58.2 339.0 58.1 338.5 58.0 337.5 57.8 336.8 57.5 336.0 57.2 335.5 56.9 334.9 56.5 334.3 56.0 333.8 55.5 333.4 55.0 333.0 54.4 332.6 53.5 332.4 53.0 332.2 52.0 332.1 51.0 332.1 50.0 332.2 49.0 332.5 48.0 332.6 47.5 333.0 46.8 333.5 46.1 334.0 45.5 334.5 45.0 335.0 44.6 335.5 44.3 336.1 44.0 337.0 43.6 337.5 43.4 338.5 43.2 339.5 43.1 340.5 43.0 341.0 43.0 341.5 43.0 342.5 43.1 343.5 43.2 344.5 43.4 345.0 43.6 345.9 44.0 346.5 44.3 347.0 44.6 347.5 45.0 348.0 45.5 348.5 46.1 349.0 46.8 349.4 47.5 349.5 48.0 349.8 49.0 349.9 50.0 349.9 51.0 349.8 52.0 349.6 53.0 349.4 53.5 349.0 54.4 348.6 55.0 348.2 55.5 347.7 56.0 347.1 56.5 346.5 56.9 346.0 57.2 345.2 57.5 344.5 57.8 343.5 58.0 343.0 58.1Z" fill="#2f9cf8"/>
<path d="M344.0 56.6 343.0 56.8 342.0 56.9 341.0 57.0 340.0 56.9 339.0 56.8 338.0 56.6 337.5 56.4 336.7 56.0 336.0 55.6 335.5 55.2 335.0 54.7 334.5 54.1 334.2 53.5 333.9 53.0 333.6 52.0 333.5 51.0 333.5 50.0 333.7 49.0 334.0 48.1 334.3 47.5 334.6 47.0 335.0 46.5 335.5 46.0 336.2 45.5 337.0 45.0 337.5 44.8 338.5 44.5 339.0 44.4 340.0 44.3 341.0 44.2 342.0 44.3 343.0 44.4 343.5 44.5 344.5 44.8 345.0 45.0 345.8 45.5 346.5 46.0 347.0 46.5 347.4 47.0 347.7 47.5 348.0 48.1 348.3 49.0 348.5 50.0 348.5 51.0 348.4 52.0 348.1 53.0 347.8 53.5 347.5 54.1 347.0 54.7 346.5 55.2 346.0 55.6 345.3 56.0 344.5 56.4 344.0 56.6Z" fill="#3ee0f0"/>
<path d="M343.0 55.6 342.0 55.8 341.0 55.8 340.0 55.8 339.0 55.6 338.5 55.4 337.5 55.0 337.0 54.7 336.5 54.3 336.0 53.8 335.5 53.1 335.2 52.5 335.0 51.7 334.9 51.0 334.9 50.0 335.0 49.5 335.3 48.5 335.5 48.0 336.0 47.4 336.5 46.9 337.0 46.5 337.9 46.0 338.5 45.8 339.5 45.5 340.0 45.4 341.0 45.4 342.0 45.4 342.5 45.5 343.5 45.8 344.1 46.0 345.0 46.5 345.5 46.9 346.0 47.4 346.5 48.0 346.7 48.5 347.0 49.5 347.1 50.0 347.1 51.0 347.0 51.7 346.8 52.5 346.5 53.1 346.0 53.8 345.5 54.3 345.0 54.7 344.5 55.0 343.5 55.4 343.0 55.6Z" fill="#66f266"/>
<path d="M342.5 54.1 341.5 54.2 340.5 54.2 339.5 54.1 339.0 53.9 338.2 53.5 337.6 53.0 337.2 52.5 337.0 52.0 336.7 51.0 336.8 50.0 337.0 49.1 337.3 48.5 337.8 48.0 338.5 47.5 339.0 47.3 340.0 47.0 340.5 47.0 341.5 47.0 342.0 47.0 343.0 47.3 343.5 47.5 344.2 48.0 344.7 48.5 345.0 49.1 345.2 50.0 345.3 51.0 345.0 52.0 344.8 52.5 344.4 53.0 343.8 53.5 343.0 53.9 342.5 54.1Z" fill="#f2f23a"/>
<path d="M342.0 53.1 341.5 53.1 341.0 53.2 340.5 53.1 340.0 53.1 339.8 53.0 339.5 52.9 339.0 52.6 338.8 52.5 338.5 52.2 338.4 52.0 338.1 51.5 338.0 51.0 338.0 50.9 338.0 50.5 338.0 50.3 338.0 50.0 338.2 49.5 338.5 49.0 338.5 49.0 339.0 48.6 339.1 48.5 339.5 48.3 340.0 48.1 340.5 48.1 341.0 48.0 341.5 48.1 342.0 48.1 342.5 48.3 342.9 48.5 343.0 48.6 343.5 49.0 343.5 49.0 343.8 49.5 344.0 50.0 344.0 50.3 344.0 50.5 344.0 50.9 344.0 51.0 343.9 51.5 343.6 52.0 343.5 52.2 343.2 52.5 343.0 52.6 342.5 52.9 342.2 53.0 342.0 53.1Z" fill="#ff9422"/>
<path d="M342.0 52.0 341.5 52.2 341.0 52.2 340.5 52.2 340.0 52.0 339.9 52.0 339.5 51.7 339.4 51.5 339.1 51.0 339.1 50.5 339.2 50.0 339.5 49.5 339.5 49.5 340.0 49.2 340.5 49.0 340.6 49.0 341.0 49.0 341.4 49.0 341.5 49.0 342.0 49.2 342.5 49.5 342.5 49.5 342.8 50.0 342.9 50.5 342.9 51.0 342.6 51.5 342.5 51.7 342.1 52.0 342.0 52.0Z" fill="#f03a1e"/>
</g></g>
<rect x="299.5" y="12" width="90.5" height="85" fill="none" stroke="#9c9c9c" stroke-width="1.0"/>
<line x1="296.5" y1="20.2" x2="299.5" y2="20.2" stroke="#666" stroke-width="0.8"/>
<text x="294.5" y="21.82" text-anchor="end" font-size="4.5" font-weight="bold" fill="#222" font-family="Liberation Sans, sans-serif">10<tspan font-size="3.24" dy="-1.8">5</tspan></text>
<line x1="296.5" y1="39" x2="299.5" y2="39" stroke="#666" stroke-width="0.8"/>
<text x="294.5" y="40.62" text-anchor="end" font-size="4.5" font-weight="bold" fill="#222" font-family="Liberation Sans, sans-serif">10<tspan font-size="3.24" dy="-1.8">4</tspan></text>
<line x1="296.5" y1="58.4" x2="299.5" y2="58.4" stroke="#666" stroke-width="0.8"/>
<text x="294.5" y="60.02" text-anchor="end" font-size="4.5" font-weight="bold" fill="#222" font-family="Liberation Sans, sans-serif">10<tspan font-size="3.24" dy="-1.8">3</tspan></text>
<line x1="296.5" y1="79.4" x2="299.5" y2="79.4" stroke="#666" stroke-width="0.8"/>
<text x="294.5" y="81.02" text-anchor="end" font-size="4.5" font-weight="bold" fill="#222" font-family="Liberation Sans, sans-serif">10<tspan font-size="3.24" dy="-1.8">2</tspan></text>
<line x1="296.5" y1="86.6" x2="299.5" y2="86.6" stroke="#666" stroke-width="0.8"/>
<text x="294.5" y="88.22" text-anchor="end" font-size="4.5" font-weight="bold" fill="#222" font-family="Liberation Sans, sans-serif">0</text>
<path stroke="#777" stroke-width="0.6" d="M298.0 33.34h1.5M298.0 30.03h1.5M298.0 27.68h1.5M298.0 25.86h1.5M298.0 24.37h1.5M298.0 23.11h1.5M298.0 22.02h1.5M298.0 21.06h1.5M298.0 52.56h1.5M298.0 49.14h1.5M298.0 46.72h1.5M298.0 44.84h1.5M298.0 43.30h1.5M298.0 42.01h1.5M298.0 40.88h1.5M298.0 39.89h1.5M298.0 73.08h1.5M298.0 69.38h1.5M298.0 66.76h1.5M298.0 64.72h1.5M298.0 63.06h1.5M298.0 61.65h1.5M298.0 60.44h1.5M298.0 59.36h1.5"/>
<line x1="309.7" y1="97" x2="309.7" y2="99.4" stroke="#666" stroke-width="0.8"/>
<text x="309.7" y="106.2" text-anchor="middle" font-size="4.5" font-weight="bold" fill="#222" font-family="Liberation Sans, sans-serif">0</text>
<line x1="317.7" y1="97" x2="317.7" y2="99.4" stroke="#666" stroke-width="0.8"/>
<text x="318.6" y="106.2" text-anchor="middle" font-size="4.5" font-weight="bold" fill="#222" font-family="Liberation Sans, sans-serif">10<tspan font-size="3.24" dy="-1.8">2</tspan></text>
<line x1="338.9" y1="97" x2="338.9" y2="99.4" stroke="#666" stroke-width="0.8"/>
<text x="339.8" y="106.2" text-anchor="middle" font-size="4.5" font-weight="bold" fill="#222" font-family="Liberation Sans, sans-serif">10<tspan font-size="3.24" dy="-1.8">3</tspan></text>
<line x1="359.3" y1="97" x2="359.3" y2="99.4" stroke="#666" stroke-width="0.8"/>
<text x="360.2" y="106.2" text-anchor="middle" font-size="4.5" font-weight="bold" fill="#222" font-family="Liberation Sans, sans-serif">10<tspan font-size="3.24" dy="-1.8">4</tspan></text>
<line x1="379.6" y1="97" x2="379.6" y2="99.4" stroke="#666" stroke-width="0.8"/>
<text x="380.5" y="106.2" text-anchor="middle" font-size="4.5" font-weight="bold" fill="#222" font-family="Liberation Sans, sans-serif">10<tspan font-size="3.24" dy="-1.8">5</tspan></text>
<path stroke="#777" stroke-width="0.6" d="M324.18 97.0v1.5M327.91 97.0v1.5M330.56 97.0v1.5M332.62 97.0v1.5M334.30 97.0v1.5M335.72 97.0v1.5M336.95 97.0v1.5M338.03 97.0v1.5M345.14 97.0v1.5M348.73 97.0v1.5M351.28 97.0v1.5M353.26 97.0v1.5M354.87 97.0v1.5M356.24 97.0v1.5M357.42 97.0v1.5M358.47 97.0v1.5M365.51 97.0v1.5M369.09 97.0v1.5M371.62 97.0v1.5M373.59 97.0v1.5M375.20 97.0v1.5M376.56 97.0v1.5M377.73 97.0v1.5M378.77 97.0v1.5"/>
<rect x="325.3" y="37.3" width="30.2" height="31.2" fill="none" stroke="#d868d8" stroke-width="1.1"/>
<text x="348.8" y="33.9" text-anchor="middle" font-size="5.0" font-weight="bold" fill="#1a1a1a" font-family="Liberation Sans, sans-serif">95.1</text>
<text transform="translate(282.4 53.7) rotate(-90)" text-anchor="middle" font-size="12.8" font-weight="bold" font-family="Liberation Sans, sans-serif">CD8<tspan font-weight="normal" font-family="Liberation Serif, serif" font-size="15.5">α</tspan></text>
<text x="345.3" y="123.4" text-anchor="middle" font-size="12.8" font-weight="bold" font-family="Liberation Sans, sans-serif">NKG2A</text>
<line x1="355.5" y1="56.3" x2="392.7" y2="56.3" stroke="#000" stroke-width="1.5"/>
<polygon points="398.7,56.3 392.2,53 392.2,59.6" fill="#000"/>
<clipPath id="c4"><rect x="429.5" y="11.5" width="88.5" height="85.5"/></clipPath><g clip-path="url(#c4)">
<path fill="#222" d="M487.3 16.3h0.8v0.8h-0.8zM433.7 16.5h0.8v0.8h-0.8zM436.9 16.8h0.8v0.8h-0.8zM498.1 17.0h0.8v0.8h-0.8zM446.6 18.4h0.8v0.8h-0.8zM484.6 17.8h0.8v0.8h-0.8zM469.4 18.9h0.8v0.8h-0.8zM482.4 19.2h0.8v0.8h-0.8zM442.6 20.8h0.8v0.8h-0.8zM454.6 21.4h0.8v0.8h-0.8zM465.5 21.5h0.8v0.8h-0.8zM478.6 22.1h0.8v0.8h-0.8zM447.7 23.3h0.8v0.8h-0.8zM449.9 23.0h0.8v0.8h-0.8zM451.4 22.5h0.8v0.8h-0.8zM454.2 22.8h0.8v0.8h-0.8zM462.8 23.6h0.8v0.8h-0.8zM438.6 24.8h0.8v0.8h-0.8zM459.8 23.8h0.8v0.8h-0.8zM440.9 26.1h0.8v0.8h-0.8zM453.3 25.0h0.8v0.8h-0.8zM455.5 25.1h0.8v0.8h-0.8zM477.5 26.1h0.8v0.8h-0.8zM443.7 27.1h0.8v0.8h-0.8zM445.3 27.2h0.8v0.8h-0.8zM446.1 26.3h0.8v0.8h-0.8zM460.7 26.2h0.8v0.8h-0.8zM463.8 26.8h0.8v0.8h-0.8zM477.6 26.9h0.8v0.8h-0.8zM441.4 27.8h0.8v0.8h-0.8zM461.4 28.0h0.8v0.8h-0.8zM475.2 27.9h0.8v0.8h-0.8zM475.3 27.4h0.8v0.8h-0.8zM440.4 28.8h0.8v0.8h-0.8zM459.3 28.7h0.8v0.8h-0.8zM461.6 29.3h0.8v0.8h-0.8zM468.0 28.8h0.8v0.8h-0.8zM475.8 29.5h0.8v0.8h-0.8zM434.8 30.9h0.8v0.8h-0.8zM460.6 30.5h0.8v0.8h-0.8zM481.6 30.9h0.8v0.8h-0.8zM431.8 31.3h0.8v0.8h-0.8zM442.1 31.2h0.8v0.8h-0.8zM461.7 31.9h0.8v0.8h-0.8zM466.3 31.1h0.8v0.8h-0.8zM472.5 32.0h0.8v0.8h-0.8zM484.0 32.0h0.8v0.8h-0.8zM437.6 32.3h0.8v0.8h-0.8zM442.5 32.4h0.8v0.8h-0.8zM465.3 33.3h0.8v0.8h-0.8zM471.8 32.6h0.8v0.8h-0.8zM463.0 33.4h0.8v0.8h-0.8zM470.8 34.1h0.8v0.8h-0.8zM479.3 34.2h0.8v0.8h-0.8zM432.3 35.2h0.8v0.8h-0.8zM439.3 35.4h0.8v0.8h-0.8zM462.3 35.6h0.8v0.8h-0.8zM469.9 35.5h0.8v0.8h-0.8zM479.0 34.7h0.8v0.8h-0.8zM486.8 34.7h0.8v0.8h-0.8zM489.9 35.1h0.8v0.8h-0.8zM438.2 35.9h0.8v0.8h-0.8zM462.4 36.9h0.8v0.8h-0.8zM464.6 36.9h0.8v0.8h-0.8zM482.5 35.8h0.8v0.8h-0.8zM435.5 38.0h0.8v0.8h-0.8zM439.3 37.1h0.8v0.8h-0.8zM464.3 36.9h0.8v0.8h-0.8zM478.5 37.4h0.8v0.8h-0.8zM481.5 38.0h0.8v0.8h-0.8zM435.7 38.7h0.8v0.8h-0.8zM477.7 39.2h0.8v0.8h-0.8zM487.5 38.5h0.8v0.8h-0.8zM429.4 40.0h0.8v0.8h-0.8zM436.7 40.1h0.8v0.8h-0.8zM438.0 40.3h0.8v0.8h-0.8zM463.2 39.3h0.8v0.8h-0.8zM468.6 39.9h0.8v0.8h-0.8zM478.1 39.5h0.8v0.8h-0.8zM486.9 40.2h0.8v0.8h-0.8zM436.5 41.7h0.8v0.8h-0.8zM437.9 41.1h0.8v0.8h-0.8zM465.1 40.5h0.8v0.8h-0.8zM468.0 41.2h0.8v0.8h-0.8zM471.6 40.9h0.8v0.8h-0.8zM431.4 42.9h0.8v0.8h-0.8zM470.4 42.3h0.8v0.8h-0.8zM470.8 42.6h0.8v0.8h-0.8zM479.8 42.7h0.8v0.8h-0.8zM481.3 42.7h0.8v0.8h-0.8zM486.0 41.8h0.8v0.8h-0.8zM486.3 42.5h0.8v0.8h-0.8zM438.1 43.7h0.8v0.8h-0.8zM461.4 43.9h0.8v0.8h-0.8zM462.7 44.1h0.8v0.8h-0.8zM469.1 43.6h0.8v0.8h-0.8zM469.6 43.8h0.8v0.8h-0.8zM494.1 44.1h0.8v0.8h-0.8zM464.5 45.1h0.8v0.8h-0.8zM471.3 45.2h0.8v0.8h-0.8zM474.9 44.4h0.8v0.8h-0.8zM475.9 44.2h0.8v0.8h-0.8zM478.5 44.1h0.8v0.8h-0.8zM484.5 44.1h0.8v0.8h-0.8zM439.9 46.3h0.8v0.8h-0.8zM441.9 45.6h0.8v0.8h-0.8zM465.7 46.0h0.8v0.8h-0.8zM468.1 45.5h0.8v0.8h-0.8zM468.6 45.4h0.8v0.8h-0.8zM471.4 46.2h0.8v0.8h-0.8zM473.3 46.2h0.8v0.8h-0.8zM481.2 46.3h0.8v0.8h-0.8zM482.8 45.5h0.8v0.8h-0.8zM489.5 45.8h0.8v0.8h-0.8zM499.4 45.6h0.8v0.8h-0.8zM459.0 47.2h0.8v0.8h-0.8zM462.0 47.1h0.8v0.8h-0.8zM464.2 47.5h0.8v0.8h-0.8zM468.8 47.2h0.8v0.8h-0.8zM472.5 47.3h0.8v0.8h-0.8zM477.3 47.0h0.8v0.8h-0.8zM477.9 47.0h0.8v0.8h-0.8zM484.9 46.9h0.8v0.8h-0.8zM487.0 47.3h0.8v0.8h-0.8zM494.5 47.3h0.8v0.8h-0.8zM498.9 47.5h0.8v0.8h-0.8zM499.9 47.4h0.8v0.8h-0.8zM456.3 48.3h0.8v0.8h-0.8zM469.5 48.6h0.8v0.8h-0.8zM471.1 48.7h0.8v0.8h-0.8zM478.0 48.4h0.8v0.8h-0.8zM484.6 48.7h0.8v0.8h-0.8zM439.6 50.0h0.8v0.8h-0.8zM442.6 49.0h0.8v0.8h-0.8zM449.0 49.8h0.8v0.8h-0.8zM453.2 49.8h0.8v0.8h-0.8zM456.5 50.0h0.8v0.8h-0.8zM466.7 49.0h0.8v0.8h-0.8zM483.5 49.9h0.8v0.8h-0.8zM486.6 48.9h0.8v0.8h-0.8zM487.9 49.4h0.8v0.8h-0.8zM495.1 49.4h0.8v0.8h-0.8zM431.4 50.7h0.8v0.8h-0.8zM437.8 50.8h0.8v0.8h-0.8zM439.5 51.0h0.8v0.8h-0.8zM443.5 50.4h0.8v0.8h-0.8zM447.3 50.8h0.8v0.8h-0.8zM448.4 50.8h0.8v0.8h-0.8zM457.5 50.7h0.8v0.8h-0.8zM461.3 50.6h0.8v0.8h-0.8zM465.4 51.2h0.8v0.8h-0.8zM472.4 50.6h0.8v0.8h-0.8zM477.8 50.9h0.8v0.8h-0.8zM482.5 51.2h0.8v0.8h-0.8zM483.8 50.9h0.8v0.8h-0.8zM432.3 51.9h0.8v0.8h-0.8zM434.9 51.3h0.8v0.8h-0.8zM436.2 51.3h0.8v0.8h-0.8zM438.0 51.9h0.8v0.8h-0.8zM447.9 51.6h0.8v0.8h-0.8zM457.3 51.8h0.8v0.8h-0.8zM459.2 52.2h0.8v0.8h-0.8zM469.8 51.7h0.8v0.8h-0.8zM471.3 52.5h0.8v0.8h-0.8zM474.4 52.2h0.8v0.8h-0.8zM476.2 51.8h0.8v0.8h-0.8zM480.0 52.1h0.8v0.8h-0.8zM483.5 51.7h0.8v0.8h-0.8zM436.0 53.6h0.8v0.8h-0.8zM445.3 53.0h0.8v0.8h-0.8zM445.5 52.9h0.8v0.8h-0.8zM447.0 53.0h0.8v0.8h-0.8zM453.3 53.6h0.8v0.8h-0.8zM458.3 53.0h0.8v0.8h-0.8zM465.3 52.7h0.8v0.8h-0.8zM473.2 53.3h0.8v0.8h-0.8zM481.0 52.9h0.8v0.8h-0.8zM442.6 54.0h0.8v0.8h-0.8zM448.3 54.6h0.8v0.8h-0.8zM451.2 54.7h0.8v0.8h-0.8zM454.7 54.9h0.8v0.8h-0.8zM457.9 54.3h0.8v0.8h-0.8zM467.0 54.5h0.8v0.8h-0.8zM474.9 53.7h0.8v0.8h-0.8zM478.6 53.8h0.8v0.8h-0.8zM498.3 53.9h0.8v0.8h-0.8zM442.8 55.8h0.8v0.8h-0.8zM443.6 55.8h0.8v0.8h-0.8zM448.0 55.0h0.8v0.8h-0.8zM449.7 55.9h0.8v0.8h-0.8zM450.4 56.0h0.8v0.8h-0.8zM453.5 56.1h0.8v0.8h-0.8zM456.1 56.0h0.8v0.8h-0.8zM460.6 55.0h0.8v0.8h-0.8zM467.4 55.4h0.8v0.8h-0.8zM472.4 54.9h0.8v0.8h-0.8zM475.8 54.9h0.8v0.8h-0.8zM434.0 56.8h0.8v0.8h-0.8zM439.8 56.2h0.8v0.8h-0.8zM443.2 57.1h0.8v0.8h-0.8zM446.8 56.6h0.8v0.8h-0.8zM449.0 56.4h0.8v0.8h-0.8zM451.3 56.6h0.8v0.8h-0.8zM462.0 56.2h0.8v0.8h-0.8zM463.6 56.8h0.8v0.8h-0.8zM467.6 56.4h0.8v0.8h-0.8zM469.2 56.1h0.8v0.8h-0.8zM470.3 57.1h0.8v0.8h-0.8zM474.6 57.2h0.8v0.8h-0.8zM476.5 57.1h0.8v0.8h-0.8zM476.7 57.0h0.8v0.8h-0.8zM499.3 57.1h0.8v0.8h-0.8zM442.2 57.5h0.8v0.8h-0.8zM445.3 58.0h0.8v0.8h-0.8zM450.2 57.6h0.8v0.8h-0.8zM454.9 57.5h0.8v0.8h-0.8zM456.4 57.5h0.8v0.8h-0.8zM459.0 57.5h0.8v0.8h-0.8zM467.9 58.4h0.8v0.8h-0.8zM476.5 57.5h0.8v0.8h-0.8zM438.8 58.5h0.8v0.8h-0.8zM440.6 58.5h0.8v0.8h-0.8zM447.1 58.7h0.8v0.8h-0.8zM450.1 59.2h0.8v0.8h-0.8zM450.1 58.5h0.8v0.8h-0.8zM453.0 58.6h0.8v0.8h-0.8zM454.8 58.6h0.8v0.8h-0.8zM456.3 59.6h0.8v0.8h-0.8zM458.2 58.6h0.8v0.8h-0.8zM464.1 59.3h0.8v0.8h-0.8zM507.8 59.1h0.8v0.8h-0.8zM432.7 60.3h0.8v0.8h-0.8zM442.3 60.0h0.8v0.8h-0.8zM453.6 60.4h0.8v0.8h-0.8zM456.2 60.8h0.8v0.8h-0.8zM432.2 61.6h0.8v0.8h-0.8zM439.8 61.6h0.8v0.8h-0.8zM442.4 61.4h0.8v0.8h-0.8zM446.0 61.0h0.8v0.8h-0.8zM467.7 61.9h0.8v0.8h-0.8zM472.4 62.0h0.8v0.8h-0.8zM429.6 62.5h0.8v0.8h-0.8zM430.7 62.4h0.8v0.8h-0.8zM467.2 62.9h0.8v0.8h-0.8zM473.9 62.6h0.8v0.8h-0.8zM430.4 63.5h0.8v0.8h-0.8zM433.2 64.1h0.8v0.8h-0.8zM437.9 64.5h0.8v0.8h-0.8zM438.5 64.2h0.8v0.8h-0.8zM441.6 64.2h0.8v0.8h-0.8zM472.9 63.3h0.8v0.8h-0.8zM438.9 65.1h0.8v0.8h-0.8zM466.3 65.5h0.8v0.8h-0.8zM468.7 65.2h0.8v0.8h-0.8zM431.8 66.2h0.8v0.8h-0.8zM434.5 66.5h0.8v0.8h-0.8zM428.6 67.7h0.8v0.8h-0.8zM433.5 68.0h0.8v0.8h-0.8zM435.8 67.6h0.8v0.8h-0.8zM515.9 67.0h0.8v0.8h-0.8zM436.8 69.3h0.8v0.8h-0.8zM433.6 70.5h0.8v0.8h-0.8zM428.8 74.1h0.8v0.8h-0.8zM429.1 75.9h0.8v0.8h-0.8zM430.3 77.6h0.8v0.8h-0.8zM431.7 81.4h0.8v0.8h-0.8zM428.6 83.2h0.8v0.8h-0.8zM501.0 82.9h0.8v0.8h-0.8zM432.1 85.3h0.8v0.8h-0.8zM431.6 87.4h0.8v0.8h-0.8zM456.8 88.0h0.8v0.8h-0.8zM460.1 88.5h0.8v0.8h-0.8zM432.1 88.8h0.8v0.8h-0.8zM444.0 89.7h0.8v0.8h-0.8zM452.6 90.2h0.8v0.8h-0.8zM444.3 91.4h0.8v0.8h-0.8zM458.6 93.6h0.8v0.8h-0.8zM469.3 93.9h0.8v0.8h-0.8z"/>
<path d="M487 68 C490 62 496 65 497.5 72 C499 82 498 93 493 95 C487 93 486 82 487 68Z" fill="#444" opacity="0.55" filter="url(#bl)"/>
<path d="M490 73 C492 70 495 72 496 76 C497 83 496 90 494 90 C491 89 490 82 490 73Z" fill="#111" opacity="0.6" filter="url(#bl)"/>
<g fill="none" stroke="#444" stroke-width="0.45">
<path d="M454.7 49.2 453.9 49.3 453.1 49.3 452.3 49.3 451.5 49.4 450.7 49.4 449.9 49.4 449.1 49.4 448.3 49.4 447.5 49.3 446.7 49.2 446.3 49.0 445.5 48.7 445.1 48.5 444.7 48.3 444.3 47.9 443.9 47.5 443.5 47.0 443.2 46.3 443.0 45.9 442.7 45.1 442.7 44.7 442.5 43.9 442.4 43.1 442.4 42.3 442.4 41.5 442.4 40.7 442.4 39.9 442.4 39.1 442.5 38.3 442.6 37.5 442.7 36.9 442.8 36.3 443.0 35.5 443.1 35.1 443.4 34.3 443.6 33.9 443.9 33.2 444.1 32.7 444.3 32.3 444.7 31.6 445.0 31.1 445.2 30.7 445.5 30.3 445.9 29.8 446.3 29.3 446.7 28.9 447.1 28.6 447.5 28.3 448.2 27.9 448.7 27.6 449.1 27.5 449.9 27.3 450.7 27.1 451.5 27.1 452.3 27.2 453.1 27.3 453.9 27.5 454.3 27.6 455.1 27.9 455.5 28.0 456.1 28.3 456.7 28.6 457.1 28.9 457.5 29.1 458.0 29.5 458.4 29.9 458.8 30.3 459.1 30.7 459.5 31.2 459.9 31.9 460.1 32.3 460.4 32.7 460.7 33.4 461.0 33.9 461.1 34.3 461.5 35.1 461.7 35.5 461.9 36.2 462.1 36.7 462.3 37.4 462.4 37.9 462.6 38.7 462.7 39.5 462.7 39.9 462.7 40.4 462.6 41.1 462.5 41.9 462.3 42.6 462.1 43.1 461.9 43.5 461.5 44.3 461.2 44.7 460.9 45.1 460.6 45.5 460.3 45.9 459.9 46.3 459.5 46.7 459.0 47.1 458.5 47.5 457.9 47.9 457.5 48.2 457.1 48.4 456.3 48.7 455.9 48.9 455.1 49.1 454.7 49.2Z M497.1 97.1 496.3 97.2 495.5 97.2 494.7 97.3 493.9 97.3 493.1 97.3 492.3 97.3 491.5 97.3 490.7 97.3 489.9 97.3 489.1 97.3 488.3 97.2 487.5 97.2 486.7 97.2 485.9 97.2 485.1 97.3 484.3 97.3 483.5 97.2 482.7 97.2 481.9 97.2 481.1 97.2 480.3 97.2 479.5 97.1 479.0 97.1 478.6 96.7 478.2 96.3 477.9 95.9 477.5 95.5 477.1 95.1 476.7 94.7 476.3 94.3 475.9 93.9 475.5 93.5 475.1 93.1 474.7 92.7 474.3 92.2 473.9 91.7 473.5 91.2 473.2 90.7 472.9 90.3 472.6 89.9 472.3 89.4 471.9 88.8 471.5 88.3 471.2 87.9 470.8 87.5 470.3 87.1 469.9 86.7 469.5 86.3 469.1 85.9 468.7 85.5 468.4 85.1 468.1 84.7 467.8 84.3 467.5 83.8 467.1 83.1 466.8 82.7 466.5 82.3 466.0 81.9 465.5 81.7 464.7 81.8 464.3 82.0 463.9 82.3 463.4 82.7 463.0 83.1 462.6 83.5 462.3 83.9 461.9 84.3 461.5 84.8 461.1 85.2 460.7 85.7 460.3 86.1 459.9 86.5 459.5 86.8 459.1 87.1 458.3 87.5 457.9 87.6 457.1 87.8 456.7 87.9 455.9 88.0 455.1 88.2 454.7 88.3 453.9 88.6 453.5 88.8 452.9 89.1 452.3 89.5 451.9 89.8 451.5 90.0 451.1 90.3 450.5 90.7 449.9 91.0 449.5 91.1 448.7 91.3 447.9 91.3 447.1 91.2 446.6 91.1 445.9 90.9 445.1 90.7 444.7 90.6 443.9 90.4 443.5 90.3 442.7 90.1 441.9 90.0 441.5 89.9 440.7 89.6 440.3 89.4 439.6 89.1 439.1 88.8 438.7 88.5 438.3 88.2 437.9 87.9 437.4 87.5 437.1 87.1 436.7 86.7 436.3 86.2 435.9 85.7 435.5 85.1 435.3 84.7 435.1 84.3 434.7 83.6 434.4 83.1 434.2 82.7 433.9 82.1 433.6 81.5 433.3 81.1 433.1 80.7 432.7 80.0 432.5 79.5 432.3 79.1 431.9 78.3 431.8 77.9 431.5 77.1 431.4 76.7 431.3 75.9 431.3 75.1 431.4 74.3 431.6 73.9 431.9 73.3 432.3 72.7 432.7 72.3 433.1 71.9 433.5 71.6 433.9 71.3 434.3 71.0 434.8 70.7 435.4 70.3 435.9 70.0 436.3 69.7 436.7 69.4 437.1 69.1 437.5 68.7 437.9 68.3 438.3 67.9 438.7 67.4 439.1 67.0 439.5 66.5 439.9 66.1 440.3 65.8 440.7 65.4 441.1 65.1 441.7 64.7 442.3 64.4 442.7 64.2 443.5 63.9 443.9 63.8 444.7 63.6 445.5 63.5 445.9 63.5 446.7 63.3 447.5 63.1 447.9 63.0 448.7 62.8 449.1 62.6 449.9 62.4 450.4 62.3 451.1 62.2 451.9 62.1 452.7 62.0 453.5 62.0 454.3 61.9 454.7 61.9 455.5 61.8 456.3 61.7 457.1 61.5 457.5 61.4 458.3 61.2 458.9 61.1 459.5 61.0 460.3 60.8 460.7 60.7 461.5 60.6 462.3 60.5 463.1 60.4 463.9 60.5 464.7 60.7 465.1 60.9 465.5 61.2 465.8 61.9 465.8 62.7 465.7 63.5 465.5 64.1 465.3 64.7 465.1 65.2 464.8 65.9 464.7 66.3 464.5 67.1 464.6 67.9 464.7 68.3 465.1 68.7 465.6 69.1 466.3 69.4 467.1 69.5 467.9 69.3 468.4 69.1 469.0 68.7 469.5 68.3 469.9 68.0 470.3 67.7 470.7 67.3 471.1 66.9 471.5 66.5 471.9 66.1 472.3 65.7 472.7 65.2 473.1 64.8 473.5 64.3 473.8 63.9 474.2 63.5 474.5 63.1 474.7 62.7 475.1 62.1 475.5 61.5 475.7 61.1 475.9 60.7 476.3 59.9 476.5 59.5 476.7 59.1 477.1 58.4 477.4 57.9 477.7 57.5 477.9 57.1 478.3 56.6 478.7 56.0 479.1 55.5 479.5 55.1 479.9 54.7 480.3 54.4 480.7 54.1 481.1 53.9 481.8 53.5 482.3 53.3 482.9 53.1 483.5 52.9 484.0 52.7 484.7 52.5 485.1 52.3 485.9 51.9 486.3 51.7 486.7 51.5 487.3 51.1 487.9 50.7 488.3 50.5 488.7 50.3 489.5 49.9 489.9 49.8 490.7 49.5 491.1 49.4 491.9 49.3 492.7 49.2 493.5 49.3 493.9 49.5 494.3 49.9 494.7 50.3 495.1 51.0 495.4 51.5 495.6 51.9 495.9 52.7 496.1 53.1 496.3 53.8 496.5 54.3 496.7 54.9 496.9 55.5 497.1 56.1 497.3 56.7 497.5 57.5 497.6 57.9 497.8 58.7 497.9 59.3 498.0 59.9 498.2 60.7 498.3 61.2 498.5 61.9 498.6 62.7 498.7 63.1 498.9 63.9 499.1 64.7 499.1 65.1 499.3 65.9 499.4 66.7 499.5 67.5 499.5 67.9 499.6 68.7 499.7 69.5 499.7 70.3 499.8 71.1 499.8 71.9 499.9 72.7 499.9 73.3 499.9 73.9 500.0 74.7 500.0 75.5 500.1 76.3 500.1 77.1 500.1 77.9 500.0 78.7 500.0 79.5 500.0 80.3 499.9 81.1 499.9 81.5 499.9 82.3 499.8 83.1 499.8 83.9 499.8 84.7 499.7 85.5 499.7 86.3 499.6 87.1 499.5 87.7 499.4 88.3 499.3 89.1 499.1 89.9 499.1 90.3 498.9 91.1 498.8 91.9 498.7 92.3 498.5 93.1 498.4 93.9 498.3 94.3 498.1 95.1 497.9 95.6 497.6 96.3 497.5 96.7 497.1 97.1Z"/>
<path d="M453.5 47.5 452.7 47.6 451.9 47.7 451.1 47.7 450.3 47.7 449.5 47.8 448.7 47.7 447.9 47.7 447.1 47.5 446.7 47.4 446.1 47.1 445.5 46.7 445.1 46.3 444.8 45.9 444.6 45.5 444.3 44.8 444.1 44.3 444.0 43.5 443.9 43.0 443.8 42.3 443.8 41.5 443.7 40.7 443.7 39.9 443.8 39.1 443.8 38.3 443.9 37.7 444.0 37.1 444.2 36.3 444.3 35.9 444.6 35.1 444.7 34.7 445.1 33.9 445.3 33.5 445.5 33.1 445.9 32.4 446.2 31.9 446.5 31.5 446.8 31.1 447.2 30.7 447.5 30.3 448.0 29.9 448.6 29.5 449.1 29.2 449.5 29.0 450.3 28.8 451.1 28.7 451.9 28.7 452.7 28.8 453.5 29.0 453.9 29.1 454.7 29.4 455.1 29.6 455.8 29.9 456.3 30.2 456.7 30.5 457.1 30.8 457.5 31.2 457.9 31.7 458.3 32.2 458.6 32.7 458.8 33.1 459.1 33.6 459.4 34.3 459.6 34.7 459.9 35.4 460.1 35.9 460.3 36.6 460.5 37.1 460.6 37.9 460.7 38.4 460.8 39.1 460.8 39.9 460.7 40.5 460.6 41.1 460.4 41.9 460.2 42.3 459.9 42.9 459.6 43.5 459.3 43.9 459.0 44.3 458.7 44.7 458.3 45.2 457.9 45.5 457.5 45.9 457.0 46.3 456.3 46.7 455.9 46.9 455.4 47.1 454.7 47.3 453.9 47.5 453.5 47.5Z M495.1 97.1 494.3 97.1 493.5 97.2 492.7 97.1 491.9 97.1 491.1 97.1 490.3 97.1 489.5 97.1 488.7 97.1 487.9 97.1 487.1 97.1 486.3 97.1 485.5 97.1 484.7 97.1 483.9 97.1 483.1 97.1 482.7 97.0 482.1 96.7 481.5 96.3 481.1 95.9 480.7 95.5 480.3 95.1 479.9 94.7 479.6 94.3 479.3 93.9 479.0 93.5 478.6 93.1 478.3 92.7 477.9 92.2 477.5 91.8 477.1 91.3 476.7 90.7 476.4 90.3 476.1 89.9 475.8 89.5 475.5 88.9 475.2 88.3 474.9 87.9 474.7 87.4 474.4 86.7 474.2 86.3 473.9 85.6 473.7 85.1 473.5 84.6 473.2 83.9 473.1 83.5 472.8 82.7 472.6 82.3 472.3 81.6 472.1 81.1 471.9 80.7 471.5 79.9 471.3 79.5 471.1 79.0 470.9 78.3 470.7 77.5 470.7 76.7 470.7 75.9 470.8 75.1 471.0 74.3 471.1 73.8 471.3 73.1 471.5 72.3 471.6 71.9 471.9 71.1 472.0 70.7 472.3 70.2 472.7 69.5 472.9 69.1 473.2 68.7 473.5 68.3 473.9 67.9 474.3 67.4 474.7 67.0 475.1 66.6 475.5 66.2 475.9 65.8 476.3 65.3 476.7 64.8 477.1 64.3 477.4 63.9 477.6 63.5 477.9 63.0 478.3 62.3 478.5 61.9 478.7 61.5 479.1 60.9 479.5 60.3 479.8 59.9 480.1 59.5 480.4 59.1 480.7 58.7 481.1 58.3 481.5 57.8 481.9 57.4 482.3 57.0 482.7 56.7 483.2 56.3 483.8 55.9 484.3 55.6 484.7 55.5 485.5 55.1 485.9 54.9 486.5 54.7 487.1 54.5 487.5 54.3 488.3 54.0 488.7 53.8 489.5 53.5 489.9 53.4 490.7 53.2 491.2 53.1 491.9 53.0 492.7 53.0 493.1 53.1 493.8 53.5 494.2 53.9 494.5 54.3 494.7 54.7 495.1 55.4 495.3 55.9 495.5 56.3 495.8 57.1 496.0 57.5 496.3 58.3 496.4 58.7 496.7 59.5 496.8 59.9 497.0 60.7 497.2 61.1 497.4 61.9 497.5 62.4 497.7 63.1 497.9 63.9 498.0 64.3 498.2 65.1 498.3 65.6 498.4 66.3 498.5 67.1 498.6 67.9 498.7 68.6 498.8 69.1 498.8 69.9 498.9 70.7 498.9 71.5 499.0 72.3 499.1 73.1 499.1 73.9 499.1 74.3 499.2 75.1 499.2 75.9 499.2 76.7 499.2 77.5 499.1 78.3 499.1 79.1 499.1 79.5 499.1 80.3 499.1 81.1 499.0 81.9 499.0 82.7 499.0 83.5 499.0 84.3 498.9 85.1 498.9 85.9 498.8 86.7 498.7 87.5 498.6 87.9 498.5 88.7 498.3 89.5 498.2 89.9 498.1 90.7 497.9 91.3 497.8 91.9 497.5 92.7 497.4 93.1 497.2 93.9 497.0 94.3 496.7 95.0 496.5 95.5 496.2 95.9 495.9 96.3 495.5 96.8 495.1 97.1Z M449.1 88.0 448.3 88.1 447.5 88.1 446.7 88.0 446.3 87.9 445.5 87.7 444.8 87.5 444.3 87.4 443.5 87.2 443.0 87.1 442.3 86.9 441.6 86.7 441.1 86.5 440.7 86.3 440.1 85.9 439.6 85.5 439.2 85.1 438.8 84.7 438.5 84.3 438.3 83.9 437.9 83.2 437.7 82.7 437.5 82.3 437.1 81.5 436.9 81.1 436.7 80.6 436.4 79.9 436.1 79.5 435.9 79.1 435.5 78.3 435.3 77.9 435.1 77.5 434.8 76.7 434.7 76.0 434.7 75.5 434.7 75.1 435.0 74.3 435.2 73.9 435.5 73.5 435.9 73.1 436.3 72.7 436.8 72.3 437.3 71.9 437.7 71.5 438.1 71.1 438.5 70.7 438.9 70.3 439.3 69.9 439.7 69.5 440.0 69.1 440.4 68.7 440.8 68.3 441.3 67.9 441.8 67.5 442.3 67.1 442.7 66.9 443.1 66.7 443.9 66.4 444.3 66.3 445.1 66.1 445.9 65.9 446.3 65.8 447.1 65.6 447.5 65.5 448.3 65.2 448.7 65.0 449.5 64.7 449.9 64.6 450.7 64.3 451.1 64.2 451.9 64.0 452.7 63.9 453.1 63.9 453.9 63.8 454.7 63.8 455.5 63.9 456.3 63.9 457.1 63.9 457.9 63.9 458.7 63.9 459.1 63.9 459.9 64.1 460.2 64.7 459.9 65.5 459.7 65.9 459.5 66.3 459.1 66.9 458.8 67.5 458.6 67.9 458.3 68.7 458.2 69.1 458.3 69.9 458.4 70.3 458.7 70.8 459.1 71.3 459.5 71.6 460.0 71.9 460.7 72.3 461.1 72.6 461.5 73.0 461.9 73.5 462.0 73.9 462.1 74.7 461.9 75.4 461.7 75.9 461.5 76.3 461.1 77.0 460.8 77.5 460.6 77.9 460.3 78.4 459.9 79.1 459.7 79.5 459.4 79.9 459.1 80.4 458.7 81.0 458.4 81.5 458.1 81.9 457.7 82.3 457.4 82.7 457.0 83.1 456.6 83.5 456.1 83.9 455.6 84.3 455.1 84.6 454.7 84.9 454.3 85.1 453.7 85.5 453.1 85.8 452.7 86.1 452.3 86.3 451.7 86.7 451.1 87.0 450.7 87.3 450.3 87.5 449.5 87.9 449.1 88.0Z"/>
<path d="M453.5 45.5 452.7 45.7 451.9 45.8 451.1 45.9 450.3 45.9 449.5 45.8 448.7 45.7 448.1 45.5 447.5 45.2 447.1 44.9 446.7 44.4 446.4 43.9 446.2 43.5 445.9 42.7 445.8 42.3 445.6 41.5 445.5 40.7 445.5 40.3 445.4 39.5 445.4 38.7 445.5 38.1 445.6 37.5 445.8 36.7 445.9 36.3 446.2 35.5 446.4 35.1 446.7 34.5 447.1 33.9 447.3 33.5 447.6 33.1 447.9 32.7 448.3 32.3 448.7 31.9 449.1 31.5 449.8 31.1 450.3 30.9 451.1 30.7 451.9 30.7 452.7 30.8 453.5 31.0 453.9 31.2 454.6 31.5 455.1 31.8 455.5 32.1 455.9 32.4 456.3 32.8 456.7 33.3 457.1 33.9 457.4 34.3 457.6 34.7 457.9 35.5 458.0 35.9 458.3 36.7 458.3 37.1 458.4 37.9 458.3 38.7 458.2 39.1 458.0 39.9 457.9 40.3 457.6 41.1 457.4 41.5 457.1 42.1 456.8 42.7 456.6 43.1 456.3 43.5 455.9 44.0 455.5 44.4 455.1 44.7 454.5 45.1 453.9 45.4 453.5 45.5Z M493.5 95.5 493.1 95.5 492.3 95.4 491.5 95.3 490.7 95.1 490.3 95.1 489.5 95.0 488.7 94.9 487.9 94.8 487.1 94.8 486.3 94.8 485.5 94.8 484.7 94.7 484.3 94.7 483.5 94.4 483.1 94.3 482.5 93.9 482.1 93.5 481.6 93.1 481.3 92.7 480.9 92.3 480.6 91.9 480.2 91.5 479.9 91.1 479.5 90.6 479.1 90.1 478.7 89.5 478.4 89.1 478.1 88.7 477.8 88.3 477.5 87.8 477.1 87.1 476.9 86.7 476.7 86.3 476.3 85.5 476.2 85.1 475.9 84.3 475.8 83.9 475.7 83.1 475.5 82.3 475.5 81.9 475.3 81.1 475.2 80.3 475.1 79.6 475.0 79.1 474.9 78.3 474.8 77.5 474.8 76.7 474.8 75.9 474.9 75.1 475.0 74.3 475.1 73.7 475.2 73.1 475.5 72.3 475.7 71.9 475.9 71.4 476.3 70.7 476.5 70.3 476.8 69.9 477.1 69.5 477.5 69.0 477.9 68.5 478.3 67.9 478.6 67.5 478.9 67.1 479.1 66.7 479.5 66.0 479.7 65.5 479.9 65.1 480.3 64.3 480.4 63.9 480.7 63.3 481.0 62.7 481.2 62.3 481.5 61.9 481.9 61.3 482.3 60.9 482.7 60.5 483.1 60.1 483.5 59.7 483.9 59.4 484.3 59.1 484.9 58.7 485.5 58.3 485.9 58.1 486.3 57.9 487.1 57.5 487.5 57.3 488.1 57.1 488.7 56.9 489.5 56.7 489.9 56.7 490.7 56.6 491.5 56.7 491.9 56.7 492.7 57.0 493.1 57.1 493.7 57.5 494.1 57.9 494.4 58.3 494.7 58.7 495.1 59.4 495.4 59.9 495.6 60.3 495.9 61.1 496.1 61.5 496.3 62.1 496.5 62.7 496.7 63.3 496.9 63.9 497.1 64.6 497.2 65.1 497.4 65.9 497.5 66.3 497.6 67.1 497.8 67.9 497.8 68.7 497.9 69.4 498.0 69.9 498.0 70.7 498.1 71.5 498.2 72.3 498.2 73.1 498.3 73.9 498.3 74.7 498.3 75.1 498.3 75.9 498.3 76.7 498.3 77.5 498.3 77.9 498.3 78.7 498.2 79.5 498.2 80.3 498.2 81.1 498.2 81.9 498.2 82.7 498.2 83.5 498.2 84.3 498.2 85.1 498.1 85.9 498.0 86.7 497.9 87.4 497.8 87.9 497.7 88.7 497.5 89.3 497.3 89.9 497.1 90.7 497.0 91.1 496.7 91.9 496.5 92.3 496.3 92.9 496.0 93.5 495.7 93.9 495.4 94.3 495.1 94.7 494.6 95.1 493.9 95.4 493.5 95.5Z M449.1 85.1 448.3 85.2 447.6 85.1 447.1 85.0 446.3 84.9 445.7 84.7 445.1 84.6 444.3 84.3 443.9 84.2 443.1 83.9 442.7 83.7 442.2 83.5 441.6 83.1 441.1 82.7 440.8 82.3 440.5 81.9 440.2 81.5 439.9 80.9 439.6 80.3 439.5 79.9 439.3 79.1 439.1 78.4 439.0 77.9 438.9 77.1 438.9 76.3 439.0 75.5 439.2 75.1 439.5 74.3 439.6 73.9 439.9 73.4 440.3 72.7 440.5 72.3 440.8 71.9 441.1 71.4 441.5 70.9 441.9 70.4 442.3 70.0 442.7 69.6 443.1 69.3 443.5 69.1 444.3 68.7 444.7 68.6 445.5 68.4 446.1 68.3 446.7 68.2 447.5 68.2 448.3 68.1 449.1 68.1 449.9 68.1 450.7 68.1 451.5 68.2 451.9 68.6 452.2 69.1 452.3 69.5 452.7 70.2 453.0 70.7 453.3 71.1 453.6 71.5 453.9 71.9 454.3 72.3 454.7 72.8 455.1 73.2 455.5 73.7 455.9 74.2 456.2 74.7 456.5 75.1 456.7 75.7 456.8 76.3 456.9 77.1 456.8 77.9 456.7 78.3 456.4 79.1 456.2 79.5 455.9 80.1 455.5 80.7 455.2 81.1 454.9 81.5 454.6 81.9 454.2 82.3 453.7 82.7 453.2 83.1 452.7 83.5 452.3 83.7 451.9 84.0 451.4 84.3 450.7 84.6 450.3 84.8 449.5 85.0 449.1 85.1Z"/>
<path d="M452.3 42.8 451.5 43.0 450.7 42.9 450.2 42.7 449.6 42.3 449.3 41.9 449.0 41.5 448.7 41.0 448.4 40.3 448.3 39.9 448.1 39.1 448.1 38.3 448.2 37.5 448.3 37.1 448.6 36.3 448.8 35.9 449.1 35.5 449.5 34.9 449.9 34.5 450.3 34.2 450.9 33.9 451.5 33.7 452.3 33.7 453.1 33.9 453.5 34.1 453.9 34.3 454.4 34.7 454.7 35.1 455.1 35.6 455.4 36.3 455.5 36.7 455.6 37.5 455.5 38.3 455.4 38.7 455.1 39.5 454.9 39.9 454.7 40.4 454.3 41.1 454.0 41.5 453.6 41.9 453.2 42.3 452.7 42.7 452.3 42.8Z M493.9 93.3 493.1 93.4 492.3 93.3 491.5 93.2 491.1 93.1 490.3 93.0 489.5 92.9 488.7 92.8 487.9 92.7 487.5 92.7 486.7 92.6 485.9 92.5 485.2 92.3 484.7 92.1 484.2 91.9 483.5 91.5 483.1 91.2 482.7 90.8 482.3 90.4 481.9 90.0 481.5 89.5 481.2 89.1 480.9 88.7 480.6 88.3 480.3 87.9 479.9 87.4 479.5 86.9 479.1 86.3 478.8 85.9 478.6 85.5 478.3 84.8 478.1 84.3 477.9 83.6 477.8 83.1 477.7 82.3 477.6 81.5 477.6 80.7 477.6 79.9 477.6 79.1 477.7 78.3 477.8 77.5 477.9 76.7 478.0 76.3 478.1 75.5 478.3 74.8 478.5 74.3 478.7 73.7 478.9 73.1 479.1 72.7 479.5 72.0 479.8 71.5 480.0 71.1 480.3 70.5 480.6 69.9 480.9 69.5 481.1 69.1 481.5 68.4 481.7 67.9 481.9 67.5 482.3 66.8 482.5 66.3 482.7 65.8 483.0 65.1 483.2 64.7 483.5 64.1 483.9 63.5 484.2 63.1 484.5 62.7 485.0 62.3 485.5 61.9 485.9 61.7 486.3 61.4 487.0 61.1 487.5 60.9 488.1 60.7 488.7 60.5 489.3 60.3 489.9 60.2 490.7 60.1 491.5 60.1 492.3 60.1 493.1 60.3 493.5 60.5 493.9 60.8 494.3 61.2 494.7 61.7 495.0 62.3 495.2 62.7 495.5 63.3 495.8 63.9 495.9 64.3 496.2 65.1 496.3 65.5 496.5 66.3 496.7 67.1 496.8 67.5 496.9 68.3 497.0 69.1 497.1 69.9 497.1 70.3 497.2 71.1 497.3 71.9 497.4 72.7 497.4 73.5 497.5 74.3 497.5 75.1 497.5 75.5 497.5 76.3 497.5 77.1 497.5 77.5 497.5 78.3 497.5 79.1 497.5 79.9 497.5 80.7 497.5 81.5 497.5 82.3 497.5 83.1 497.4 83.9 497.4 84.7 497.4 85.5 497.3 86.3 497.1 87.1 497.1 87.5 496.9 88.3 496.7 89.0 496.5 89.5 496.3 90.1 496.1 90.7 495.9 91.1 495.5 91.8 495.1 92.3 494.8 92.7 494.3 93.1 493.9 93.3Z M449.5 82.4 448.7 82.5 447.9 82.6 447.1 82.5 446.3 82.4 445.9 82.3 445.1 82.1 444.7 81.9 443.9 81.5 443.5 81.2 443.1 80.8 442.7 80.3 442.5 79.9 442.3 79.5 442.1 78.7 442.1 77.9 442.2 77.1 442.3 76.6 442.5 75.9 442.7 75.2 442.9 74.7 443.1 74.1 443.4 73.5 443.6 73.1 443.9 72.6 444.3 72.1 444.7 71.8 445.4 71.5 445.9 71.4 446.7 71.4 447.3 71.5 447.9 71.7 448.4 71.9 449.1 72.2 449.5 72.4 450.2 72.7 450.7 73.0 451.1 73.2 451.6 73.5 452.1 73.9 452.6 74.3 453.0 74.7 453.4 75.1 453.6 75.5 453.9 76.1 454.1 76.7 454.1 77.5 454.0 78.3 453.8 78.7 453.5 79.4 453.1 79.9 452.8 80.3 452.5 80.7 452.0 81.1 451.5 81.5 451.1 81.8 450.7 82.0 449.9 82.3 449.5 82.4Z"/>
<path d="M493.9 91.9 493.1 92.1 492.3 92.0 491.6 91.9 491.1 91.8 490.3 91.7 489.5 91.6 488.7 91.5 488.3 91.5 487.5 91.3 486.7 91.2 486.3 91.0 485.5 90.7 485.1 90.6 484.7 90.3 484.1 89.9 483.6 89.5 483.2 89.1 482.9 88.7 482.5 88.3 482.2 87.9 481.9 87.5 481.5 86.9 481.1 86.4 480.7 85.9 480.5 85.5 480.2 85.1 479.9 84.5 479.6 83.9 479.5 83.5 479.3 82.7 479.1 81.9 479.1 81.1 479.2 80.3 479.2 79.5 479.4 78.7 479.5 77.9 479.6 77.5 479.7 76.7 479.9 76.0 480.0 75.5 480.3 74.7 480.4 74.3 480.7 73.7 480.9 73.1 481.1 72.7 481.5 72.0 481.8 71.5 482.0 71.1 482.3 70.5 482.7 69.9 482.9 69.5 483.1 69.1 483.5 68.5 483.8 67.9 484.0 67.5 484.3 67.0 484.7 66.3 484.9 65.9 485.1 65.5 485.5 65.0 485.9 64.5 486.3 64.2 486.7 63.9 487.5 63.5 487.9 63.3 488.5 63.1 489.1 62.9 489.8 62.7 490.3 62.5 491.1 62.3 491.5 62.3 492.3 62.2 493.1 62.2 493.5 62.4 493.9 62.7 494.3 63.1 494.7 63.7 495.0 64.3 495.2 64.7 495.5 65.4 495.7 65.9 495.9 66.6 496.0 67.1 496.2 67.9 496.3 68.6 496.4 69.1 496.5 69.9 496.6 70.7 496.7 71.5 496.7 71.9 496.8 72.7 496.9 73.5 496.9 74.3 497.0 75.1 497.0 75.9 497.0 76.7 497.0 77.5 497.0 78.3 497.0 79.1 497.0 79.9 497.0 80.7 497.0 81.5 497.0 82.3 497.0 83.1 496.9 83.9 496.9 84.7 496.8 85.5 496.7 86.3 496.7 86.7 496.5 87.5 496.3 88.2 496.2 88.7 495.9 89.4 495.7 89.9 495.4 90.3 495.1 90.9 494.7 91.3 494.3 91.7 493.9 91.9Z M448.7 80.7 447.9 80.8 447.1 80.8 446.7 80.7 445.9 80.5 445.5 80.3 445.0 79.9 444.6 79.5 444.3 78.8 444.2 78.3 444.2 77.5 444.3 77.0 444.5 76.3 444.7 75.9 445.1 75.3 445.5 74.8 445.9 74.5 446.3 74.2 447.1 74.0 447.9 74.0 448.7 74.2 449.2 74.3 449.9 74.6 450.3 74.8 450.8 75.1 451.3 75.5 451.6 75.9 451.9 76.4 452.1 77.1 452.0 77.9 451.9 78.3 451.5 79.0 451.1 79.5 450.7 79.8 450.3 80.1 449.9 80.3 449.1 80.6 448.7 80.7Z"/>
<path d="M493.9 91.3 493.1 91.5 492.3 91.4 491.5 91.3 490.7 91.2 490.0 91.1 489.5 91.0 488.7 90.9 487.9 90.8 487.5 90.7 486.7 90.4 486.3 90.3 485.5 89.9 485.1 89.7 484.7 89.4 484.3 89.1 483.9 88.7 483.5 88.2 483.1 87.8 482.7 87.2 482.3 86.7 482.0 86.3 481.8 85.9 481.5 85.5 481.1 84.9 480.7 84.3 480.5 83.9 480.3 83.3 480.1 82.7 480.0 81.9 479.9 81.1 480.0 80.3 480.1 79.5 480.2 78.7 480.3 78.0 480.4 77.5 480.6 76.7 480.7 76.1 480.9 75.5 481.1 74.8 481.3 74.3 481.5 73.8 481.8 73.1 482.0 72.7 482.3 72.1 482.7 71.5 482.9 71.1 483.1 70.7 483.5 70.1 483.9 69.5 484.1 69.1 484.4 68.7 484.7 68.1 485.0 67.5 485.3 67.1 485.5 66.7 485.9 66.1 486.3 65.7 486.7 65.3 487.1 65.0 487.6 64.7 488.3 64.4 488.7 64.2 489.5 64.0 489.9 63.8 490.7 63.6 491.1 63.5 491.9 63.3 492.7 63.2 493.5 63.3 493.9 63.6 494.3 64.0 494.7 64.6 494.9 65.1 495.1 65.5 495.4 66.3 495.5 66.7 495.8 67.5 495.9 68.2 496.0 68.7 496.1 69.5 496.2 70.3 496.3 70.9 496.4 71.5 496.5 72.3 496.6 73.1 496.6 73.9 496.7 74.7 496.7 75.1 496.7 75.9 496.7 76.7 496.7 77.5 496.7 78.3 496.7 79.1 496.7 79.9 496.7 80.7 496.7 81.5 496.7 82.3 496.7 83.1 496.7 83.6 496.7 84.3 496.6 85.1 496.5 85.9 496.4 86.7 496.3 87.1 496.1 87.9 495.9 88.5 495.7 89.1 495.5 89.5 495.1 90.2 494.7 90.7 494.3 91.1 493.9 91.3Z M449.1 79.6 448.7 79.7 448.3 79.8 447.9 79.9 447.5 79.9 447.1 79.8 446.7 79.7 446.3 79.6 446.2 79.5 445.9 79.3 445.7 79.1 445.5 78.8 445.4 78.7 445.3 78.3 445.2 77.9 445.2 77.5 445.3 77.1 445.4 76.7 445.5 76.6 445.7 76.3 445.9 76.0 446.0 75.9 446.3 75.6 446.5 75.5 446.7 75.4 447.1 75.2 447.5 75.1 447.9 75.1 447.9 75.1 447.9 75.1 448.3 75.1 448.7 75.2 449.1 75.3 449.5 75.5 449.5 75.5 449.9 75.7 450.1 75.9 450.3 76.1 450.5 76.3 450.7 76.6 450.7 76.7 450.8 77.1 450.9 77.5 450.8 77.9 450.7 78.1 450.6 78.3 450.3 78.7 450.3 78.7 449.9 79.1 449.9 79.1 449.5 79.4 449.3 79.5 449.1 79.6Z"/>
<path d="M493.5 90.4 492.7 90.4 491.9 90.3 491.5 90.3 490.7 90.2 489.9 90.0 489.2 89.9 488.7 89.8 487.9 89.6 487.5 89.4 486.7 89.1 486.3 88.9 485.9 88.6 485.5 88.3 485.1 87.9 484.7 87.5 484.3 87.0 483.9 86.4 483.6 85.9 483.3 85.5 483.1 85.1 482.7 84.4 482.5 83.9 482.3 83.5 481.9 82.7 481.8 82.3 481.6 81.5 481.5 80.7 481.5 79.9 481.6 79.1 481.7 78.3 481.8 77.5 481.9 76.9 482.0 76.3 482.3 75.5 482.4 75.1 482.7 74.3 482.9 73.9 483.1 73.5 483.5 72.7 483.8 72.3 484.0 71.9 484.3 71.5 484.7 70.9 485.1 70.3 485.3 69.9 485.6 69.5 485.9 69.0 486.3 68.4 486.7 67.9 487.0 67.5 487.4 67.1 487.8 66.7 488.3 66.4 488.7 66.2 489.4 65.9 489.9 65.7 490.6 65.5 491.1 65.4 491.9 65.2 492.3 65.1 493.1 64.9 493.6 65.1 494.1 65.5 494.4 65.9 494.7 66.5 494.9 67.1 495.1 67.6 495.3 68.3 495.5 69.1 495.5 69.5 495.7 70.3 495.8 71.1 495.9 71.8 496.0 72.3 496.1 73.1 496.2 73.9 496.2 74.7 496.3 75.5 496.3 76.2 496.3 76.7 496.3 77.5 496.3 78.3 496.3 78.7 496.3 79.5 496.3 80.3 496.3 81.1 496.3 81.9 496.3 82.7 496.3 83.5 496.2 84.3 496.2 85.1 496.0 85.9 495.9 86.6 495.8 87.1 495.5 87.9 495.4 88.3 495.1 88.9 494.7 89.5 494.3 89.9 493.9 90.2 493.5 90.4Z M447.9 78.0 447.5 78.1 447.1 77.9 447.1 77.9 447.0 77.5 447.1 77.2 447.2 77.1 447.5 76.9 447.9 77.0 448.1 77.1 448.3 77.5 448.1 77.9 447.9 78.0Z"/>
<path d="M493.5 89.7 492.7 89.7 491.9 89.6 491.1 89.5 490.7 89.5 489.9 89.3 489.1 89.1 488.7 89.0 487.9 88.7 487.5 88.5 487.1 88.3 486.5 87.9 486.0 87.5 485.6 87.1 485.3 86.7 485.0 86.3 484.7 85.8 484.3 85.2 484.0 84.7 483.8 84.3 483.5 83.6 483.3 83.1 483.1 82.6 482.8 81.9 482.7 81.4 482.6 80.7 482.5 79.9 482.5 79.1 482.5 78.3 482.6 77.5 482.7 77.1 482.9 76.3 483.1 75.6 483.3 75.1 483.5 74.5 483.8 73.9 484.0 73.5 484.3 73.0 484.7 72.4 485.1 71.9 485.3 71.5 485.6 71.1 485.9 70.7 486.3 70.1 486.7 69.6 487.0 69.1 487.3 68.7 487.7 68.3 488.1 67.9 488.7 67.5 489.1 67.2 489.5 67.1 490.3 66.8 490.7 66.6 491.5 66.4 492.1 66.3 492.7 66.2 493.5 66.2 493.9 66.5 494.3 67.1 494.5 67.5 494.7 68.0 494.9 68.7 495.1 69.4 495.2 69.9 495.4 70.7 495.5 71.5 495.6 71.9 495.7 72.7 495.8 73.5 495.9 74.3 495.9 74.7 496.0 75.5 496.0 76.3 496.0 77.1 496.0 77.9 496.0 78.7 496.0 79.5 496.0 80.3 496.0 81.1 496.0 81.9 496.0 82.7 496.0 83.5 495.9 84.3 495.9 84.7 495.8 85.5 495.6 86.3 495.5 86.8 495.3 87.5 495.1 87.9 494.7 88.7 494.4 89.1 493.9 89.5 493.5 89.7Z"/>
<path d="M493.5 88.7 492.7 88.8 491.9 88.7 491.5 88.6 490.7 88.5 490.0 88.3 489.5 88.2 488.8 87.9 488.3 87.7 487.9 87.4 487.4 87.1 486.9 86.7 486.5 86.3 486.2 85.9 485.9 85.5 485.5 84.8 485.2 84.3 485.0 83.9 484.7 83.3 484.4 82.7 484.3 82.3 484.0 81.5 483.9 81.1 483.7 80.3 483.6 79.5 483.6 78.7 483.6 77.9 483.8 77.1 483.9 76.5 484.1 75.9 484.3 75.3 484.6 74.7 484.8 74.3 485.1 73.8 485.5 73.2 485.9 72.7 486.2 72.3 486.5 71.9 486.8 71.5 487.1 71.1 487.5 70.6 487.9 70.1 488.3 69.6 488.7 69.2 489.1 68.9 489.5 68.7 490.2 68.3 490.7 68.1 491.5 67.9 491.9 67.8 492.7 67.7 493.5 67.8 493.9 68.2 494.2 68.7 494.3 69.1 494.6 69.9 494.7 70.3 494.9 71.1 495.1 71.9 495.2 72.3 495.3 73.1 495.4 73.9 495.5 74.4 495.6 75.1 495.6 75.9 495.7 76.7 495.7 77.5 495.7 78.3 495.7 79.1 495.7 79.9 495.7 80.7 495.7 81.5 495.7 82.3 495.6 83.1 495.6 83.9 495.5 84.4 495.4 85.1 495.3 85.9 495.1 86.4 494.9 87.1 494.7 87.5 494.3 88.1 493.9 88.5 493.5 88.7Z"/>
<path d="M493.1 87.9 492.6 87.9 491.9 87.8 491.1 87.6 490.6 87.5 489.9 87.3 489.5 87.1 488.7 86.7 488.3 86.4 487.9 86.1 487.5 85.8 487.1 85.3 486.7 84.8 486.4 84.3 486.1 83.9 485.9 83.5 485.5 82.7 485.3 82.3 485.1 81.7 484.9 81.1 484.7 80.4 484.6 79.9 484.5 79.1 484.5 78.3 484.6 77.5 484.7 77.1 484.9 76.3 485.1 75.8 485.4 75.1 485.6 74.7 485.9 74.3 486.3 73.7 486.7 73.2 487.1 72.7 487.5 72.3 487.8 71.9 488.2 71.5 488.6 71.1 489.0 70.7 489.4 70.3 489.9 70.0 490.3 69.8 490.9 69.5 491.5 69.3 492.3 69.2 493.1 69.1 493.7 69.5 493.9 69.9 494.3 70.7 494.4 71.1 494.6 71.9 494.7 72.3 494.9 73.1 495.1 73.9 495.1 74.3 495.2 75.1 495.3 75.9 495.4 76.7 495.4 77.5 495.4 78.3 495.4 79.1 495.4 79.9 495.4 80.7 495.4 81.5 495.3 82.3 495.3 83.1 495.2 83.9 495.1 84.6 495.0 85.1 494.8 85.9 494.7 86.3 494.3 87.0 494.0 87.5 493.5 87.8 493.1 87.9Z"/>
<path d="M493.5 86.9 492.7 87.0 491.9 86.9 491.1 86.7 490.7 86.6 490.0 86.3 489.5 86.0 489.1 85.8 488.7 85.5 488.2 85.1 487.8 84.7 487.5 84.3 487.1 83.8 486.7 83.2 486.4 82.7 486.2 82.3 485.9 81.5 485.7 81.1 485.5 80.3 485.5 79.9 485.4 79.1 485.4 78.3 485.5 77.5 485.6 77.1 485.8 76.3 486.0 75.9 486.3 75.3 486.7 74.7 487.0 74.3 487.3 73.9 487.7 73.5 488.1 73.1 488.5 72.7 488.9 72.3 489.3 71.9 489.8 71.5 490.3 71.2 490.7 71.0 491.4 70.7 491.9 70.6 492.7 70.5 493.5 70.7 493.8 71.1 494.0 71.5 494.3 72.3 494.4 72.7 494.6 73.5 494.7 73.9 494.9 74.7 495.0 75.5 495.0 76.3 495.1 77.1 495.1 77.5 495.1 78.3 495.1 79.1 495.1 79.9 495.1 80.7 495.1 81.3 495.1 81.9 495.0 82.7 494.9 83.5 494.8 84.3 494.7 84.7 494.5 85.5 494.3 85.9 493.9 86.6 493.5 86.9Z"/>
<path d="M493.1 85.9 492.7 85.9 491.9 85.7 491.1 85.5 490.7 85.4 490.2 85.1 489.5 84.7 489.1 84.4 488.7 84.1 488.3 83.7 487.9 83.2 487.5 82.7 487.3 82.3 487.1 81.9 486.7 81.1 486.6 80.7 486.4 79.9 486.4 79.1 486.4 78.3 486.5 77.5 486.7 76.9 487.0 76.3 487.2 75.9 487.5 75.4 487.9 74.9 488.3 74.5 488.7 74.1 489.1 73.7 489.5 73.4 489.9 73.1 490.5 72.7 491.1 72.4 491.5 72.2 492.3 72.0 493.1 72.0 493.5 72.3 493.9 72.9 494.1 73.5 494.3 74.1 494.4 74.7 494.6 75.5 494.7 76.3 494.7 76.7 494.8 77.5 494.8 78.3 494.8 79.1 494.8 79.9 494.8 80.7 494.8 81.5 494.7 82.2 494.6 82.7 494.5 83.5 494.3 84.3 494.2 84.7 493.9 85.3 493.5 85.8 493.1 85.9Z"/>
<path d="M493.1 85.2 492.5 85.1 491.9 85.0 491.1 84.7 490.7 84.6 490.2 84.3 489.6 83.9 489.1 83.5 488.7 83.1 488.3 82.7 488.0 82.3 487.8 81.9 487.5 81.3 487.2 80.7 487.1 80.0 487.0 79.5 487.0 78.7 487.1 78.0 487.2 77.5 487.5 76.8 487.8 76.3 488.0 75.9 488.3 75.5 488.7 75.1 489.1 74.7 489.5 74.3 490.1 73.9 490.7 73.5 491.1 73.3 491.7 73.1 492.3 73.0 493.1 72.9 493.5 73.2 493.9 73.9 494.0 74.3 494.2 75.1 494.3 75.5 494.5 76.3 494.5 77.1 494.6 77.9 494.6 78.7 494.6 79.5 494.6 80.3 494.6 81.1 494.5 81.9 494.4 82.7 494.3 83.1 494.1 83.9 493.9 84.4 493.5 85.0 493.1 85.2Z"/>
<path d="M493.1 84.0 492.3 83.9 491.9 83.8 491.1 83.6 490.7 83.4 490.2 83.1 489.7 82.7 489.3 82.3 489.0 81.9 488.7 81.5 488.3 80.7 488.2 80.3 488.1 79.5 488.1 78.7 488.3 77.9 488.4 77.5 488.7 76.9 489.1 76.3 489.5 75.9 489.9 75.5 490.3 75.2 490.7 74.9 491.1 74.7 491.9 74.4 492.5 74.3 493.1 74.3 493.5 74.7 493.7 75.1 493.9 75.7 494.0 76.3 494.2 77.1 494.2 77.9 494.3 78.7 494.3 79.5 494.3 80.3 494.2 81.1 494.1 81.9 493.9 82.7 493.8 83.1 493.5 83.7 493.1 84.0Z"/>
<path d="M493.5 83.1 492.7 83.5 491.9 83.3 491.2 83.1 490.7 82.8 490.3 82.6 489.9 82.3 489.5 81.9 489.1 81.3 488.8 80.7 488.7 80.3 488.6 79.5 488.6 78.7 488.7 78.3 489.0 77.5 489.2 77.1 489.5 76.7 489.9 76.2 490.3 75.8 490.8 75.5 491.5 75.1 491.9 75.0 492.7 74.9 493.3 75.1 493.6 75.5 493.8 76.3 493.9 76.7 494.0 77.5 494.1 78.3 494.2 79.1 494.2 79.9 494.1 80.7 494.0 81.5 493.9 82.1 493.7 82.7 493.5 83.1Z"/>
<path d="M493.1 82.4 492.7 82.4 492.3 82.4 492.0 82.3 491.9 82.3 491.5 82.1 491.1 81.9 491.1 81.9 490.7 81.6 490.6 81.5 490.3 81.2 490.2 81.1 490.0 80.7 489.9 80.4 489.8 80.3 489.8 79.9 489.8 79.5 489.8 79.1 489.8 78.7 489.9 78.5 490.0 78.3 490.1 77.9 490.3 77.6 490.4 77.5 490.7 77.1 490.7 77.1 491.1 76.8 491.2 76.7 491.5 76.5 491.9 76.3 492.1 76.3 492.3 76.2 492.7 76.2 493.1 76.3 493.1 76.3 493.4 76.7 493.5 76.9 493.5 77.1 493.6 77.5 493.7 77.9 493.8 78.3 493.8 78.7 493.8 79.1 493.8 79.5 493.8 79.9 493.8 80.3 493.8 80.7 493.7 81.1 493.6 81.5 493.5 81.9 493.5 81.9 493.2 82.3 493.1 82.4Z"/>
<path d="M493.1 82.1 492.7 82.1 492.3 82.1 491.9 82.0 491.7 81.9 491.5 81.8 491.1 81.6 491.0 81.5 490.7 81.2 490.6 81.1 490.4 80.7 490.3 80.5 490.2 80.3 490.1 79.9 490.1 79.5 490.1 79.1 490.2 78.7 490.3 78.5 490.4 78.3 490.6 77.9 490.7 77.7 490.9 77.5 491.1 77.3 491.3 77.1 491.5 77.0 491.9 76.8 492.1 76.7 492.3 76.6 492.7 76.6 493.1 76.7 493.1 76.7 493.3 77.1 493.5 77.5 493.5 77.5 493.6 77.9 493.7 78.3 493.7 78.7 493.7 79.1 493.8 79.5 493.8 79.9 493.7 80.3 493.7 80.7 493.6 81.1 493.5 81.5 493.5 81.5 493.3 81.9 493.1 82.1Z"/>
<path d="M493.1 81.2 492.7 81.2 492.3 81.1 492.2 81.1 491.9 80.9 491.7 80.7 491.5 80.5 491.4 80.3 491.3 79.9 491.3 79.5 491.4 79.1 491.5 78.9 491.6 78.7 491.9 78.3 492.0 78.3 492.3 78.1 492.7 78.0 493.1 78.1 493.2 78.3 493.3 78.7 493.4 79.1 493.4 79.5 493.4 79.9 493.4 80.3 493.3 80.7 493.1 81.1 493.1 81.2Z"/>
<path d="M493.1 81.0 492.7 81.1 492.3 81.0 491.9 80.7 491.9 80.7 491.6 80.3 491.5 79.9 491.6 79.5 491.7 79.1 491.9 78.7 491.9 78.7 492.3 78.4 492.5 78.3 492.7 78.2 493.0 78.3 493.1 78.3 493.2 78.7 493.3 79.1 493.4 79.5 493.4 79.9 493.4 80.3 493.3 80.7 493.1 81.0Z"/>
<path d="M493.1 80.0 492.7 80.2 492.6 79.9 492.7 79.6 493.1 79.8 493.1 79.9 493.1 80.0Z"/>
<path d="M492.7 80.0 492.6 79.9 492.7 79.8 493.0 79.9 492.7 80.0Z"/>
</g></g>
<rect x="429.5" y="11.5" width="88.5" height="85.5" fill="none" stroke="#9c9c9c" stroke-width="1.0"/>
<line x1="426.5" y1="19.6" x2="429.5" y2="19.6" stroke="#666" stroke-width="0.8"/>
<text x="424.5" y="21.22" text-anchor="end" font-size="4.5" font-weight="bold" fill="#222" font-family="Liberation Sans, sans-serif">10<tspan font-size="3.24" dy="-1.8">5</tspan></text>
<line x1="426.5" y1="38.4" x2="429.5" y2="38.4" stroke="#666" stroke-width="0.8"/>
<text x="424.5" y="40.02" text-anchor="end" font-size="4.5" font-weight="bold" fill="#222" font-family="Liberation Sans, sans-serif">10<tspan font-size="3.24" dy="-1.8">4</tspan></text>
<line x1="426.5" y1="59" x2="429.5" y2="59" stroke="#666" stroke-width="0.8"/>
<text x="424.5" y="60.62" text-anchor="end" font-size="4.5" font-weight="bold" fill="#222" font-family="Liberation Sans, sans-serif">10<tspan font-size="3.24" dy="-1.8">3</tspan></text>
<line x1="426.5" y1="83.5" x2="429.5" y2="83.5" stroke="#666" stroke-width="0.8"/>
<text x="424.5" y="85.12" text-anchor="end" font-size="4.5" font-weight="bold" fill="#222" font-family="Liberation Sans, sans-serif">0</text>
<path stroke="#777" stroke-width="0.6" d="M428.0 32.74h1.5M428.0 29.43h1.5M428.0 27.08h1.5M428.0 25.26h1.5M428.0 23.77h1.5M428.0 22.51h1.5M428.0 21.42h1.5M428.0 20.46h1.5M428.0 52.80h1.5M428.0 49.17h1.5M428.0 46.60h1.5M428.0 44.60h1.5M428.0 42.97h1.5M428.0 41.59h1.5M428.0 40.40h1.5M428.0 39.34h1.5M428.0 72.98h1.5M428.0 69.46h1.5M428.0 66.96h1.5M428.0 65.02h1.5M428.0 63.44h1.5M428.0 62.10h1.5M428.0 60.94h1.5M428.0 59.92h1.5"/>
<line x1="441.3" y1="97" x2="441.3" y2="99.4" stroke="#666" stroke-width="0.8"/>
<text x="441.3" y="105.9" text-anchor="middle" font-size="4.5" font-weight="bold" fill="#222" font-family="Liberation Sans, sans-serif">0</text>
<line x1="447.4" y1="97" x2="447.4" y2="99.4" stroke="#666" stroke-width="0.8"/>
<text x="448.3" y="105.9" text-anchor="middle" font-size="4.5" font-weight="bold" fill="#222" font-family="Liberation Sans, sans-serif">10<tspan font-size="3.24" dy="-1.8">2</tspan></text>
<line x1="467.8" y1="97" x2="467.8" y2="99.4" stroke="#666" stroke-width="0.8"/>
<text x="468.7" y="105.9" text-anchor="middle" font-size="4.5" font-weight="bold" fill="#222" font-family="Liberation Sans, sans-serif">10<tspan font-size="3.24" dy="-1.8">3</tspan></text>
<line x1="488.1" y1="97" x2="488.1" y2="99.4" stroke="#666" stroke-width="0.8"/>
<text x="489" y="105.9" text-anchor="middle" font-size="4.5" font-weight="bold" fill="#222" font-family="Liberation Sans, sans-serif">10<tspan font-size="3.24" dy="-1.8">4</tspan></text>
<line x1="508.5" y1="97" x2="508.5" y2="99.4" stroke="#666" stroke-width="0.8"/>
<text x="509.4" y="105.9" text-anchor="middle" font-size="4.5" font-weight="bold" fill="#222" font-family="Liberation Sans, sans-serif">10<tspan font-size="3.24" dy="-1.8">5</tspan></text>
<path stroke="#777" stroke-width="0.6" d="M453.64 97.0v1.5M457.23 97.0v1.5M459.78 97.0v1.5M461.76 97.0v1.5M463.37 97.0v1.5M464.74 97.0v1.5M465.92 97.0v1.5M466.97 97.0v1.5M474.01 97.0v1.5M477.59 97.0v1.5M480.12 97.0v1.5M482.09 97.0v1.5M483.70 97.0v1.5M485.06 97.0v1.5M486.23 97.0v1.5M487.27 97.0v1.5M494.34 97.0v1.5M497.93 97.0v1.5M500.48 97.0v1.5M502.46 97.0v1.5M504.07 97.0v1.5M505.44 97.0v1.5M506.62 97.0v1.5M507.67 97.0v1.5"/>
<g fill="none" stroke="#bc48cc" stroke-width="1.25">
<polygon points="430.5,21 463.9,21 464.5,61.8 451,57.3 430.5,57.3"/>
<polygon points="430.5,57.3 451,57.3 465.5,61.8 465.5,96.5 430.5,96.5"/>
<polygon points="477.7,30.1 501.2,30.1 501.2,62 466.5,62"/>
<polygon points="466.5,62 501.5,62 501.5,96.5 466.5,96.5"/>
</g>
<text x="447" y="19.3" text-anchor="middle" font-size="5.0" font-weight="bold" fill="#1a1a1a" font-family="Liberation Sans, sans-serif">4.7</text>
<text x="494" y="27.9" text-anchor="middle" font-size="5.0" font-weight="bold" fill="#1a1a1a" font-family="Liberation Sans, sans-serif">2.5</text>
<text x="506.9" y="75.5" text-anchor="middle" font-size="5.0" font-weight="bold" fill="#1a1a1a" font-family="Liberation Sans, sans-serif">61.9</text>
<text x="440.6" y="93.1" text-anchor="middle" font-size="5.0" font-weight="bold" fill="#1a1a1a" font-family="Liberation Sans, sans-serif">10.4</text>
<text transform="translate(413.6 55) rotate(-90)" text-anchor="middle" font-size="12.8" font-weight="bold" font-family="Liberation Sans, sans-serif">CD56</text>
<text x="473.5" y="123.4" text-anchor="middle" font-size="12.8" font-weight="bold" font-family="Liberation Sans, sans-serif">CD16</text>
<text x="0.2" y="12.8" text-anchor="start" font-size="17.8" font-weight="bold" font-family="Liberation Sans, sans-serif">A</text>
<text x="0.1" y="157.2" text-anchor="start" font-size="17.8" font-weight="bold" font-family="Liberation Sans, sans-serif">B</text>
<rect x="35" y="156.7" width="102.5" height="102.3" fill="none" stroke="#9c9c9c" stroke-width="1.0"/>
<line x1="32.4" y1="257.8" x2="35" y2="257.8" stroke="#666" stroke-width="0.8"/>
<text x="31.7" y="259.78" text-anchor="end" font-size="5.5" font-weight="bold" fill="#222" font-family="Liberation Sans, sans-serif">0</text>
<line x1="32.4" y1="238.54" x2="35" y2="238.54" stroke="#666" stroke-width="0.8"/>
<text x="31.7" y="240.52" text-anchor="end" font-size="5.5" font-weight="bold" fill="#222" font-family="Liberation Sans, sans-serif">20</text>
<line x1="32.4" y1="219.28" x2="35" y2="219.28" stroke="#666" stroke-width="0.8"/>
<text x="31.7" y="221.26" text-anchor="end" font-size="5.5" font-weight="bold" fill="#222" font-family="Liberation Sans, sans-serif">40</text>
<line x1="32.4" y1="200.02" x2="35" y2="200.02" stroke="#666" stroke-width="0.8"/>
<text x="31.7" y="202" text-anchor="end" font-size="5.5" font-weight="bold" fill="#222" font-family="Liberation Sans, sans-serif">60</text>
<line x1="32.4" y1="180.76" x2="35" y2="180.76" stroke="#666" stroke-width="0.8"/>
<text x="31.7" y="182.74" text-anchor="end" font-size="5.5" font-weight="bold" fill="#222" font-family="Liberation Sans, sans-serif">80</text>
<line x1="32.4" y1="161.5" x2="35" y2="161.5" stroke="#666" stroke-width="0.8"/>
<text x="31.7" y="163.48" text-anchor="end" font-size="5.5" font-weight="bold" fill="#222" font-family="Liberation Sans, sans-serif">100</text>
<line x1="50.1" y1="259" x2="50.1" y2="261.4" stroke="#666" stroke-width="0.8"/>
<text x="50.1" y="270" text-anchor="middle" font-size="5.5" font-weight="bold" fill="#222" font-family="Liberation Sans, sans-serif">0</text>
<line x1="79.4" y1="259" x2="79.4" y2="261.4" stroke="#666" stroke-width="0.8"/>
<text x="80.5" y="270" text-anchor="middle" font-size="5.5" font-weight="bold" fill="#222" font-family="Liberation Sans, sans-serif">10<tspan font-size="3.96" dy="-2.2">3</tspan></text>
<line x1="103.5" y1="259" x2="103.5" y2="261.4" stroke="#666" stroke-width="0.8"/>
<text x="104.6" y="270" text-anchor="middle" font-size="5.5" font-weight="bold" fill="#222" font-family="Liberation Sans, sans-serif">10<tspan font-size="3.96" dy="-2.2">4</tspan></text>
<line x1="126.2" y1="259" x2="126.2" y2="261.4" stroke="#666" stroke-width="0.8"/>
<text x="127.3" y="270" text-anchor="middle" font-size="5.5" font-weight="bold" fill="#222" font-family="Liberation Sans, sans-serif">10<tspan font-size="3.96" dy="-2.2">5</tspan></text>
<path stroke="#777" stroke-width="0.6" d="M86.55 259.0v1.5M90.80 259.0v1.5M93.81 259.0v1.5M96.15 259.0v1.5M98.05 259.0v1.5M99.67 259.0v1.5M101.06 259.0v1.5M102.30 259.0v1.5M110.23 259.0v1.5M114.23 259.0v1.5M117.07 259.0v1.5M119.27 259.0v1.5M121.06 259.0v1.5M122.58 259.0v1.5M123.90 259.0v1.5M125.06 259.0v1.5"/>
<clipPath id="h1"><rect x="35" y="156.7" width="102.5" height="102.3"/></clipPath><g clip-path="url(#h1)">
<polygon points="35.5,258.5 36,252 38,245 39.5,238 41.9,228 45,210 48.4,192 51,180 54,169 56.7,163.9 59,167 62,180 64.6,192 66.5,210 68.9,228 71,243 73.6,252 76,255.5 79,258.5" fill="#d6d6d6"/>
<polyline points="36,257.5 50,257 56,255 60,252.5 61.9,251.6 63.8,249.7 65.7,246.8 67.2,241.1 68.6,233.5 69.9,225.9 71.8,216.4 73.7,205 74.9,189.6 75.9,180.3 76.8,173.7 77.7,170 78.7,166.3 79.6,163.5 80.5,164.4 81.5,167.2 82,170.9 82.4,176.5 83.3,182.1 83.9,185.9 84.6,193.3 85.2,198.9 86.1,204.5 87.6,212.6 88.5,218.3 89.5,220.2 90.4,224 91.4,229.7 92.7,237.3 94.2,244.9 95.7,250.6 97.1,254.8 99,256.7 101,257.5 137,257.5" fill="none" stroke="#5ec43a" stroke-width="1.5" stroke-linejoin="round"/>
<polyline points="36,257.5 55,257 60,256 63,254.5 65.5,252.5 67.2,251 68.6,251.6 70.5,253 73,254 75,253.5 78.1,250.6 80,246 81.9,237.3 83.2,230 84.3,224 85.5,215 86.6,205 88,195.2 88.9,189.6 89.9,185.9 90.8,182.1 91.7,176.5 92.3,170.9 92.8,165.3 93.6,163.5 94.3,167.2 94.9,178.4 95.4,189.6 96,200.8 97.1,205 98,220.2 99,233.5 99.9,244.9 100.9,252.5 102.2,256.7 104,257.5 137,257.5" fill="none" stroke="#d8321e" stroke-width="1.5" stroke-linejoin="round"/>
<polyline points="36,258.3 38,257.2 40,258.4 42,257 44,258.2 46,256.8 48,257.9 50,256.6 52,258 54,256.4 56,257.6 58,256 60,257.2 62,255.6 64,256.8 66,255.2 68,256 70,254.6 73.3,254.1 75.2,252.5 77.1,250.6 79,247.8 80.5,244.9 81.9,239.2 82.8,231.6 83.8,225.9 84.7,216.4 85.7,205 86.5,193.3 87.1,184 87.6,174.7 88.4,167.2 89.3,163.8 90.2,165.3 90.8,170.9 91.3,180.3 92.1,187.7 92.8,193.3 93.6,196.1 94.2,205 95.2,216.4 96.1,227.8 97.1,239.2 98,248.7 99,254.8 100.3,257.2 102,258.1 137,258.2" fill="none" stroke="#1c22d8" stroke-width="1.7" stroke-linejoin="round"/>
</g>
<text transform="translate(11.8 211) rotate(-90)" text-anchor="middle" font-size="12.8" font-weight="bold" font-family="Liberation Sans, sans-serif">% max</text>
<text x="88.2" y="284" text-anchor="middle" font-size="12.8" font-weight="bold" font-family="Liberation Sans, sans-serif">NKp46</text>
<rect x="176.3" y="156.9" width="101.3" height="102.1" fill="none" stroke="#9c9c9c" stroke-width="1.0"/>
<line x1="173.7" y1="257.8" x2="176.3" y2="257.8" stroke="#666" stroke-width="0.8"/>
<text x="173" y="259.78" text-anchor="end" font-size="5.5" font-weight="bold" fill="#222" font-family="Liberation Sans, sans-serif">0</text>
<line x1="173.7" y1="238.54" x2="176.3" y2="238.54" stroke="#666" stroke-width="0.8"/>
<text x="173" y="240.52" text-anchor="end" font-size="5.5" font-weight="bold" fill="#222" font-family="Liberation Sans, sans-serif">20</text>
<line x1="173.7" y1="219.28" x2="176.3" y2="219.28" stroke="#666" stroke-width="0.8"/>
<text x="173" y="221.26" text-anchor="end" font-size="5.5" font-weight="bold" fill="#222" font-family="Liberation Sans, sans-serif">40</text>
<line x1="173.7" y1="200.02" x2="176.3" y2="200.02" stroke="#666" stroke-width="0.8"/>
<text x="173" y="202" text-anchor="end" font-size="5.5" font-weight="bold" fill="#222" font-family="Liberation Sans, sans-serif">60</text>
<line x1="173.7" y1="180.76" x2="176.3" y2="180.76" stroke="#666" stroke-width="0.8"/>
<text x="173" y="182.74" text-anchor="end" font-size="5.5" font-weight="bold" fill="#222" font-family="Liberation Sans, sans-serif">80</text>
<line x1="173.7" y1="161.5" x2="176.3" y2="161.5" stroke="#666" stroke-width="0.8"/>
<text x="173" y="163.48" text-anchor="end" font-size="5.5" font-weight="bold" fill="#222" font-family="Liberation Sans, sans-serif">100</text>
<line x1="191.2" y1="259" x2="191.2" y2="261.4" stroke="#666" stroke-width="0.8"/>
<text x="191.2" y="270" text-anchor="middle" font-size="5.5" font-weight="bold" fill="#222" font-family="Liberation Sans, sans-serif">0</text>
<line x1="219.7" y1="259" x2="219.7" y2="261.4" stroke="#666" stroke-width="0.8"/>
<text x="220.8" y="270" text-anchor="middle" font-size="5.5" font-weight="bold" fill="#222" font-family="Liberation Sans, sans-serif">10<tspan font-size="3.96" dy="-2.2">3</tspan></text>
<line x1="244" y1="259" x2="244" y2="261.4" stroke="#666" stroke-width="0.8"/>
<text x="245.1" y="270" text-anchor="middle" font-size="5.5" font-weight="bold" fill="#222" font-family="Liberation Sans, sans-serif">10<tspan font-size="3.96" dy="-2.2">4</tspan></text>
<line x1="266.6" y1="259" x2="266.6" y2="261.4" stroke="#666" stroke-width="0.8"/>
<text x="267.7" y="270" text-anchor="middle" font-size="5.5" font-weight="bold" fill="#222" font-family="Liberation Sans, sans-serif">10<tspan font-size="3.96" dy="-2.2">5</tspan></text>
<path stroke="#777" stroke-width="0.6" d="M226.92 259.0v1.5M231.19 259.0v1.5M234.23 259.0v1.5M236.58 259.0v1.5M238.51 259.0v1.5M240.14 259.0v1.5M241.55 259.0v1.5M242.79 259.0v1.5M250.70 259.0v1.5M254.68 259.0v1.5M257.51 259.0v1.5M259.70 259.0v1.5M261.49 259.0v1.5M263.00 259.0v1.5M264.31 259.0v1.5M265.47 259.0v1.5"/>
<clipPath id="h2"><rect x="176.3" y="156.9" width="101.3" height="102.1"/></clipPath><g clip-path="url(#h2)">
<polygon points="180.36,258.81 181.16,245.66 181.96,229.71 183.95,209.78 185.94,193.84 187.94,181.89 189.93,171.92 191.92,165.94 193.91,161.96 195.91,161.96 197.9,163.95 199.89,171.92 201.89,181.89 203.88,197.83 205.87,213.77 207.86,229.71 209.86,243.66 211.85,251.63 214.64,256.82 217.83,258.81" fill="#d6d6d6"/>
<polyline points="185.94,258.41 193.91,255.62 199.89,249.64 203.88,239.68 206.67,227.72 209.06,215.76 210.65,205.8 212.25,193.84 213.84,185.87 215.44,177.9 217.03,169.93 218.62,165.94 220.22,163.95 221.81,169.93 223.41,181.89 225,197.83 226.6,213.77 228.19,229.71 229.78,243.66 231.78,253.63 233.77,257.61 236.96,258.41" fill="none" stroke="#5ec43a" stroke-width="1.5" stroke-linejoin="round"/>
<polyline points="177.17,258.81 179.96,257.61 183.95,254.42 187.94,249.64 190.73,241.67 193.12,237.68 194.71,227.72 196.31,231.71 197.9,225.73 199.49,221.74 201.09,215.76 202.68,209.78 204.28,197.83 205.87,189.86 207.47,179.89 209.06,177.9 210.65,171.92 212.25,165.94 213.84,163.95 215.44,173.91 217.03,167.94 218.62,181.89 220.22,197.83 221.81,213.77 223.41,229.71 225,245.66 226.6,254.42 228.19,257.61 230.58,258.41" fill="none" stroke="#d8321e" stroke-width="1.5" stroke-linejoin="round"/>
<polyline points="177.17,258.41 177.17,227.72 178.77,221.74 181.16,223.73 182.75,213.77 184.35,197.83 185.94,201.81 187.54,189.86 189.13,177.9 190.73,179.89 192.32,173.91 193.91,169.93 195.51,174.71 197.1,163.95 198.7,165.94 200.29,177.9 201.89,187.86 203.48,193.84 205.07,187.86 206.67,189.86 208.26,183.88 209.86,189.86 211.45,205.8 213.05,215.76 214.64,209.78 216.23,223.73 217.83,229.71 219.42,219.75 221.02,235.69 222.61,249.64 224.2,255.62 225.8,257.61 227.79,258.41 281.6,258.41" fill="none" stroke="#1c22d8" stroke-width="1.7" stroke-linejoin="round"/>
</g>
<text x="228" y="284" text-anchor="middle" font-size="12.8" font-weight="bold" font-family="Liberation Sans, sans-serif">NKp30</text>
<g stroke-width="2">
<line x1="297.8" y1="183.5" x2="316" y2="183.5" stroke="#7acc4a"/>
<line x1="297.8" y1="197.4" x2="316" y2="197.4" stroke="#2a2ad0"/>
<line x1="297.8" y1="211.6" x2="316" y2="211.6" stroke="#c83228"/>
</g>
<text x="322.6" y="187.8" text-anchor="start" font-size="11" font-weight="bold" font-family="Liberation Sans, sans-serif">CD16<tspan dy="-4" font-size="7">+</tspan></text>
<text x="322.6" y="201.7" text-anchor="start" font-size="11" font-weight="bold" font-family="Liberation Sans, sans-serif">CD56<tspan dy="-4" font-size="7">+</tspan></text>
<text x="322.6" y="215" text-anchor="start" font-size="11" font-weight="bold" font-family="Liberation Sans, sans-serif">DN</text>
</svg>
</body></html>
